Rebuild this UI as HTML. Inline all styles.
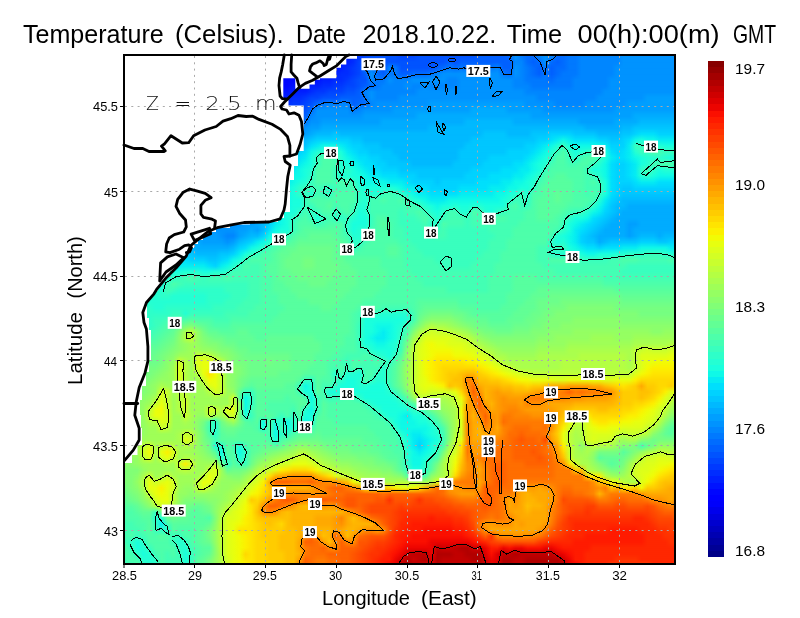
<!DOCTYPE html>
<html><head><meta charset="utf-8"><style>
html,body{margin:0;padding:0;background:#fff;width:800px;height:618px;overflow:hidden}
#fld{position:absolute;left:125px;top:56px;width:549px;height:507px;overflow:hidden}
#fld div{position:absolute;left:0;width:100%}
svg{position:absolute;left:0;top:0}
text{font-family:"Liberation Sans",Arial,sans-serif}
.thin{font-family:"DejaVu Sans",sans-serif;font-weight:200}
</style></head><body>
<div id="fld">
<div style="top:0px;height:7px;background:linear-gradient(90deg,#0006ff 0.5px,#0006ff 132.5px,#0000ff 138.5px,#0000ff 150.5px,#0000fb 156.5px,#0000fb 174.5px,#0000ff 180.5px,#0000ff 192.5px,#0006ff 198.5px,#0006ff 204.5px,#0013ff 210.5px,#0020ff 216.5px,#0020ff 222.5px,#002dff 228.5px,#0039ff 234.5px,#0046ff 240.5px,#0053ff 246.5px,#0053ff 270.5px,#0046ff 276.5px,#0046ff 288.5px,#0053ff 294.5px,#0053ff 348.5px,#0060ff 354.5px,#0060ff 378.5px,#006cff 384.5px,#0093ff 390.5px,#0079ff 396.5px,#006cff 402.5px,#006cff 408.5px,#0086ff 414.5px,#0093ff 420.5px,#0086ff 426.5px,#006cff 432.5px,#006cff 438.5px,#0079ff 444.5px,#0079ff 450.5px,#0086ff 456.5px,#0086ff 492.5px,#0093ff 498.5px,#0093ff 548.5px)"></div>
<div style="top:0px;height:12px;background:linear-gradient(90deg,#0006ff 0.5px,#0006ff 90.5px,#0013ff 96.5px,#0013ff 102.5px,#0006ff 108.5px,#0006ff 132.5px,#0000ff 138.5px,#0000ff 150.5px,#0000fb 156.5px,#0000fb 168.5px,#0000ff 174.5px,#0000ff 192.5px,#0006ff 198.5px,#0006ff 204.5px,#0013ff 210.5px,#0020ff 216.5px,#0020ff 222.5px,#002dff 228.5px,#0046ff 234.5px,#0053ff 240.5px,#0053ff 318.5px,#0060ff 324.5px,#0053ff 330.5px,#0060ff 336.5px,#0060ff 384.5px,#0086ff 390.5px,#0086ff 396.5px,#006cff 402.5px,#0060ff 408.5px,#006cff 414.5px,#0093ff 420.5px,#006cff 426.5px,#0060ff 432.5px,#006cff 438.5px,#0079ff 444.5px,#0079ff 450.5px,#0086ff 456.5px,#0086ff 492.5px,#0093ff 498.5px,#0093ff 548.5px);-webkit-mask-image:linear-gradient(180deg,transparent 0,#000 6px);mask-image:linear-gradient(180deg,transparent 0,#000 6px)"></div>
<div style="top:6px;height:12px;background:linear-gradient(90deg,#0013ff 0.5px,#0013ff 114.5px,#0006ff 120.5px,#0006ff 132.5px,#0000ff 138.5px,#0000ff 186.5px,#0006ff 192.5px,#0006ff 198.5px,#0013ff 204.5px,#0013ff 210.5px,#0020ff 216.5px,#002dff 222.5px,#0039ff 228.5px,#0046ff 234.5px,#0079ff 240.5px,#0079ff 246.5px,#006cff 252.5px,#0053ff 258.5px,#0086ff 264.5px,#0079ff 270.5px,#0053ff 276.5px,#0053ff 306.5px,#0060ff 312.5px,#006cff 318.5px,#0079ff 324.5px,#006cff 330.5px,#0079ff 336.5px,#006cff 342.5px,#006cff 354.5px,#0079ff 360.5px,#0079ff 366.5px,#0086ff 372.5px,#0060ff 378.5px,#0060ff 384.5px,#0093ff 390.5px,#0086ff 396.5px,#0079ff 402.5px,#006cff 408.5px,#0060ff 414.5px,#0079ff 420.5px,#0060ff 426.5px,#006cff 432.5px,#006cff 438.5px,#0079ff 444.5px,#0079ff 450.5px,#0086ff 456.5px,#0086ff 486.5px,#0093ff 492.5px,#0093ff 548.5px);-webkit-mask-image:linear-gradient(180deg,transparent 0,#000 6px);mask-image:linear-gradient(180deg,transparent 0,#000 6px)"></div>
<div style="top:12px;height:12px;background:linear-gradient(90deg,#0013ff 0.5px,#0013ff 120.5px,#0006ff 126.5px,#0006ff 144.5px,#0000ff 150.5px,#0000ff 174.5px,#0006ff 180.5px,#0006ff 192.5px,#0013ff 198.5px,#0013ff 204.5px,#0020ff 210.5px,#002dff 216.5px,#002dff 222.5px,#0039ff 228.5px,#0046ff 234.5px,#0060ff 240.5px,#0093ff 246.5px,#006cff 252.5px,#0060ff 258.5px,#0079ff 264.5px,#0079ff 270.5px,#0060ff 276.5px,#0060ff 282.5px,#006cff 288.5px,#006cff 300.5px,#0079ff 306.5px,#0086ff 312.5px,#0093ff 318.5px,#0093ff 372.5px,#0079ff 378.5px,#006cff 384.5px,#0093ff 390.5px,#0086ff 396.5px,#0079ff 402.5px,#006cff 408.5px,#0060ff 414.5px,#0079ff 420.5px,#0060ff 426.5px,#006cff 432.5px,#0079ff 438.5px,#0079ff 450.5px,#0086ff 456.5px,#0086ff 486.5px,#0093ff 492.5px,#0093ff 548.5px);-webkit-mask-image:linear-gradient(180deg,transparent 0,#000 6px);mask-image:linear-gradient(180deg,transparent 0,#000 6px)"></div>
<div style="top:18px;height:12px;background:linear-gradient(90deg,#0013ff 0.5px,#0013ff 132.5px,#0006ff 138.5px,#0006ff 180.5px,#0013ff 186.5px,#0013ff 192.5px,#0020ff 198.5px,#0020ff 204.5px,#002dff 210.5px,#002dff 216.5px,#0039ff 222.5px,#0046ff 228.5px,#0053ff 234.5px,#0053ff 240.5px,#0086ff 246.5px,#0079ff 252.5px,#0079ff 258.5px,#0093ff 264.5px,#0086ff 270.5px,#0086ff 282.5px,#0093ff 288.5px,#0093ff 318.5px,#0086ff 324.5px,#0086ff 330.5px,#0093ff 336.5px,#0093ff 384.5px,#0086ff 390.5px,#0086ff 396.5px,#0079ff 402.5px,#0079ff 420.5px,#006cff 426.5px,#0079ff 432.5px,#0079ff 444.5px,#0086ff 450.5px,#0086ff 480.5px,#0093ff 486.5px,#0093ff 548.5px);-webkit-mask-image:linear-gradient(180deg,transparent 0,#000 6px);mask-image:linear-gradient(180deg,transparent 0,#000 6px)"></div>
<div style="top:24px;height:12px;background:linear-gradient(90deg,#0020ff 0.5px,#0020ff 120.5px,#0013ff 126.5px,#0013ff 144.5px,#0006ff 150.5px,#0006ff 162.5px,#0013ff 168.5px,#0013ff 180.5px,#0020ff 186.5px,#0020ff 192.5px,#002dff 198.5px,#002dff 204.5px,#0039ff 210.5px,#0039ff 216.5px,#0046ff 222.5px,#0046ff 228.5px,#0053ff 234.5px,#0060ff 240.5px,#006cff 246.5px,#0079ff 252.5px,#0086ff 258.5px,#0086ff 276.5px,#0093ff 282.5px,#0086ff 288.5px,#0086ff 294.5px,#0093ff 300.5px,#0086ff 306.5px,#0086ff 330.5px,#0093ff 336.5px,#0093ff 384.5px,#0086ff 390.5px,#0086ff 402.5px,#0079ff 408.5px,#0079ff 444.5px,#0086ff 450.5px,#0086ff 480.5px,#0093ff 486.5px,#0093ff 548.5px);-webkit-mask-image:linear-gradient(180deg,transparent 0,#000 6px);mask-image:linear-gradient(180deg,transparent 0,#000 6px)"></div>
<div style="top:30px;height:12px;background:linear-gradient(90deg,#0020ff 0.5px,#0020ff 138.5px,#0013ff 144.5px,#0013ff 162.5px,#0020ff 168.5px,#0020ff 180.5px,#002dff 186.5px,#0039ff 192.5px,#0039ff 198.5px,#0046ff 204.5px,#0046ff 216.5px,#0053ff 222.5px,#0053ff 228.5px,#0060ff 234.5px,#0086ff 240.5px,#0093ff 246.5px,#0086ff 252.5px,#0086ff 288.5px,#0093ff 294.5px,#0093ff 396.5px,#0086ff 402.5px,#0086ff 474.5px,#0093ff 480.5px,#0093ff 548.5px);-webkit-mask-image:linear-gradient(180deg,transparent 0,#000 6px);mask-image:linear-gradient(180deg,transparent 0,#000 6px)"></div>
<div style="top:36px;height:12px;background:linear-gradient(90deg,#002dff 0.5px,#002dff 132.5px,#0020ff 138.5px,#0020ff 162.5px,#002dff 168.5px,#002dff 174.5px,#0039ff 180.5px,#0046ff 186.5px,#0046ff 192.5px,#0053ff 198.5px,#0053ff 210.5px,#0060ff 216.5px,#0060ff 234.5px,#0079ff 240.5px,#0093ff 246.5px,#0086ff 252.5px,#0086ff 270.5px,#0093ff 276.5px,#0093ff 408.5px,#0086ff 414.5px,#0086ff 468.5px,#0093ff 474.5px,#0093ff 516.5px,#009fff 522.5px,#009fff 548.5px);-webkit-mask-image:linear-gradient(180deg,transparent 0,#000 6px);mask-image:linear-gradient(180deg,transparent 0,#000 6px)"></div>
<div style="top:42px;height:12px;background:linear-gradient(90deg,#0039ff 0.5px,#0039ff 132.5px,#002dff 138.5px,#002dff 162.5px,#0039ff 168.5px,#0039ff 174.5px,#0046ff 180.5px,#0053ff 186.5px,#006cff 192.5px,#0079ff 198.5px,#0086ff 204.5px,#0079ff 210.5px,#0086ff 216.5px,#0086ff 222.5px,#0060ff 228.5px,#006cff 234.5px,#006cff 240.5px,#0086ff 246.5px,#0093ff 252.5px,#0093ff 300.5px,#009fff 306.5px,#009fff 396.5px,#0093ff 402.5px,#0093ff 426.5px,#0086ff 432.5px,#0086ff 456.5px,#0093ff 462.5px,#0093ff 498.5px,#009fff 504.5px,#009fff 548.5px);-webkit-mask-image:linear-gradient(180deg,transparent 0,#000 6px);mask-image:linear-gradient(180deg,transparent 0,#000 6px)"></div>
<div style="top:48px;height:12px;background:linear-gradient(90deg,#0046ff 0.5px,#0046ff 132.5px,#0039ff 138.5px,#0039ff 156.5px,#0046ff 162.5px,#0046ff 174.5px,#0053ff 180.5px,#006cff 186.5px,#0093ff 192.5px,#0093ff 222.5px,#0079ff 228.5px,#0086ff 234.5px,#0093ff 240.5px,#0093ff 264.5px,#009fff 270.5px,#009fff 342.5px,#00acff 348.5px,#00acff 378.5px,#009fff 384.5px,#009fff 414.5px,#0093ff 420.5px,#0093ff 486.5px,#009fff 492.5px,#009fff 548.5px);-webkit-mask-image:linear-gradient(180deg,transparent 0,#000 6px);mask-image:linear-gradient(180deg,transparent 0,#000 6px)"></div>
<div style="top:54px;height:12px;background:linear-gradient(90deg,#0053ff 0.5px,#0053ff 174.5px,#0060ff 180.5px,#0086ff 186.5px,#0093ff 192.5px,#0093ff 234.5px,#009fff 240.5px,#009fff 288.5px,#00acff 294.5px,#00acff 402.5px,#009fff 408.5px,#009fff 504.5px,#00acff 510.5px,#00acff 548.5px);-webkit-mask-image:linear-gradient(180deg,transparent 0,#000 6px);mask-image:linear-gradient(180deg,transparent 0,#000 6px)"></div>
<div style="top:60px;height:12px;background:linear-gradient(90deg,#0060ff 0.5px,#0060ff 174.5px,#0079ff 180.5px,#0093ff 186.5px,#0093ff 192.5px,#009fff 198.5px,#009fff 252.5px,#00acff 258.5px,#00acff 336.5px,#00b9ff 342.5px,#00b9ff 384.5px,#00acff 390.5px,#00acff 450.5px,#009fff 456.5px,#009fff 486.5px,#00acff 492.5px,#00acff 510.5px,#00b9ff 516.5px,#00b9ff 548.5px);-webkit-mask-image:linear-gradient(180deg,transparent 0,#000 6px);mask-image:linear-gradient(180deg,transparent 0,#000 6px)"></div>
<div style="top:66px;height:12px;background:linear-gradient(90deg,#006cff 0.5px,#006cff 156.5px,#0079ff 162.5px,#0079ff 168.5px,#0086ff 174.5px,#0093ff 180.5px,#009fff 186.5px,#009fff 192.5px,#00acff 198.5px,#00acff 300.5px,#00b9ff 306.5px,#00b9ff 456.5px,#00acff 462.5px,#00acff 492.5px,#00b9ff 498.5px,#00b9ff 504.5px,#00c6ff 510.5px,#00c6ff 548.5px);-webkit-mask-image:linear-gradient(180deg,transparent 0,#000 6px);mask-image:linear-gradient(180deg,transparent 0,#000 6px)"></div>
<div style="top:72px;height:12px;background:linear-gradient(90deg,#0079ff 0.5px,#0079ff 144.5px,#0086ff 150.5px,#0086ff 162.5px,#0093ff 168.5px,#0093ff 174.5px,#009fff 180.5px,#00acff 186.5px,#00b9ff 192.5px,#00b9ff 204.5px,#00c6ff 210.5px,#00b9ff 216.5px,#00b9ff 354.5px,#00c6ff 360.5px,#00c6ff 378.5px,#00b9ff 384.5px,#00b9ff 402.5px,#00c6ff 408.5px,#00c6ff 420.5px,#00d2ff 426.5px,#00d2ff 444.5px,#00c6ff 450.5px,#00c6ff 468.5px,#00b9ff 474.5px,#00b9ff 492.5px,#00c6ff 498.5px,#00c6ff 504.5px,#00d2ff 510.5px,#00dffc 516.5px,#00dffc 528.5px,#00d2ff 534.5px,#00d2ff 548.5px);-webkit-mask-image:linear-gradient(180deg,transparent 0,#000 6px);mask-image:linear-gradient(180deg,transparent 0,#000 6px)"></div>
<div style="top:78px;height:12px;background:linear-gradient(90deg,#0086ff 0.5px,#0086ff 138.5px,#0093ff 144.5px,#0093ff 156.5px,#009fff 162.5px,#009fff 168.5px,#00acff 174.5px,#00b9ff 180.5px,#00c6ff 186.5px,#00d2ff 192.5px,#00d2ff 222.5px,#00c6ff 228.5px,#00c6ff 234.5px,#00b9ff 240.5px,#00b9ff 342.5px,#00c6ff 348.5px,#00c6ff 408.5px,#00d2ff 414.5px,#00d2ff 420.5px,#00dffc 426.5px,#05ecf2 432.5px,#0ff9e7 438.5px,#05ecf2 444.5px,#00dffc 450.5px,#00dffc 468.5px,#00d2ff 474.5px,#00d2ff 480.5px,#00c6ff 486.5px,#00c6ff 492.5px,#00d2ff 498.5px,#00dffc 504.5px,#0ff9e7 510.5px,#1affdd 516.5px,#0ff9e7 522.5px,#0ff9e7 528.5px,#05ecf2 534.5px,#05ecf2 548.5px);-webkit-mask-image:linear-gradient(180deg,transparent 0,#000 6px);mask-image:linear-gradient(180deg,transparent 0,#000 6px)"></div>
<div style="top:84px;height:12px;background:linear-gradient(90deg,#0093ff 0.5px,#0093ff 132.5px,#009fff 138.5px,#009fff 150.5px,#00acff 156.5px,#00acff 162.5px,#00b9ff 168.5px,#00b9ff 174.5px,#00c6ff 180.5px,#00dffc 186.5px,#05ecf2 192.5px,#0ff9e7 198.5px,#0ff9e7 210.5px,#05ecf2 216.5px,#00dffc 222.5px,#00d2ff 228.5px,#00d2ff 234.5px,#00c6ff 240.5px,#00c6ff 252.5px,#00b9ff 258.5px,#00b9ff 336.5px,#00c6ff 342.5px,#00c6ff 396.5px,#00d2ff 402.5px,#00d2ff 408.5px,#00dffc 414.5px,#05ecf2 420.5px,#0ff9e7 426.5px,#24ffd3 432.5px,#39ffbe 438.5px,#1affdd 444.5px,#0ff9e7 450.5px,#0ff9e7 474.5px,#05ecf2 480.5px,#00d2ff 486.5px,#00d2ff 498.5px,#05ecf2 504.5px,#39ffbe 510.5px,#39ffbe 522.5px,#2effc9 528.5px,#24ffd3 534.5px,#1affdd 540.5px,#1affdd 548.5px);-webkit-mask-image:linear-gradient(180deg,transparent 0,#000 6px);mask-image:linear-gradient(180deg,transparent 0,#000 6px)"></div>
<div style="top:90px;height:12px;background:linear-gradient(90deg,#009fff 0.5px,#009fff 132.5px,#00acff 138.5px,#00acff 150.5px,#00b9ff 156.5px,#00b9ff 162.5px,#00c6ff 168.5px,#00d2ff 174.5px,#00dffc 180.5px,#0ff9e7 186.5px,#24ffd3 192.5px,#2effc9 198.5px,#2effc9 210.5px,#1affdd 216.5px,#05ecf2 222.5px,#00dffc 228.5px,#00d2ff 234.5px,#00d2ff 240.5px,#00c6ff 246.5px,#00c6ff 264.5px,#00b9ff 270.5px,#00b9ff 330.5px,#00c6ff 336.5px,#00c6ff 378.5px,#00d2ff 384.5px,#00d2ff 402.5px,#00dffc 408.5px,#05ecf2 414.5px,#0ff9e7 420.5px,#24ffd3 426.5px,#39ffbe 432.5px,#4dffaa 438.5px,#2effc9 444.5px,#1affdd 450.5px,#24ffd3 456.5px,#2effc9 462.5px,#39ffbe 468.5px,#39ffbe 474.5px,#1affdd 480.5px,#00dffc 486.5px,#00d2ff 492.5px,#00dffc 498.5px,#05ecf2 504.5px,#24ffd3 510.5px,#39ffbe 516.5px,#39ffbe 522.5px,#4dffaa 528.5px,#43ffb4 534.5px,#39ffbe 540.5px,#39ffbe 548.5px);-webkit-mask-image:linear-gradient(180deg,transparent 0,#000 6px);mask-image:linear-gradient(180deg,transparent 0,#000 6px)"></div>
<div style="top:96px;height:12px;background:linear-gradient(90deg,#009fff 0.5px,#009fff 114.5px,#00acff 120.5px,#00acff 138.5px,#00b9ff 144.5px,#00b9ff 150.5px,#00c6ff 156.5px,#00c6ff 162.5px,#00d2ff 168.5px,#00dffc 174.5px,#05ecf2 180.5px,#1affdd 186.5px,#39ffbe 192.5px,#4dffaa 198.5px,#4dffaa 204.5px,#43ffb4 210.5px,#24ffd3 216.5px,#0ff9e7 222.5px,#05ecf2 228.5px,#00dffc 234.5px,#00dffc 240.5px,#00d2ff 246.5px,#00d2ff 252.5px,#00c6ff 258.5px,#00c6ff 270.5px,#00b9ff 276.5px,#00b9ff 330.5px,#00c6ff 336.5px,#00c6ff 360.5px,#00d2ff 366.5px,#00d2ff 396.5px,#00dffc 402.5px,#05ecf2 408.5px,#0ff9e7 414.5px,#1affdd 420.5px,#2effc9 426.5px,#4dffaa 432.5px,#4dffaa 438.5px,#39ffbe 444.5px,#24ffd3 450.5px,#43ffb4 456.5px,#4dffaa 462.5px,#4dffaa 468.5px,#39ffbe 474.5px,#1affdd 480.5px,#05ecf2 486.5px,#00dffc 492.5px,#00dffc 498.5px,#05ecf2 504.5px,#0ff9e7 510.5px,#1affdd 516.5px,#24ffd3 522.5px,#24ffd3 528.5px,#2effc9 534.5px,#24ffd3 540.5px,#1affdd 546.5px,#24ffd3 548.5px);-webkit-mask-image:linear-gradient(180deg,transparent 0,#000 6px);mask-image:linear-gradient(180deg,transparent 0,#000 6px)"></div>
<div style="top:102px;height:12px;background:linear-gradient(90deg,#00acff 0.5px,#00acff 126.5px,#00b9ff 132.5px,#00b9ff 144.5px,#00c6ff 150.5px,#00d2ff 156.5px,#00d2ff 162.5px,#00dffc 168.5px,#05ecf2 174.5px,#0ff9e7 180.5px,#1affdd 186.5px,#39ffbe 192.5px,#4dffaa 198.5px,#4dffaa 204.5px,#43ffb4 210.5px,#24ffd3 216.5px,#1affdd 222.5px,#0ff9e7 228.5px,#05ecf2 234.5px,#00dffc 240.5px,#00dffc 246.5px,#00d2ff 252.5px,#00d2ff 258.5px,#00c6ff 264.5px,#00c6ff 282.5px,#00b9ff 288.5px,#00b9ff 324.5px,#00c6ff 330.5px,#00c6ff 354.5px,#00d2ff 360.5px,#00d2ff 384.5px,#00dffc 390.5px,#00dffc 396.5px,#05ecf2 402.5px,#0ff9e7 408.5px,#1affdd 414.5px,#24ffd3 420.5px,#43ffb4 426.5px,#4dffaa 432.5px,#4dffaa 438.5px,#43ffb4 444.5px,#43ffb4 450.5px,#4dffaa 456.5px,#4dffaa 462.5px,#39ffbe 468.5px,#24ffd3 474.5px,#0ff9e7 480.5px,#00dffc 486.5px,#00d2ff 492.5px,#00d2ff 498.5px,#00dffc 504.5px,#05ecf2 510.5px,#1affdd 516.5px,#24ffd3 522.5px,#43ffb4 528.5px,#43ffb4 534.5px,#4dffaa 540.5px,#4dffaa 546.5px,#43ffb4 548.5px);-webkit-mask-image:linear-gradient(180deg,transparent 0,#000 6px);mask-image:linear-gradient(180deg,transparent 0,#000 6px)"></div>
<div style="top:108px;height:12px;background:linear-gradient(90deg,#00acff 0.5px,#00acff 120.5px,#00b9ff 126.5px,#00b9ff 138.5px,#00c6ff 144.5px,#00d2ff 150.5px,#00d2ff 156.5px,#00dffc 162.5px,#05ecf2 168.5px,#0ff9e7 174.5px,#1affdd 180.5px,#24ffd3 186.5px,#4dffaa 192.5px,#4dffaa 204.5px,#39ffbe 210.5px,#24ffd3 216.5px,#2effc9 222.5px,#1affdd 228.5px,#0ff9e7 234.5px,#05ecf2 240.5px,#00dffc 246.5px,#00dffc 252.5px,#00d2ff 258.5px,#00d2ff 270.5px,#00c6ff 276.5px,#00c6ff 342.5px,#00d2ff 348.5px,#00d2ff 372.5px,#00dffc 378.5px,#00dffc 390.5px,#05ecf2 396.5px,#05ecf2 402.5px,#0ff9e7 408.5px,#1affdd 414.5px,#39ffbe 420.5px,#4dffaa 426.5px,#4dffaa 456.5px,#39ffbe 462.5px,#1affdd 468.5px,#1affdd 474.5px,#0ff9e7 480.5px,#00dffc 486.5px,#00d2ff 492.5px,#00d2ff 498.5px,#00dffc 504.5px,#05ecf2 510.5px,#2effc9 516.5px,#43ffb4 522.5px,#2effc9 528.5px,#1affdd 534.5px,#24ffd3 540.5px,#24ffd3 548.5px);-webkit-mask-image:linear-gradient(180deg,transparent 0,#000 6px);mask-image:linear-gradient(180deg,transparent 0,#000 6px)"></div>
<div style="top:114px;height:12px;background:linear-gradient(90deg,#00acff 0.5px,#00acff 120.5px,#00b9ff 126.5px,#00b9ff 132.5px,#00c6ff 138.5px,#00c6ff 144.5px,#00d2ff 150.5px,#00dffc 156.5px,#05ecf2 162.5px,#0ff9e7 168.5px,#0ff9e7 174.5px,#1affdd 180.5px,#2effc9 186.5px,#4dffaa 192.5px,#4dffaa 204.5px,#39ffbe 210.5px,#1affdd 216.5px,#24ffd3 222.5px,#1affdd 228.5px,#1affdd 234.5px,#0ff9e7 240.5px,#05ecf2 246.5px,#05ecf2 252.5px,#00dffc 258.5px,#00dffc 270.5px,#00d2ff 276.5px,#00d2ff 288.5px,#00c6ff 294.5px,#00c6ff 336.5px,#00d2ff 342.5px,#00d2ff 360.5px,#00dffc 366.5px,#00dffc 384.5px,#05ecf2 390.5px,#05ecf2 396.5px,#0ff9e7 402.5px,#1affdd 408.5px,#2effc9 414.5px,#4dffaa 420.5px,#4dffaa 426.5px,#57ff9f 432.5px,#57ff9f 438.5px,#4dffaa 444.5px,#4dffaa 456.5px,#43ffb4 462.5px,#39ffbe 468.5px,#24ffd3 474.5px,#0ff9e7 480.5px,#00dffc 486.5px,#00d2ff 492.5px,#00d2ff 498.5px,#00dffc 504.5px,#05ecf2 510.5px,#24ffd3 516.5px,#2effc9 522.5px,#1affdd 528.5px,#0ff9e7 534.5px,#0ff9e7 548.5px);-webkit-mask-image:linear-gradient(180deg,transparent 0,#000 6px);mask-image:linear-gradient(180deg,transparent 0,#000 6px)"></div>
<div style="top:120px;height:12px;background:linear-gradient(90deg,#00acff 0.5px,#00acff 126.5px,#00b9ff 132.5px,#00c6ff 138.5px,#00c6ff 144.5px,#00d2ff 150.5px,#00dffc 156.5px,#05ecf2 162.5px,#0ff9e7 168.5px,#1affdd 174.5px,#24ffd3 180.5px,#39ffbe 186.5px,#4dffaa 192.5px,#4dffaa 204.5px,#43ffb4 210.5px,#4dffaa 216.5px,#43ffb4 222.5px,#39ffbe 228.5px,#1affdd 234.5px,#0ff9e7 240.5px,#0ff9e7 258.5px,#05ecf2 264.5px,#05ecf2 276.5px,#00dffc 282.5px,#00d2ff 288.5px,#00d2ff 306.5px,#00c6ff 312.5px,#00d2ff 318.5px,#00d2ff 348.5px,#00dffc 354.5px,#00dffc 372.5px,#05ecf2 378.5px,#05ecf2 384.5px,#0ff9e7 390.5px,#0ff9e7 396.5px,#1affdd 402.5px,#24ffd3 408.5px,#43ffb4 414.5px,#4dffaa 420.5px,#57ff9f 426.5px,#57ff9f 444.5px,#4dffaa 450.5px,#4dffaa 456.5px,#43ffb4 462.5px,#4dffaa 468.5px,#39ffbe 474.5px,#1affdd 480.5px,#00dffc 486.5px,#00d2ff 492.5px,#00d2ff 504.5px,#00dffc 510.5px,#05ecf2 516.5px,#05ecf2 528.5px,#00dffc 534.5px,#00dffc 548.5px);-webkit-mask-image:linear-gradient(180deg,transparent 0,#000 6px);mask-image:linear-gradient(180deg,transparent 0,#000 6px)"></div>
<div style="top:126px;height:12px;background:linear-gradient(90deg,#00acff 0.5px,#00acff 126.5px,#00b9ff 132.5px,#00c6ff 138.5px,#00c6ff 144.5px,#00d2ff 150.5px,#05ecf2 156.5px,#0ff9e7 162.5px,#1affdd 168.5px,#2effc9 174.5px,#39ffbe 180.5px,#39ffbe 186.5px,#43ffb4 192.5px,#39ffbe 198.5px,#2effc9 204.5px,#43ffb4 210.5px,#43ffb4 228.5px,#24ffd3 234.5px,#1affdd 240.5px,#1affdd 258.5px,#24ffd3 264.5px,#1affdd 270.5px,#0ff9e7 276.5px,#05ecf2 282.5px,#05ecf2 288.5px,#00dffc 294.5px,#00dffc 300.5px,#00d2ff 306.5px,#00d2ff 330.5px,#00dffc 336.5px,#00dffc 360.5px,#05ecf2 366.5px,#05ecf2 378.5px,#0ff9e7 384.5px,#0ff9e7 390.5px,#1affdd 396.5px,#1affdd 402.5px,#2effc9 408.5px,#4dffaa 414.5px,#57ff9f 420.5px,#57ff9f 444.5px,#4dffaa 450.5px,#4dffaa 456.5px,#43ffb4 462.5px,#43ffb4 474.5px,#1affdd 480.5px,#00dffc 486.5px,#00d2ff 492.5px,#00c6ff 498.5px,#00c6ff 504.5px,#00d2ff 510.5px,#00d2ff 548.5px);-webkit-mask-image:linear-gradient(180deg,transparent 0,#000 6px);mask-image:linear-gradient(180deg,transparent 0,#000 6px)"></div>
<div style="top:132px;height:12px;background:linear-gradient(90deg,#00acff 0.5px,#00acff 90.5px,#009fff 96.5px,#009fff 120.5px,#00acff 126.5px,#00b9ff 132.5px,#00b9ff 138.5px,#00c6ff 144.5px,#00dffc 150.5px,#05ecf2 156.5px,#0ff9e7 162.5px,#1affdd 168.5px,#2effc9 174.5px,#39ffbe 180.5px,#24ffd3 186.5px,#43ffb4 192.5px,#39ffbe 198.5px,#2effc9 204.5px,#4dffaa 210.5px,#4dffaa 228.5px,#2effc9 234.5px,#24ffd3 240.5px,#24ffd3 252.5px,#39ffbe 258.5px,#43ffb4 264.5px,#39ffbe 270.5px,#2effc9 276.5px,#1affdd 282.5px,#0ff9e7 288.5px,#05ecf2 294.5px,#05ecf2 300.5px,#00dffc 306.5px,#00dffc 330.5px,#05ecf2 336.5px,#05ecf2 366.5px,#0ff9e7 372.5px,#0ff9e7 378.5px,#1affdd 384.5px,#24ffd3 390.5px,#39ffbe 396.5px,#24ffd3 402.5px,#4dffaa 408.5px,#4dffaa 414.5px,#57ff9f 420.5px,#57ff9f 426.5px,#62ff95 432.5px,#57ff9f 438.5px,#57ff9f 444.5px,#4dffaa 450.5px,#4dffaa 456.5px,#43ffb4 462.5px,#4dffaa 468.5px,#39ffbe 474.5px,#1affdd 480.5px,#00dffc 486.5px,#00d2ff 492.5px,#00c6ff 498.5px,#00c6ff 548.5px);-webkit-mask-image:linear-gradient(180deg,transparent 0,#000 6px);mask-image:linear-gradient(180deg,transparent 0,#000 6px)"></div>
<div style="top:138px;height:12px;background:linear-gradient(90deg,#00acff 0.5px,#00acff 78.5px,#009fff 84.5px,#009fff 120.5px,#00acff 126.5px,#00acff 132.5px,#00b9ff 138.5px,#00d2ff 144.5px,#00dffc 150.5px,#05ecf2 156.5px,#0ff9e7 162.5px,#1affdd 168.5px,#1affdd 174.5px,#39ffbe 180.5px,#4dffaa 186.5px,#4dffaa 228.5px,#2effc9 234.5px,#24ffd3 240.5px,#43ffb4 246.5px,#43ffb4 252.5px,#4dffaa 258.5px,#43ffb4 264.5px,#43ffb4 270.5px,#4dffaa 276.5px,#39ffbe 282.5px,#24ffd3 288.5px,#1affdd 294.5px,#0ff9e7 300.5px,#05ecf2 306.5px,#05ecf2 318.5px,#0ff9e7 324.5px,#0ff9e7 372.5px,#1affdd 378.5px,#24ffd3 384.5px,#39ffbe 390.5px,#39ffbe 396.5px,#2effc9 402.5px,#4dffaa 408.5px,#57ff9f 414.5px,#57ff9f 426.5px,#62ff95 432.5px,#57ff9f 438.5px,#57ff9f 444.5px,#4dffaa 450.5px,#4dffaa 462.5px,#43ffb4 468.5px,#24ffd3 474.5px,#05ecf2 480.5px,#00d2ff 486.5px,#00c6ff 492.5px,#00b9ff 498.5px,#00b9ff 548.5px);-webkit-mask-image:linear-gradient(180deg,transparent 0,#000 6px);mask-image:linear-gradient(180deg,transparent 0,#000 6px)"></div>
<div style="top:144px;height:12px;background:linear-gradient(90deg,#00acff 0.5px,#00acff 30.5px,#009fff 36.5px,#009fff 54.5px,#00acff 60.5px,#009fff 66.5px,#009fff 96.5px,#0093ff 102.5px,#0093ff 114.5px,#009fff 120.5px,#009fff 126.5px,#00acff 132.5px,#00b9ff 138.5px,#00d2ff 144.5px,#00dffc 150.5px,#05ecf2 156.5px,#0ff9e7 162.5px,#1affdd 168.5px,#1affdd 174.5px,#39ffbe 180.5px,#39ffbe 186.5px,#4dffaa 192.5px,#4dffaa 198.5px,#57ff9f 204.5px,#43ffb4 210.5px,#4dffaa 216.5px,#4dffaa 222.5px,#43ffb4 228.5px,#24ffd3 234.5px,#24ffd3 240.5px,#43ffb4 246.5px,#43ffb4 288.5px,#39ffbe 294.5px,#24ffd3 300.5px,#1affdd 306.5px,#0ff9e7 312.5px,#1affdd 318.5px,#1affdd 324.5px,#24ffd3 330.5px,#1affdd 336.5px,#1affdd 342.5px,#24ffd3 348.5px,#24ffd3 354.5px,#1affdd 360.5px,#1affdd 378.5px,#43ffb4 384.5px,#4dffaa 390.5px,#39ffbe 396.5px,#39ffbe 402.5px,#4dffaa 408.5px,#57ff9f 414.5px,#57ff9f 438.5px,#4dffaa 444.5px,#4dffaa 456.5px,#43ffb4 462.5px,#2effc9 468.5px,#0ff9e7 474.5px,#00dffc 480.5px,#00c6ff 486.5px,#00b9ff 492.5px,#00b9ff 498.5px,#00acff 504.5px,#00acff 548.5px);-webkit-mask-image:linear-gradient(180deg,transparent 0,#000 6px);mask-image:linear-gradient(180deg,transparent 0,#000 6px)"></div>
<div style="top:150px;height:12px;background:linear-gradient(90deg,#00acff 0.5px,#00acff 30.5px,#009fff 36.5px,#009fff 90.5px,#0093ff 96.5px,#0093ff 114.5px,#009fff 120.5px,#009fff 126.5px,#00acff 132.5px,#00b9ff 138.5px,#00d2ff 144.5px,#00dffc 150.5px,#0ff9e7 156.5px,#1affdd 162.5px,#1affdd 168.5px,#2effc9 174.5px,#43ffb4 180.5px,#2effc9 186.5px,#39ffbe 192.5px,#4dffaa 198.5px,#4dffaa 204.5px,#2effc9 210.5px,#43ffb4 216.5px,#4dffaa 222.5px,#39ffbe 228.5px,#1affdd 234.5px,#24ffd3 240.5px,#43ffb4 246.5px,#43ffb4 270.5px,#39ffbe 276.5px,#43ffb4 282.5px,#43ffb4 288.5px,#4dffaa 294.5px,#39ffbe 300.5px,#24ffd3 306.5px,#1affdd 312.5px,#2effc9 318.5px,#43ffb4 324.5px,#43ffb4 330.5px,#24ffd3 336.5px,#24ffd3 342.5px,#4dffaa 348.5px,#43ffb4 354.5px,#24ffd3 360.5px,#1affdd 366.5px,#2effc9 372.5px,#39ffbe 378.5px,#43ffb4 384.5px,#43ffb4 396.5px,#4dffaa 402.5px,#4dffaa 408.5px,#57ff9f 414.5px,#57ff9f 432.5px,#4dffaa 438.5px,#43ffb4 444.5px,#39ffbe 450.5px,#39ffbe 456.5px,#24ffd3 462.5px,#0ff9e7 468.5px,#05ecf2 474.5px,#00d2ff 480.5px,#00c6ff 486.5px,#00b9ff 492.5px,#00acff 498.5px,#00acff 548.5px);-webkit-mask-image:linear-gradient(180deg,transparent 0,#000 6px);mask-image:linear-gradient(180deg,transparent 0,#000 6px)"></div>
<div style="top:156px;height:12px;background:linear-gradient(90deg,#00acff 0.5px,#00acff 42.5px,#009fff 48.5px,#009fff 84.5px,#0093ff 90.5px,#0093ff 114.5px,#009fff 120.5px,#009fff 126.5px,#00acff 132.5px,#00c6ff 138.5px,#00d2ff 144.5px,#05ecf2 150.5px,#0ff9e7 156.5px,#1affdd 162.5px,#2effc9 168.5px,#43ffb4 174.5px,#4dffaa 180.5px,#39ffbe 186.5px,#1affdd 192.5px,#39ffbe 198.5px,#43ffb4 204.5px,#2effc9 210.5px,#2effc9 216.5px,#39ffbe 222.5px,#24ffd3 228.5px,#1affdd 234.5px,#1affdd 240.5px,#39ffbe 246.5px,#4dffaa 252.5px,#4dffaa 258.5px,#43ffb4 264.5px,#43ffb4 270.5px,#39ffbe 276.5px,#39ffbe 288.5px,#43ffb4 294.5px,#4dffaa 300.5px,#39ffbe 306.5px,#24ffd3 312.5px,#39ffbe 318.5px,#43ffb4 324.5px,#43ffb4 336.5px,#39ffbe 342.5px,#43ffb4 348.5px,#43ffb4 360.5px,#39ffbe 366.5px,#4dffaa 372.5px,#4dffaa 378.5px,#43ffb4 384.5px,#43ffb4 396.5px,#4dffaa 402.5px,#4dffaa 408.5px,#57ff9f 414.5px,#57ff9f 426.5px,#4dffaa 432.5px,#43ffb4 438.5px,#2effc9 444.5px,#1affdd 450.5px,#1affdd 456.5px,#0ff9e7 462.5px,#00dffc 468.5px,#00d2ff 474.5px,#00c6ff 480.5px,#00b9ff 486.5px,#00acff 492.5px,#00acff 548.5px);-webkit-mask-image:linear-gradient(180deg,transparent 0,#000 6px);mask-image:linear-gradient(180deg,transparent 0,#000 6px)"></div>
<div style="top:162px;height:12px;background:linear-gradient(90deg,#00acff 0.5px,#00acff 54.5px,#009fff 60.5px,#009fff 84.5px,#0093ff 90.5px,#0093ff 114.5px,#009fff 120.5px,#009fff 126.5px,#00acff 132.5px,#00b9ff 138.5px,#00d2ff 144.5px,#05ecf2 150.5px,#0ff9e7 156.5px,#1affdd 162.5px,#39ffbe 168.5px,#4dffaa 174.5px,#4dffaa 186.5px,#39ffbe 192.5px,#43ffb4 198.5px,#4dffaa 204.5px,#4dffaa 216.5px,#2effc9 222.5px,#1affdd 228.5px,#1affdd 240.5px,#39ffbe 246.5px,#4dffaa 252.5px,#57ff9f 258.5px,#4dffaa 264.5px,#43ffb4 270.5px,#39ffbe 276.5px,#39ffbe 294.5px,#43ffb4 300.5px,#2effc9 306.5px,#2effc9 312.5px,#4dffaa 318.5px,#43ffb4 324.5px,#43ffb4 336.5px,#39ffbe 342.5px,#43ffb4 348.5px,#43ffb4 390.5px,#4dffaa 396.5px,#4dffaa 432.5px,#39ffbe 438.5px,#1affdd 444.5px,#0ff9e7 450.5px,#05ecf2 456.5px,#00dffc 462.5px,#00d2ff 468.5px,#00c6ff 474.5px,#00b9ff 480.5px,#00acff 486.5px,#00acff 498.5px,#009fff 504.5px,#009fff 510.5px,#00acff 516.5px,#00acff 548.5px);-webkit-mask-image:linear-gradient(180deg,transparent 0,#000 6px);mask-image:linear-gradient(180deg,transparent 0,#000 6px)"></div>
<div style="top:168px;height:12px;background:linear-gradient(90deg,#00b9ff 0.5px,#00b9ff 24.5px,#00acff 30.5px,#00acff 60.5px,#009fff 66.5px,#009fff 84.5px,#0093ff 90.5px,#0093ff 108.5px,#009fff 114.5px,#009fff 120.5px,#00acff 126.5px,#009fff 132.5px,#00b9ff 138.5px,#00dffc 144.5px,#0ff9e7 150.5px,#1affdd 156.5px,#1affdd 162.5px,#39ffbe 168.5px,#4dffaa 174.5px,#57ff9f 180.5px,#57ff9f 210.5px,#4dffaa 216.5px,#2effc9 222.5px,#1affdd 228.5px,#24ffd3 234.5px,#24ffd3 240.5px,#43ffb4 246.5px,#4dffaa 252.5px,#4dffaa 264.5px,#43ffb4 270.5px,#43ffb4 276.5px,#39ffbe 282.5px,#39ffbe 294.5px,#43ffb4 300.5px,#2effc9 306.5px,#39ffbe 312.5px,#43ffb4 318.5px,#39ffbe 324.5px,#39ffbe 360.5px,#43ffb4 366.5px,#43ffb4 384.5px,#4dffaa 390.5px,#4dffaa 426.5px,#43ffb4 432.5px,#2effc9 438.5px,#1affdd 444.5px,#05ecf2 450.5px,#00dffc 456.5px,#00d2ff 462.5px,#00c6ff 468.5px,#00b9ff 474.5px,#00acff 480.5px,#00acff 498.5px,#009fff 504.5px,#00acff 510.5px,#00acff 548.5px);-webkit-mask-image:linear-gradient(180deg,transparent 0,#000 6px);mask-image:linear-gradient(180deg,transparent 0,#000 6px)"></div>
<div style="top:174px;height:12px;background:linear-gradient(90deg,#00c6ff 0.5px,#00c6ff 12.5px,#00b9ff 18.5px,#00b9ff 42.5px,#00acff 48.5px,#00acff 66.5px,#009fff 72.5px,#009fff 90.5px,#0093ff 96.5px,#0086ff 102.5px,#0086ff 108.5px,#009fff 114.5px,#00acff 120.5px,#00b9ff 126.5px,#00b9ff 132.5px,#00d2ff 138.5px,#0ff9e7 144.5px,#1affdd 150.5px,#2effc9 156.5px,#39ffbe 162.5px,#4dffaa 168.5px,#57ff9f 174.5px,#57ff9f 180.5px,#62ff95 186.5px,#62ff95 204.5px,#57ff9f 210.5px,#4dffaa 216.5px,#43ffb4 222.5px,#24ffd3 228.5px,#24ffd3 234.5px,#2effc9 240.5px,#4dffaa 246.5px,#4dffaa 264.5px,#43ffb4 270.5px,#43ffb4 276.5px,#39ffbe 282.5px,#39ffbe 306.5px,#43ffb4 312.5px,#43ffb4 318.5px,#39ffbe 324.5px,#39ffbe 366.5px,#43ffb4 372.5px,#43ffb4 384.5px,#4dffaa 390.5px,#4dffaa 420.5px,#43ffb4 426.5px,#24ffd3 432.5px,#1affdd 438.5px,#0ff9e7 444.5px,#05ecf2 450.5px,#00d2ff 456.5px,#00c6ff 462.5px,#00b9ff 468.5px,#00acff 474.5px,#00acff 498.5px,#009fff 504.5px,#00acff 510.5px,#00b9ff 516.5px,#00b9ff 528.5px,#00acff 534.5px,#00b9ff 540.5px,#00b9ff 548.5px);-webkit-mask-image:linear-gradient(180deg,transparent 0,#000 6px);mask-image:linear-gradient(180deg,transparent 0,#000 6px)"></div>
<div style="top:180px;height:12px;background:linear-gradient(90deg,#00c6ff 0.5px,#00c6ff 36.5px,#00b9ff 42.5px,#00b9ff 54.5px,#00acff 60.5px,#00acff 72.5px,#009fff 78.5px,#009fff 96.5px,#0093ff 102.5px,#009fff 108.5px,#00b9ff 114.5px,#00c6ff 120.5px,#00d2ff 126.5px,#05ecf2 132.5px,#0ff9e7 138.5px,#24ffd3 144.5px,#39ffbe 150.5px,#43ffb4 156.5px,#4dffaa 162.5px,#57ff9f 168.5px,#62ff95 174.5px,#62ff95 210.5px,#57ff9f 216.5px,#4dffaa 222.5px,#2effc9 228.5px,#2effc9 234.5px,#43ffb4 240.5px,#4dffaa 246.5px,#4dffaa 270.5px,#43ffb4 276.5px,#43ffb4 282.5px,#39ffbe 288.5px,#39ffbe 360.5px,#43ffb4 366.5px,#43ffb4 378.5px,#4dffaa 384.5px,#4dffaa 420.5px,#2effc9 426.5px,#1affdd 432.5px,#24ffd3 438.5px,#0ff9e7 444.5px,#05ecf2 450.5px,#00d2ff 456.5px,#00c6ff 462.5px,#00c6ff 468.5px,#00acff 474.5px,#00b9ff 480.5px,#00c6ff 486.5px,#00c6ff 510.5px,#00d2ff 516.5px,#00d2ff 528.5px,#00c6ff 534.5px,#00c6ff 540.5px,#00d2ff 546.5px,#00d2ff 548.5px);-webkit-mask-image:linear-gradient(180deg,transparent 0,#000 6px);mask-image:linear-gradient(180deg,transparent 0,#000 6px)"></div>
<div style="top:186px;height:12px;background:linear-gradient(90deg,#00d2ff 0.5px,#00d2ff 30.5px,#00c6ff 36.5px,#00c6ff 54.5px,#00b9ff 60.5px,#00b9ff 66.5px,#00acff 72.5px,#00acff 102.5px,#00b9ff 108.5px,#00d2ff 114.5px,#00dffc 120.5px,#0ff9e7 126.5px,#1affdd 132.5px,#2effc9 138.5px,#43ffb4 144.5px,#4dffaa 150.5px,#57ff9f 156.5px,#62ff95 162.5px,#62ff95 168.5px,#6cff8b 174.5px,#6cff8b 204.5px,#62ff95 210.5px,#57ff9f 216.5px,#39ffbe 222.5px,#2effc9 228.5px,#43ffb4 234.5px,#4dffaa 240.5px,#4dffaa 258.5px,#57ff9f 264.5px,#57ff9f 270.5px,#4dffaa 276.5px,#43ffb4 282.5px,#43ffb4 288.5px,#39ffbe 294.5px,#39ffbe 360.5px,#43ffb4 366.5px,#43ffb4 378.5px,#4dffaa 384.5px,#4dffaa 408.5px,#43ffb4 414.5px,#43ffb4 420.5px,#2effc9 426.5px,#39ffbe 432.5px,#39ffbe 438.5px,#1affdd 444.5px,#0ff9e7 450.5px,#05ecf2 456.5px,#00dffc 462.5px,#00dffc 468.5px,#00d2ff 474.5px,#00dffc 480.5px,#00dffc 492.5px,#05ecf2 498.5px,#05ecf2 510.5px,#0ff9e7 516.5px,#0ff9e7 540.5px,#05ecf2 546.5px,#05ecf2 548.5px);-webkit-mask-image:linear-gradient(180deg,transparent 0,#000 6px);mask-image:linear-gradient(180deg,transparent 0,#000 6px)"></div>
<div style="top:192px;height:12px;background:linear-gradient(90deg,#00dffc 0.5px,#00dffc 24.5px,#00d2ff 30.5px,#00d2ff 48.5px,#00c6ff 54.5px,#00c6ff 66.5px,#00b9ff 72.5px,#00b9ff 90.5px,#00c6ff 96.5px,#00c6ff 102.5px,#00d2ff 108.5px,#05ecf2 114.5px,#1affdd 120.5px,#2effc9 126.5px,#39ffbe 132.5px,#4dffaa 138.5px,#4dffaa 144.5px,#57ff9f 150.5px,#62ff95 156.5px,#62ff95 162.5px,#6cff8b 168.5px,#6cff8b 204.5px,#62ff95 210.5px,#57ff9f 216.5px,#4dffaa 222.5px,#4dffaa 258.5px,#57ff9f 264.5px,#57ff9f 270.5px,#4dffaa 276.5px,#43ffb4 282.5px,#43ffb4 294.5px,#39ffbe 300.5px,#39ffbe 354.5px,#43ffb4 360.5px,#43ffb4 372.5px,#4dffaa 378.5px,#4dffaa 408.5px,#43ffb4 414.5px,#43ffb4 420.5px,#2effc9 426.5px,#24ffd3 432.5px,#24ffd3 450.5px,#1affdd 456.5px,#0ff9e7 462.5px,#0ff9e7 468.5px,#1affdd 474.5px,#1affdd 486.5px,#24ffd3 492.5px,#24ffd3 498.5px,#2effc9 504.5px,#2effc9 516.5px,#39ffbe 522.5px,#39ffbe 534.5px,#2effc9 540.5px,#24ffd3 546.5px,#24ffd3 548.5px);-webkit-mask-image:linear-gradient(180deg,transparent 0,#000 6px);mask-image:linear-gradient(180deg,transparent 0,#000 6px)"></div>
<div style="top:198px;height:12px;background:linear-gradient(90deg,#05ecf2 0.5px,#05ecf2 12.5px,#00dffc 18.5px,#00dffc 60.5px,#00d2ff 66.5px,#00d2ff 78.5px,#00c6ff 84.5px,#00c6ff 90.5px,#00d2ff 96.5px,#00dffc 102.5px,#0ff9e7 108.5px,#1affdd 114.5px,#39ffbe 120.5px,#4dffaa 126.5px,#4dffaa 144.5px,#57ff9f 150.5px,#62ff95 156.5px,#6cff8b 162.5px,#6cff8b 174.5px,#76ff81 180.5px,#76ff81 186.5px,#6cff8b 192.5px,#6cff8b 204.5px,#62ff95 210.5px,#62ff95 216.5px,#57ff9f 222.5px,#57ff9f 252.5px,#4dffaa 258.5px,#4dffaa 276.5px,#43ffb4 282.5px,#43ffb4 306.5px,#39ffbe 312.5px,#39ffbe 348.5px,#43ffb4 354.5px,#43ffb4 372.5px,#4dffaa 378.5px,#4dffaa 408.5px,#43ffb4 414.5px,#43ffb4 420.5px,#4dffaa 426.5px,#4dffaa 444.5px,#43ffb4 450.5px,#39ffbe 456.5px,#39ffbe 480.5px,#43ffb4 486.5px,#43ffb4 492.5px,#4dffaa 498.5px,#4dffaa 510.5px,#43ffb4 516.5px,#43ffb4 540.5px,#4dffaa 546.5px,#43ffb4 548.5px);-webkit-mask-image:linear-gradient(180deg,transparent 0,#000 6px);mask-image:linear-gradient(180deg,transparent 0,#000 6px)"></div>
<div style="top:204px;height:12px;background:linear-gradient(90deg,#05ecf2 0.5px,#05ecf2 78.5px,#00dffc 84.5px,#00d2ff 90.5px,#05ecf2 96.5px,#0ff9e7 102.5px,#24ffd3 108.5px,#39ffbe 114.5px,#4dffaa 120.5px,#43ffb4 126.5px,#43ffb4 132.5px,#4dffaa 138.5px,#57ff9f 144.5px,#57ff9f 150.5px,#62ff95 156.5px,#6cff8b 162.5px,#6cff8b 174.5px,#76ff81 180.5px,#76ff81 186.5px,#6cff8b 192.5px,#6cff8b 210.5px,#62ff95 216.5px,#62ff95 222.5px,#57ff9f 228.5px,#57ff9f 252.5px,#4dffaa 258.5px,#4dffaa 276.5px,#43ffb4 282.5px,#43ffb4 312.5px,#39ffbe 318.5px,#39ffbe 342.5px,#43ffb4 348.5px,#43ffb4 366.5px,#4dffaa 372.5px,#4dffaa 414.5px,#43ffb4 420.5px,#43ffb4 498.5px,#39ffbe 504.5px,#39ffbe 548.5px);-webkit-mask-image:linear-gradient(180deg,transparent 0,#000 6px);mask-image:linear-gradient(180deg,transparent 0,#000 6px)"></div>
<div style="top:210px;height:12px;background:linear-gradient(90deg,#0ff9e7 0.5px,#0ff9e7 42.5px,#1affdd 48.5px,#1affdd 54.5px,#24ffd3 60.5px,#24ffd3 72.5px,#1affdd 78.5px,#1affdd 84.5px,#24ffd3 90.5px,#24ffd3 96.5px,#2effc9 102.5px,#43ffb4 108.5px,#43ffb4 132.5px,#4dffaa 138.5px,#57ff9f 144.5px,#57ff9f 150.5px,#62ff95 156.5px,#62ff95 162.5px,#6cff8b 168.5px,#6cff8b 210.5px,#62ff95 216.5px,#62ff95 228.5px,#57ff9f 234.5px,#57ff9f 258.5px,#4dffaa 264.5px,#4dffaa 282.5px,#43ffb4 288.5px,#43ffb4 366.5px,#4dffaa 372.5px,#4dffaa 426.5px,#43ffb4 432.5px,#43ffb4 492.5px,#39ffbe 498.5px,#39ffbe 548.5px);-webkit-mask-image:linear-gradient(180deg,transparent 0,#000 6px);mask-image:linear-gradient(180deg,transparent 0,#000 6px)"></div>
<div style="top:216px;height:12px;background:linear-gradient(90deg,#1affdd 0.5px,#1affdd 36.5px,#24ffd3 42.5px,#2effc9 48.5px,#39ffbe 54.5px,#43ffb4 60.5px,#4dffaa 66.5px,#43ffb4 72.5px,#39ffbe 78.5px,#43ffb4 84.5px,#43ffb4 96.5px,#4dffaa 102.5px,#43ffb4 108.5px,#43ffb4 132.5px,#4dffaa 138.5px,#4dffaa 144.5px,#57ff9f 150.5px,#62ff95 156.5px,#62ff95 168.5px,#6cff8b 174.5px,#6cff8b 204.5px,#62ff95 210.5px,#62ff95 228.5px,#57ff9f 234.5px,#57ff9f 258.5px,#4dffaa 264.5px,#4dffaa 288.5px,#43ffb4 294.5px,#43ffb4 360.5px,#4dffaa 366.5px,#4dffaa 384.5px,#57ff9f 390.5px,#57ff9f 408.5px,#4dffaa 414.5px,#4dffaa 474.5px,#43ffb4 480.5px,#43ffb4 548.5px);-webkit-mask-image:linear-gradient(180deg,transparent 0,#000 6px);mask-image:linear-gradient(180deg,transparent 0,#000 6px)"></div>
<div style="top:222px;height:12px;background:linear-gradient(90deg,#1affdd 0.5px,#1affdd 36.5px,#39ffbe 42.5px,#4dffaa 48.5px,#43ffb4 54.5px,#39ffbe 60.5px,#39ffbe 120.5px,#43ffb4 126.5px,#43ffb4 132.5px,#4dffaa 138.5px,#4dffaa 144.5px,#57ff9f 150.5px,#57ff9f 156.5px,#62ff95 162.5px,#62ff95 180.5px,#6cff8b 186.5px,#6cff8b 198.5px,#62ff95 204.5px,#62ff95 228.5px,#57ff9f 234.5px,#57ff9f 258.5px,#4dffaa 264.5px,#4dffaa 294.5px,#43ffb4 300.5px,#43ffb4 360.5px,#4dffaa 366.5px,#4dffaa 384.5px,#57ff9f 390.5px,#57ff9f 474.5px,#4dffaa 480.5px,#4dffaa 548.5px);-webkit-mask-image:linear-gradient(180deg,transparent 0,#000 6px);mask-image:linear-gradient(180deg,transparent 0,#000 6px)"></div>
<div style="top:228px;height:12px;background:linear-gradient(90deg,#24ffd3 0.5px,#24ffd3 36.5px,#43ffb4 42.5px,#39ffbe 48.5px,#2effc9 54.5px,#2effc9 96.5px,#39ffbe 102.5px,#39ffbe 120.5px,#43ffb4 126.5px,#43ffb4 132.5px,#4dffaa 138.5px,#4dffaa 144.5px,#57ff9f 150.5px,#57ff9f 162.5px,#62ff95 168.5px,#62ff95 222.5px,#57ff9f 228.5px,#57ff9f 252.5px,#4dffaa 258.5px,#4dffaa 318.5px,#43ffb4 324.5px,#43ffb4 360.5px,#4dffaa 366.5px,#4dffaa 384.5px,#57ff9f 390.5px,#57ff9f 408.5px,#62ff95 414.5px,#62ff95 486.5px,#57ff9f 492.5px,#57ff9f 548.5px);-webkit-mask-image:linear-gradient(180deg,transparent 0,#000 6px);mask-image:linear-gradient(180deg,transparent 0,#000 6px)"></div>
<div style="top:234px;height:12px;background:linear-gradient(90deg,#24ffd3 0.5px,#24ffd3 30.5px,#2effc9 36.5px,#2effc9 42.5px,#24ffd3 48.5px,#24ffd3 78.5px,#2effc9 84.5px,#2effc9 102.5px,#39ffbe 108.5px,#39ffbe 120.5px,#43ffb4 126.5px,#43ffb4 132.5px,#4dffaa 138.5px,#4dffaa 150.5px,#57ff9f 156.5px,#57ff9f 168.5px,#62ff95 174.5px,#62ff95 216.5px,#57ff9f 222.5px,#57ff9f 246.5px,#4dffaa 252.5px,#4dffaa 378.5px,#57ff9f 384.5px,#57ff9f 402.5px,#62ff95 408.5px,#62ff95 420.5px,#6cff8b 426.5px,#6cff8b 492.5px,#62ff95 498.5px,#62ff95 548.5px);-webkit-mask-image:linear-gradient(180deg,transparent 0,#000 6px);mask-image:linear-gradient(180deg,transparent 0,#000 6px)"></div>
<div style="top:240px;height:12px;background:linear-gradient(90deg,#24ffd3 0.5px,#24ffd3 78.5px,#2effc9 84.5px,#2effc9 96.5px,#39ffbe 102.5px,#39ffbe 114.5px,#43ffb4 120.5px,#43ffb4 132.5px,#4dffaa 138.5px,#4dffaa 150.5px,#57ff9f 156.5px,#57ff9f 180.5px,#62ff95 186.5px,#62ff95 210.5px,#57ff9f 216.5px,#57ff9f 234.5px,#4dffaa 240.5px,#4dffaa 288.5px,#57ff9f 294.5px,#57ff9f 330.5px,#4dffaa 336.5px,#4dffaa 378.5px,#57ff9f 384.5px,#57ff9f 396.5px,#62ff95 402.5px,#62ff95 408.5px,#6cff8b 414.5px,#6cff8b 432.5px,#76ff81 438.5px,#76ff81 492.5px,#6cff8b 498.5px,#6cff8b 548.5px);-webkit-mask-image:linear-gradient(180deg,transparent 0,#000 6px);mask-image:linear-gradient(180deg,transparent 0,#000 6px)"></div>
<div style="top:246px;height:12px;background:linear-gradient(90deg,#2effc9 0.5px,#2effc9 24.5px,#24ffd3 30.5px,#24ffd3 36.5px,#2effc9 42.5px,#2effc9 84.5px,#39ffbe 90.5px,#39ffbe 108.5px,#43ffb4 114.5px,#43ffb4 126.5px,#4dffaa 132.5px,#4dffaa 156.5px,#57ff9f 162.5px,#57ff9f 192.5px,#62ff95 198.5px,#62ff95 204.5px,#57ff9f 210.5px,#57ff9f 228.5px,#4dffaa 234.5px,#4dffaa 252.5px,#43ffb4 258.5px,#43ffb4 282.5px,#4dffaa 288.5px,#57ff9f 294.5px,#62ff95 300.5px,#62ff95 330.5px,#57ff9f 336.5px,#57ff9f 348.5px,#4dffaa 354.5px,#4dffaa 372.5px,#57ff9f 378.5px,#57ff9f 390.5px,#62ff95 396.5px,#62ff95 408.5px,#6cff8b 414.5px,#6cff8b 420.5px,#76ff81 426.5px,#76ff81 438.5px,#81ff76 444.5px,#81ff76 486.5px,#76ff81 492.5px,#76ff81 548.5px);-webkit-mask-image:linear-gradient(180deg,transparent 0,#000 6px);mask-image:linear-gradient(180deg,transparent 0,#000 6px)"></div>
<div style="top:252px;height:12px;background:linear-gradient(90deg,#2effc9 0.5px,#2effc9 42.5px,#39ffbe 48.5px,#39ffbe 54.5px,#24ffd3 60.5px,#39ffbe 66.5px,#39ffbe 96.5px,#43ffb4 102.5px,#43ffb4 120.5px,#4dffaa 126.5px,#4dffaa 150.5px,#57ff9f 156.5px,#57ff9f 222.5px,#4dffaa 228.5px,#43ffb4 234.5px,#2effc9 240.5px,#2effc9 252.5px,#24ffd3 258.5px,#24ffd3 282.5px,#43ffb4 288.5px,#62ff95 294.5px,#6cff8b 300.5px,#76ff81 306.5px,#76ff81 324.5px,#6cff8b 330.5px,#6cff8b 336.5px,#62ff95 342.5px,#57ff9f 348.5px,#57ff9f 384.5px,#62ff95 390.5px,#62ff95 402.5px,#6cff8b 408.5px,#6cff8b 414.5px,#76ff81 420.5px,#76ff81 426.5px,#81ff76 432.5px,#81ff76 510.5px,#76ff81 516.5px,#76ff81 548.5px);-webkit-mask-image:linear-gradient(180deg,transparent 0,#000 6px);mask-image:linear-gradient(180deg,transparent 0,#000 6px)"></div>
<div style="top:258px;height:12px;background:linear-gradient(90deg,#39ffbe 0.5px,#39ffbe 12.5px,#2effc9 18.5px,#2effc9 24.5px,#39ffbe 30.5px,#39ffbe 36.5px,#43ffb4 42.5px,#43ffb4 48.5px,#4dffaa 54.5px,#4dffaa 60.5px,#57ff9f 66.5px,#4dffaa 72.5px,#4dffaa 84.5px,#43ffb4 90.5px,#43ffb4 102.5px,#4dffaa 108.5px,#4dffaa 144.5px,#57ff9f 150.5px,#57ff9f 222.5px,#4dffaa 228.5px,#43ffb4 234.5px,#1affdd 240.5px,#1affdd 276.5px,#24ffd3 282.5px,#43ffb4 288.5px,#6cff8b 294.5px,#81ff76 300.5px,#8bff6c 306.5px,#8bff6c 324.5px,#81ff76 330.5px,#76ff81 336.5px,#6cff8b 342.5px,#6cff8b 348.5px,#62ff95 354.5px,#62ff95 360.5px,#57ff9f 366.5px,#57ff9f 378.5px,#62ff95 384.5px,#62ff95 396.5px,#6cff8b 402.5px,#6cff8b 408.5px,#76ff81 414.5px,#76ff81 420.5px,#81ff76 426.5px,#81ff76 444.5px,#8bff6c 450.5px,#8bff6c 492.5px,#81ff76 498.5px,#81ff76 548.5px);-webkit-mask-image:linear-gradient(180deg,transparent 0,#000 6px);mask-image:linear-gradient(180deg,transparent 0,#000 6px)"></div>
<div style="top:264px;height:12px;background:linear-gradient(90deg,#39ffbe 0.5px,#39ffbe 18.5px,#2effc9 24.5px,#39ffbe 30.5px,#43ffb4 36.5px,#4dffaa 42.5px,#57ff9f 48.5px,#62ff95 54.5px,#76ff81 60.5px,#81ff76 66.5px,#6cff8b 72.5px,#62ff95 78.5px,#57ff9f 84.5px,#4dffaa 90.5px,#4dffaa 102.5px,#57ff9f 108.5px,#57ff9f 222.5px,#4dffaa 228.5px,#39ffbe 234.5px,#1affdd 240.5px,#1affdd 246.5px,#0ff9e7 252.5px,#0ff9e7 264.5px,#1affdd 270.5px,#24ffd3 276.5px,#43ffb4 282.5px,#62ff95 288.5px,#81ff76 294.5px,#9fff57 300.5px,#b4ff43 306.5px,#aaff4d 312.5px,#aaff4d 318.5px,#9fff57 324.5px,#95ff62 330.5px,#8bff6c 336.5px,#81ff76 342.5px,#76ff81 348.5px,#6cff8b 354.5px,#6cff8b 360.5px,#62ff95 366.5px,#62ff95 384.5px,#6cff8b 390.5px,#6cff8b 402.5px,#76ff81 408.5px,#76ff81 414.5px,#81ff76 420.5px,#81ff76 432.5px,#8bff6c 438.5px,#8bff6c 548.5px);-webkit-mask-image:linear-gradient(180deg,transparent 0,#000 6px);mask-image:linear-gradient(180deg,transparent 0,#000 6px)"></div>
<div style="top:270px;height:12px;background:linear-gradient(90deg,#43ffb4 0.5px,#43ffb4 6.5px,#39ffbe 12.5px,#39ffbe 24.5px,#43ffb4 30.5px,#4dffaa 36.5px,#57ff9f 42.5px,#62ff95 48.5px,#81ff76 54.5px,#aaff4d 60.5px,#beff39 66.5px,#95ff62 72.5px,#76ff81 78.5px,#62ff95 84.5px,#62ff95 90.5px,#57ff9f 96.5px,#57ff9f 108.5px,#62ff95 114.5px,#62ff95 120.5px,#57ff9f 126.5px,#57ff9f 222.5px,#4dffaa 228.5px,#39ffbe 234.5px,#1affdd 240.5px,#1affdd 246.5px,#0ff9e7 252.5px,#05ecf2 258.5px,#0ff9e7 264.5px,#1affdd 270.5px,#2effc9 276.5px,#4dffaa 282.5px,#81ff76 288.5px,#aaff4d 294.5px,#beff39 300.5px,#d3ff24 306.5px,#c9ff2e 312.5px,#c9ff2e 318.5px,#beff39 324.5px,#b4ff43 330.5px,#aaff4d 336.5px,#9fff57 342.5px,#8bff6c 348.5px,#81ff76 354.5px,#76ff81 360.5px,#76ff81 366.5px,#6cff8b 372.5px,#6cff8b 384.5px,#76ff81 390.5px,#76ff81 402.5px,#81ff76 408.5px,#81ff76 420.5px,#8bff6c 426.5px,#8bff6c 444.5px,#95ff62 450.5px,#95ff62 522.5px,#8bff6c 528.5px,#8bff6c 534.5px,#95ff62 540.5px,#95ff62 548.5px);-webkit-mask-image:linear-gradient(180deg,transparent 0,#000 6px);mask-image:linear-gradient(180deg,transparent 0,#000 6px)"></div>
<div style="top:276px;height:12px;background:linear-gradient(90deg,#43ffb4 0.5px,#43ffb4 24.5px,#4dffaa 30.5px,#57ff9f 36.5px,#62ff95 42.5px,#6cff8b 48.5px,#8bff6c 54.5px,#b4ff43 60.5px,#c9ff2e 66.5px,#95ff62 72.5px,#81ff76 78.5px,#76ff81 84.5px,#6cff8b 90.5px,#6cff8b 96.5px,#62ff95 102.5px,#62ff95 126.5px,#57ff9f 132.5px,#57ff9f 138.5px,#62ff95 144.5px,#62ff95 186.5px,#57ff9f 192.5px,#57ff9f 216.5px,#4dffaa 222.5px,#4dffaa 228.5px,#39ffbe 234.5px,#1affdd 240.5px,#0ff9e7 246.5px,#05ecf2 252.5px,#05ecf2 258.5px,#0ff9e7 264.5px,#1affdd 270.5px,#39ffbe 276.5px,#62ff95 282.5px,#9fff57 288.5px,#beff39 294.5px,#ddff1a 300.5px,#ddff1a 324.5px,#d3ff24 330.5px,#c9ff2e 336.5px,#beff39 342.5px,#aaff4d 348.5px,#95ff62 354.5px,#8bff6c 360.5px,#81ff76 366.5px,#81ff76 408.5px,#8bff6c 414.5px,#8bff6c 426.5px,#95ff62 432.5px,#95ff62 462.5px,#9fff57 468.5px,#9fff57 486.5px,#95ff62 492.5px,#95ff62 504.5px,#9fff57 510.5px,#9fff57 548.5px);-webkit-mask-image:linear-gradient(180deg,transparent 0,#000 6px);mask-image:linear-gradient(180deg,transparent 0,#000 6px)"></div>
<div style="top:282px;height:12px;background:linear-gradient(90deg,#4dffaa 0.5px,#4dffaa 18.5px,#57ff9f 24.5px,#57ff9f 30.5px,#62ff95 36.5px,#6cff8b 42.5px,#76ff81 48.5px,#8bff6c 54.5px,#95ff62 60.5px,#9fff57 66.5px,#95ff62 72.5px,#8bff6c 78.5px,#81ff76 84.5px,#81ff76 90.5px,#76ff81 96.5px,#6cff8b 102.5px,#6cff8b 108.5px,#62ff95 114.5px,#62ff95 192.5px,#57ff9f 198.5px,#57ff9f 216.5px,#4dffaa 222.5px,#4dffaa 228.5px,#39ffbe 234.5px,#1affdd 240.5px,#1affdd 246.5px,#0ff9e7 252.5px,#0ff9e7 258.5px,#1affdd 264.5px,#24ffd3 270.5px,#43ffb4 276.5px,#76ff81 282.5px,#b4ff43 288.5px,#d3ff24 294.5px,#e7ff0f 300.5px,#f2fb05 306.5px,#e7ff0f 312.5px,#e7ff0f 318.5px,#ddff1a 324.5px,#ddff1a 336.5px,#d3ff24 342.5px,#beff39 348.5px,#aaff4d 354.5px,#9fff57 360.5px,#95ff62 366.5px,#8bff6c 372.5px,#8bff6c 408.5px,#95ff62 414.5px,#95ff62 438.5px,#9fff57 444.5px,#9fff57 504.5px,#aaff4d 510.5px,#aaff4d 540.5px,#b4ff43 546.5px,#b4ff43 548.5px);-webkit-mask-image:linear-gradient(180deg,transparent 0,#000 6px);mask-image:linear-gradient(180deg,transparent 0,#000 6px)"></div>
<div style="top:288px;height:12px;background:linear-gradient(90deg,#4dffaa 0.5px,#57ff9f 6.5px,#57ff9f 18.5px,#62ff95 24.5px,#62ff95 30.5px,#6cff8b 36.5px,#76ff81 42.5px,#81ff76 48.5px,#8bff6c 54.5px,#95ff62 60.5px,#9fff57 66.5px,#9fff57 72.5px,#95ff62 78.5px,#95ff62 84.5px,#8bff6c 90.5px,#81ff76 96.5px,#81ff76 102.5px,#76ff81 108.5px,#6cff8b 114.5px,#6cff8b 120.5px,#62ff95 126.5px,#62ff95 192.5px,#57ff9f 198.5px,#57ff9f 210.5px,#4dffaa 216.5px,#4dffaa 228.5px,#43ffb4 234.5px,#39ffbe 240.5px,#24ffd3 246.5px,#1affdd 252.5px,#1affdd 264.5px,#24ffd3 270.5px,#43ffb4 276.5px,#8bff6c 282.5px,#beff39 288.5px,#ddff1a 294.5px,#e7ff0f 300.5px,#f2fb05 306.5px,#f2fb05 324.5px,#e7ff0f 330.5px,#e7ff0f 336.5px,#ddff1a 342.5px,#ddff1a 348.5px,#c9ff2e 354.5px,#b4ff43 360.5px,#aaff4d 366.5px,#9fff57 372.5px,#95ff62 378.5px,#95ff62 408.5px,#9fff57 414.5px,#9fff57 438.5px,#aaff4d 444.5px,#aaff4d 504.5px,#beff39 510.5px,#c9ff2e 516.5px,#d3ff24 522.5px,#c9ff2e 528.5px,#c9ff2e 540.5px,#d3ff24 546.5px,#d3ff24 548.5px);-webkit-mask-image:linear-gradient(180deg,transparent 0,#000 6px);mask-image:linear-gradient(180deg,transparent 0,#000 6px)"></div>
<div style="top:294px;height:12px;background:linear-gradient(90deg,#57ff9f 0.5px,#57ff9f 12.5px,#62ff95 18.5px,#62ff95 24.5px,#6cff8b 30.5px,#76ff81 36.5px,#81ff76 42.5px,#8bff6c 48.5px,#9fff57 54.5px,#9fff57 66.5px,#c9ff2e 72.5px,#c9ff2e 78.5px,#beff39 84.5px,#aaff4d 90.5px,#95ff62 96.5px,#8bff6c 102.5px,#81ff76 108.5px,#76ff81 114.5px,#6cff8b 120.5px,#6cff8b 162.5px,#62ff95 168.5px,#62ff95 186.5px,#57ff9f 192.5px,#57ff9f 204.5px,#4dffaa 210.5px,#4dffaa 216.5px,#43ffb4 222.5px,#43ffb4 234.5px,#4dffaa 240.5px,#43ffb4 246.5px,#2effc9 252.5px,#24ffd3 258.5px,#1affdd 264.5px,#39ffbe 270.5px,#57ff9f 276.5px,#95ff62 282.5px,#beff39 288.5px,#ddff1a 294.5px,#e7ff0f 300.5px,#f2fb05 306.5px,#fcf000 312.5px,#fcf000 324.5px,#f2fb05 330.5px,#f2fb05 342.5px,#e7ff0f 348.5px,#ddff1a 354.5px,#d3ff24 360.5px,#beff39 366.5px,#aaff4d 372.5px,#aaff4d 378.5px,#9fff57 384.5px,#9fff57 408.5px,#aaff4d 414.5px,#aaff4d 450.5px,#b4ff43 456.5px,#b4ff43 498.5px,#aaff4d 504.5px,#beff39 510.5px,#ddff1a 516.5px,#ddff1a 540.5px,#e7ff0f 546.5px,#e7ff0f 548.5px);-webkit-mask-image:linear-gradient(180deg,transparent 0,#000 6px);mask-image:linear-gradient(180deg,transparent 0,#000 6px)"></div>
<div style="top:300px;height:12px;background:linear-gradient(90deg,#62ff95 0.5px,#62ff95 18.5px,#6cff8b 24.5px,#6cff8b 30.5px,#76ff81 36.5px,#8bff6c 42.5px,#95ff62 48.5px,#d3ff24 54.5px,#b4ff43 60.5px,#9fff57 66.5px,#ddff1a 72.5px,#e7ff0f 78.5px,#e7ff0f 84.5px,#ddff1a 90.5px,#beff39 96.5px,#95ff62 102.5px,#81ff76 108.5px,#76ff81 114.5px,#76ff81 120.5px,#6cff8b 126.5px,#6cff8b 138.5px,#76ff81 144.5px,#6cff8b 150.5px,#6cff8b 162.5px,#62ff95 168.5px,#62ff95 186.5px,#57ff9f 192.5px,#57ff9f 198.5px,#4dffaa 204.5px,#4dffaa 210.5px,#43ffb4 216.5px,#39ffbe 222.5px,#4dffaa 228.5px,#4dffaa 234.5px,#43ffb4 240.5px,#43ffb4 246.5px,#4dffaa 252.5px,#43ffb4 258.5px,#2effc9 264.5px,#4dffaa 270.5px,#6cff8b 276.5px,#95ff62 282.5px,#beff39 288.5px,#ddff1a 294.5px,#f2fb05 300.5px,#fcf000 306.5px,#ffe400 312.5px,#ffe400 336.5px,#fcf000 342.5px,#fcf000 348.5px,#f2fb05 354.5px,#e7ff0f 360.5px,#ddff1a 366.5px,#c9ff2e 372.5px,#b4ff43 378.5px,#aaff4d 384.5px,#aaff4d 432.5px,#b4ff43 438.5px,#b4ff43 498.5px,#aaff4d 504.5px,#beff39 510.5px,#ddff1a 516.5px,#e7ff0f 522.5px,#e7ff0f 528.5px,#f2fb05 534.5px,#f2fb05 548.5px);-webkit-mask-image:linear-gradient(180deg,transparent 0,#000 6px);mask-image:linear-gradient(180deg,transparent 0,#000 6px)"></div>
<div style="top:306px;height:12px;background:linear-gradient(90deg,#62ff95 0.5px,#6cff8b 6.5px,#6cff8b 18.5px,#76ff81 24.5px,#76ff81 30.5px,#81ff76 36.5px,#8bff6c 42.5px,#9fff57 48.5px,#ddff1a 54.5px,#b4ff43 60.5px,#9fff57 66.5px,#d3ff24 72.5px,#e7ff0f 78.5px,#e7ff0f 90.5px,#c9ff2e 96.5px,#95ff62 102.5px,#8bff6c 108.5px,#81ff76 114.5px,#76ff81 120.5px,#6cff8b 126.5px,#6cff8b 162.5px,#62ff95 168.5px,#62ff95 180.5px,#57ff9f 186.5px,#57ff9f 198.5px,#4dffaa 204.5px,#43ffb4 210.5px,#4dffaa 216.5px,#39ffbe 222.5px,#4dffaa 228.5px,#39ffbe 234.5px,#43ffb4 240.5px,#43ffb4 252.5px,#24ffd3 258.5px,#43ffb4 264.5px,#57ff9f 270.5px,#76ff81 276.5px,#9fff57 282.5px,#beff39 288.5px,#ddff1a 294.5px,#f2fb05 300.5px,#fcf000 306.5px,#ffe400 312.5px,#ffd800 318.5px,#ffd800 348.5px,#ffe400 354.5px,#fcf000 360.5px,#f2fb05 366.5px,#e7ff0f 372.5px,#d3ff24 378.5px,#c9ff2e 384.5px,#b4ff43 390.5px,#aaff4d 396.5px,#aaff4d 432.5px,#b4ff43 438.5px,#b4ff43 498.5px,#aaff4d 504.5px,#beff39 510.5px,#ddff1a 516.5px,#f2fb05 522.5px,#fcf000 528.5px,#fcf000 548.5px);-webkit-mask-image:linear-gradient(180deg,transparent 0,#000 6px);mask-image:linear-gradient(180deg,transparent 0,#000 6px)"></div>
<div style="top:312px;height:12px;background:linear-gradient(90deg,#6cff8b 0.5px,#6cff8b 12.5px,#76ff81 18.5px,#76ff81 24.5px,#81ff76 30.5px,#8bff6c 36.5px,#95ff62 42.5px,#9fff57 48.5px,#ddff1a 54.5px,#b4ff43 60.5px,#9fff57 66.5px,#b4ff43 72.5px,#e7ff0f 78.5px,#ffe400 84.5px,#f2fb05 90.5px,#c9ff2e 96.5px,#95ff62 102.5px,#8bff6c 108.5px,#81ff76 114.5px,#76ff81 120.5px,#6cff8b 126.5px,#6cff8b 150.5px,#62ff95 156.5px,#62ff95 174.5px,#57ff9f 180.5px,#57ff9f 198.5px,#4dffaa 204.5px,#24ffd3 210.5px,#43ffb4 216.5px,#24ffd3 222.5px,#24ffd3 228.5px,#1affdd 234.5px,#43ffb4 240.5px,#4dffaa 246.5px,#2effc9 252.5px,#24ffd3 258.5px,#43ffb4 264.5px,#57ff9f 270.5px,#76ff81 276.5px,#9fff57 282.5px,#beff39 288.5px,#ddff1a 294.5px,#f2fb05 300.5px,#fcf000 306.5px,#ffe400 312.5px,#ffd800 318.5px,#ffcc00 324.5px,#ffcc00 330.5px,#ffc000 336.5px,#ffb500 342.5px,#ffb500 348.5px,#ffcc00 354.5px,#ffd800 360.5px,#ffe400 366.5px,#fcf000 372.5px,#f2fb05 378.5px,#e7ff0f 384.5px,#ddff1a 390.5px,#d3ff24 396.5px,#c9ff2e 402.5px,#beff39 408.5px,#beff39 504.5px,#ddff1a 510.5px,#f2fb05 516.5px,#fcf000 522.5px,#ffe400 528.5px,#ffe400 548.5px);-webkit-mask-image:linear-gradient(180deg,transparent 0,#000 6px);mask-image:linear-gradient(180deg,transparent 0,#000 6px)"></div>
<div style="top:318px;height:12px;background:linear-gradient(90deg,#76ff81 0.5px,#76ff81 18.5px,#81ff76 24.5px,#8bff6c 30.5px,#95ff62 36.5px,#95ff62 42.5px,#9fff57 48.5px,#ddff1a 54.5px,#b4ff43 60.5px,#9fff57 66.5px,#9fff57 72.5px,#c9ff2e 78.5px,#f2fb05 84.5px,#e7ff0f 90.5px,#c9ff2e 96.5px,#95ff62 102.5px,#8bff6c 108.5px,#76ff81 114.5px,#6cff8b 120.5px,#62ff95 126.5px,#62ff95 168.5px,#57ff9f 174.5px,#39ffbe 180.5px,#2effc9 186.5px,#57ff9f 192.5px,#4dffaa 198.5px,#4dffaa 204.5px,#39ffbe 210.5px,#2effc9 216.5px,#1affdd 222.5px,#1affdd 228.5px,#24ffd3 234.5px,#4dffaa 240.5px,#39ffbe 246.5px,#24ffd3 252.5px,#24ffd3 258.5px,#43ffb4 264.5px,#57ff9f 270.5px,#76ff81 276.5px,#95ff62 282.5px,#beff39 288.5px,#ddff1a 294.5px,#e7ff0f 300.5px,#fcf000 306.5px,#ffe400 312.5px,#ffd800 318.5px,#ffcc00 324.5px,#ffc000 330.5px,#ffc000 336.5px,#ff7a00 342.5px,#ff9100 348.5px,#ffc000 354.5px,#ffc000 360.5px,#ffcc00 366.5px,#ffcc00 372.5px,#ffd800 378.5px,#ffe400 384.5px,#fcf000 390.5px,#f2fb05 396.5px,#f2fb05 402.5px,#e7ff0f 408.5px,#e7ff0f 426.5px,#ddff1a 432.5px,#ddff1a 438.5px,#e7ff0f 444.5px,#e7ff0f 474.5px,#ddff1a 480.5px,#ddff1a 486.5px,#e7ff0f 492.5px,#e7ff0f 504.5px,#fcf000 510.5px,#ffd800 516.5px,#ffd800 548.5px);-webkit-mask-image:linear-gradient(180deg,transparent 0,#000 6px);mask-image:linear-gradient(180deg,transparent 0,#000 6px)"></div>
<div style="top:324px;height:12px;background:linear-gradient(90deg,#76ff81 0.5px,#76ff81 12.5px,#81ff76 18.5px,#8bff6c 24.5px,#95ff62 30.5px,#aaff4d 36.5px,#9fff57 42.5px,#9fff57 48.5px,#c9ff2e 54.5px,#b4ff43 60.5px,#9fff57 66.5px,#9fff57 72.5px,#aaff4d 78.5px,#ddff1a 84.5px,#e7ff0f 90.5px,#c9ff2e 96.5px,#95ff62 102.5px,#8bff6c 108.5px,#76ff81 114.5px,#62ff95 120.5px,#57ff9f 126.5px,#62ff95 132.5px,#62ff95 156.5px,#57ff9f 162.5px,#57ff9f 168.5px,#39ffbe 174.5px,#0ff9e7 180.5px,#24ffd3 186.5px,#57ff9f 192.5px,#43ffb4 198.5px,#43ffb4 204.5px,#2effc9 210.5px,#1affdd 216.5px,#1affdd 228.5px,#24ffd3 234.5px,#24ffd3 240.5px,#1affdd 246.5px,#1affdd 258.5px,#39ffbe 264.5px,#57ff9f 270.5px,#6cff8b 276.5px,#95ff62 282.5px,#beff39 288.5px,#ddff1a 294.5px,#e7ff0f 300.5px,#e7ff0f 306.5px,#f2fb05 312.5px,#fcf000 318.5px,#ffc000 324.5px,#ffcc00 330.5px,#ffc000 336.5px,#ff9100 342.5px,#ff6e00 348.5px,#ffa900 354.5px,#ffb500 360.5px,#ffb500 372.5px,#ffc000 378.5px,#ffc000 384.5px,#ffcc00 390.5px,#ffcc00 396.5px,#ffd800 402.5px,#ffcc00 408.5px,#ffcc00 414.5px,#ffc000 420.5px,#ffa900 426.5px,#ffa900 438.5px,#ff9d00 444.5px,#ff9d00 462.5px,#ffa900 468.5px,#ffa900 474.5px,#ffc000 480.5px,#ffcc00 486.5px,#ffd800 492.5px,#ffe400 498.5px,#ffd800 504.5px,#ffcc00 510.5px,#ffa900 516.5px,#ffcc00 522.5px,#ffcc00 528.5px,#ffd800 534.5px,#ffd800 540.5px,#ffcc00 546.5px,#ffd800 548.5px);-webkit-mask-image:linear-gradient(180deg,transparent 0,#000 6px);mask-image:linear-gradient(180deg,transparent 0,#000 6px)"></div>
<div style="top:330px;height:12px;background:linear-gradient(90deg,#76ff81 0.5px,#81ff76 6.5px,#81ff76 18.5px,#8bff6c 24.5px,#95ff62 30.5px,#d3ff24 36.5px,#c9ff2e 42.5px,#9fff57 48.5px,#beff39 54.5px,#beff39 60.5px,#9fff57 66.5px,#9fff57 78.5px,#b4ff43 84.5px,#d3ff24 90.5px,#c9ff2e 96.5px,#9fff57 102.5px,#95ff62 108.5px,#62ff95 114.5px,#39ffbe 120.5px,#39ffbe 126.5px,#57ff9f 132.5px,#57ff9f 168.5px,#43ffb4 174.5px,#1affdd 180.5px,#1affdd 186.5px,#57ff9f 192.5px,#43ffb4 198.5px,#1affdd 204.5px,#1affdd 210.5px,#24ffd3 216.5px,#24ffd3 222.5px,#1affdd 228.5px,#1affdd 258.5px,#24ffd3 264.5px,#39ffbe 270.5px,#57ff9f 276.5px,#81ff76 282.5px,#b4ff43 288.5px,#d3ff24 294.5px,#ddff1a 300.5px,#d3ff24 306.5px,#d3ff24 324.5px,#e7ff0f 330.5px,#ffd800 336.5px,#ff9d00 342.5px,#ff6200 348.5px,#ff9100 354.5px,#ffb500 360.5px,#ffa900 366.5px,#ff9d00 372.5px,#ffa900 378.5px,#ffa900 384.5px,#ffb500 390.5px,#ffb500 402.5px,#ffa900 408.5px,#ff9d00 414.5px,#ff9100 420.5px,#ff8500 426.5px,#ff8500 432.5px,#ff7a00 438.5px,#ff6200 444.5px,#ff7a00 450.5px,#ff6e00 456.5px,#ff7a00 462.5px,#ff7a00 474.5px,#ff8500 480.5px,#ff9100 486.5px,#ffb500 492.5px,#ffcc00 498.5px,#ffcc00 510.5px,#ffc000 516.5px,#ffc000 522.5px,#ffcc00 528.5px,#ffd800 534.5px,#fcf000 540.5px,#ddff1a 546.5px,#e7ff0f 548.5px);-webkit-mask-image:linear-gradient(180deg,transparent 0,#000 6px);mask-image:linear-gradient(180deg,transparent 0,#000 6px)"></div>
<div style="top:336px;height:12px;background:linear-gradient(90deg,#81ff76 0.5px,#81ff76 12.5px,#8bff6c 18.5px,#95ff62 24.5px,#aaff4d 30.5px,#ddff1a 36.5px,#beff39 42.5px,#9fff57 48.5px,#b4ff43 54.5px,#c9ff2e 60.5px,#9fff57 66.5px,#9fff57 84.5px,#aaff4d 90.5px,#9fff57 96.5px,#9fff57 102.5px,#d3ff24 108.5px,#57ff9f 114.5px,#0ff9e7 120.5px,#2effc9 126.5px,#57ff9f 132.5px,#57ff9f 156.5px,#4dffaa 162.5px,#57ff9f 168.5px,#57ff9f 174.5px,#4dffaa 180.5px,#0ff9e7 186.5px,#39ffbe 192.5px,#4dffaa 198.5px,#39ffbe 204.5px,#39ffbe 210.5px,#43ffb4 216.5px,#4dffaa 222.5px,#43ffb4 228.5px,#2effc9 234.5px,#1affdd 240.5px,#1affdd 264.5px,#24ffd3 270.5px,#39ffbe 276.5px,#57ff9f 282.5px,#95ff62 288.5px,#beff39 294.5px,#beff39 300.5px,#b4ff43 306.5px,#b4ff43 312.5px,#aaff4d 318.5px,#b4ff43 324.5px,#c9ff2e 330.5px,#f2fb05 336.5px,#ffb500 342.5px,#ff7a00 348.5px,#ff6e00 354.5px,#ffb500 360.5px,#ffa900 366.5px,#ff9d00 372.5px,#ff9100 378.5px,#ff9d00 384.5px,#ff9d00 396.5px,#ff8500 402.5px,#ff7a00 408.5px,#ff7a00 420.5px,#ff8500 426.5px,#ff8500 438.5px,#ff9100 444.5px,#ff9100 456.5px,#ff9d00 462.5px,#ff9d00 480.5px,#ffa900 486.5px,#ffb500 492.5px,#ffcc00 498.5px,#ffcc00 510.5px,#ffc000 516.5px,#ffcc00 522.5px,#ffd800 528.5px,#fcf000 534.5px,#ddff1a 540.5px,#c9ff2e 546.5px,#beff39 548.5px);-webkit-mask-image:linear-gradient(180deg,transparent 0,#000 6px);mask-image:linear-gradient(180deg,transparent 0,#000 6px)"></div>
<div style="top:342px;height:12px;background:linear-gradient(90deg,#81ff76 0.5px,#81ff76 6.5px,#8bff6c 12.5px,#95ff62 18.5px,#9fff57 24.5px,#c9ff2e 30.5px,#e7ff0f 36.5px,#c9ff2e 42.5px,#9fff57 48.5px,#b4ff43 54.5px,#d3ff24 60.5px,#9fff57 66.5px,#9fff57 102.5px,#c9ff2e 108.5px,#95ff62 114.5px,#0ff9e7 120.5px,#2effc9 126.5px,#57ff9f 132.5px,#57ff9f 138.5px,#4dffaa 144.5px,#4dffaa 168.5px,#57ff9f 174.5px,#57ff9f 180.5px,#1affdd 186.5px,#39ffbe 192.5px,#57ff9f 198.5px,#4dffaa 204.5px,#4dffaa 234.5px,#39ffbe 240.5px,#24ffd3 246.5px,#1affdd 252.5px,#1affdd 270.5px,#24ffd3 276.5px,#39ffbe 282.5px,#4dffaa 288.5px,#76ff81 294.5px,#8bff6c 300.5px,#95ff62 306.5px,#9fff57 312.5px,#9fff57 318.5px,#aaff4d 324.5px,#beff39 330.5px,#ddff1a 336.5px,#ffa900 342.5px,#ff9100 348.5px,#ff6200 354.5px,#ff9d00 360.5px,#ffb500 366.5px,#ff9d00 372.5px,#ff9100 378.5px,#ff9100 390.5px,#ff9d00 396.5px,#ff8500 402.5px,#ff9100 408.5px,#ff9100 414.5px,#ff9d00 420.5px,#ffa900 426.5px,#ffa900 444.5px,#ffb500 450.5px,#ffb500 486.5px,#ffc000 492.5px,#ffcc00 498.5px,#ffcc00 504.5px,#ffd800 510.5px,#ffd800 516.5px,#ffe400 522.5px,#fcf000 528.5px,#e7ff0f 534.5px,#d3ff24 540.5px,#b4ff43 546.5px,#aaff4d 548.5px);-webkit-mask-image:linear-gradient(180deg,transparent 0,#000 6px);mask-image:linear-gradient(180deg,transparent 0,#000 6px)"></div>
<div style="top:348px;height:12px;background:linear-gradient(90deg,#81ff76 0.5px,#8bff6c 6.5px,#8bff6c 12.5px,#95ff62 18.5px,#beff39 24.5px,#e7ff0f 30.5px,#f2fb05 36.5px,#c9ff2e 42.5px,#9fff57 48.5px,#b4ff43 54.5px,#c9ff2e 60.5px,#9fff57 66.5px,#9fff57 78.5px,#d3ff24 84.5px,#c9ff2e 90.5px,#aaff4d 96.5px,#ddff1a 102.5px,#e7ff0f 108.5px,#81ff76 114.5px,#0ff9e7 120.5px,#43ffb4 126.5px,#57ff9f 132.5px,#57ff9f 138.5px,#4dffaa 144.5px,#4dffaa 162.5px,#43ffb4 168.5px,#57ff9f 174.5px,#24ffd3 180.5px,#0ff9e7 186.5px,#39ffbe 192.5px,#57ff9f 198.5px,#4dffaa 204.5px,#4dffaa 240.5px,#43ffb4 246.5px,#2effc9 252.5px,#1affdd 258.5px,#1affdd 282.5px,#2effc9 288.5px,#39ffbe 294.5px,#4dffaa 300.5px,#6cff8b 306.5px,#81ff76 312.5px,#95ff62 318.5px,#9fff57 324.5px,#aaff4d 330.5px,#f2fb05 336.5px,#ff9100 342.5px,#ffa900 348.5px,#ff6e00 354.5px,#ff7a00 360.5px,#ffa900 366.5px,#ff9d00 372.5px,#ff9100 378.5px,#ff8500 384.5px,#ff8500 390.5px,#ff9100 396.5px,#ff9d00 402.5px,#ff9d00 426.5px,#ffa900 432.5px,#ffb500 438.5px,#ffc000 444.5px,#ffcc00 450.5px,#ffcc00 468.5px,#ffc000 474.5px,#ffc000 480.5px,#ffcc00 486.5px,#ffcc00 492.5px,#ffd800 498.5px,#ffd800 504.5px,#ffe400 510.5px,#fcf000 516.5px,#f2fb05 522.5px,#e7ff0f 528.5px,#d3ff24 534.5px,#beff39 540.5px,#9fff57 546.5px,#9fff57 548.5px);-webkit-mask-image:linear-gradient(180deg,transparent 0,#000 6px);mask-image:linear-gradient(180deg,transparent 0,#000 6px)"></div>
<div style="top:354px;height:12px;background:linear-gradient(90deg,#8bff6c 0.5px,#8bff6c 12.5px,#95ff62 18.5px,#c9ff2e 24.5px,#e7ff0f 30.5px,#e7ff0f 36.5px,#d3ff24 42.5px,#9fff57 48.5px,#9fff57 54.5px,#c9ff2e 60.5px,#aaff4d 66.5px,#95ff62 72.5px,#95ff62 78.5px,#beff39 84.5px,#9fff57 90.5px,#9fff57 96.5px,#beff39 102.5px,#d3ff24 108.5px,#76ff81 114.5px,#24ffd3 120.5px,#39ffbe 126.5px,#57ff9f 132.5px,#57ff9f 144.5px,#4dffaa 150.5px,#39ffbe 156.5px,#4dffaa 162.5px,#2effc9 168.5px,#4dffaa 174.5px,#1affdd 180.5px,#1affdd 186.5px,#4dffaa 192.5px,#57ff9f 198.5px,#4dffaa 204.5px,#4dffaa 246.5px,#43ffb4 252.5px,#2effc9 258.5px,#1affdd 264.5px,#1affdd 270.5px,#0ff9e7 276.5px,#05ecf2 282.5px,#1affdd 288.5px,#1affdd 294.5px,#2effc9 300.5px,#43ffb4 306.5px,#62ff95 312.5px,#81ff76 318.5px,#95ff62 324.5px,#aaff4d 330.5px,#e7ff0f 336.5px,#ff9100 342.5px,#ffb500 348.5px,#ff9100 354.5px,#ff6200 360.5px,#ff9100 366.5px,#ff9d00 372.5px,#ff7a00 378.5px,#ff7a00 384.5px,#ff8500 390.5px,#ff8500 402.5px,#ff9100 408.5px,#ff9100 414.5px,#ff8500 420.5px,#ff9100 426.5px,#ffa900 432.5px,#ffc000 438.5px,#ffe400 444.5px,#fcf000 450.5px,#f2fb05 456.5px,#fcf000 462.5px,#ffd800 468.5px,#ffd800 492.5px,#ffe400 498.5px,#fcf000 504.5px,#fcf000 510.5px,#f2fb05 516.5px,#e7ff0f 522.5px,#ddff1a 528.5px,#c9ff2e 534.5px,#aaff4d 540.5px,#8bff6c 546.5px,#8bff6c 548.5px);-webkit-mask-image:linear-gradient(180deg,transparent 0,#000 6px);mask-image:linear-gradient(180deg,transparent 0,#000 6px)"></div>
<div style="top:360px;height:12px;background:linear-gradient(90deg,#8bff6c 0.5px,#8bff6c 12.5px,#95ff62 18.5px,#aaff4d 24.5px,#b4ff43 30.5px,#ddff1a 36.5px,#d3ff24 42.5px,#9fff57 48.5px,#9fff57 54.5px,#aaff4d 60.5px,#9fff57 66.5px,#8bff6c 72.5px,#76ff81 78.5px,#4dffaa 84.5px,#24ffd3 90.5px,#6cff8b 96.5px,#8bff6c 102.5px,#9fff57 108.5px,#76ff81 114.5px,#57ff9f 120.5px,#4dffaa 126.5px,#57ff9f 132.5px,#0ff9e7 138.5px,#4dffaa 144.5px,#1affdd 150.5px,#2effc9 156.5px,#0ff9e7 162.5px,#2effc9 168.5px,#43ffb4 174.5px,#0ff9e7 180.5px,#1affdd 186.5px,#57ff9f 192.5px,#57ff9f 204.5px,#4dffaa 210.5px,#4dffaa 258.5px,#39ffbe 264.5px,#1affdd 270.5px,#0ff9e7 276.5px,#0ff9e7 288.5px,#1affdd 294.5px,#1affdd 300.5px,#2effc9 306.5px,#43ffb4 312.5px,#6cff8b 318.5px,#8bff6c 324.5px,#aaff4d 330.5px,#ddff1a 336.5px,#ff8500 342.5px,#ffa900 348.5px,#ffa900 354.5px,#ff6e00 360.5px,#ff9100 366.5px,#ff9d00 372.5px,#ff6e00 378.5px,#ff7a00 384.5px,#ff7a00 420.5px,#ff9100 426.5px,#ffb500 432.5px,#ffd800 438.5px,#e7ff0f 444.5px,#c9ff2e 450.5px,#beff39 456.5px,#ddff1a 462.5px,#fcf000 468.5px,#ffe400 474.5px,#ffe400 480.5px,#fcf000 486.5px,#fcf000 492.5px,#f2fb05 498.5px,#f2fb05 504.5px,#e7ff0f 510.5px,#e7ff0f 516.5px,#ddff1a 522.5px,#d3ff24 528.5px,#b4ff43 534.5px,#8bff6c 540.5px,#6cff8b 546.5px,#6cff8b 548.5px);-webkit-mask-image:linear-gradient(180deg,transparent 0,#000 6px);mask-image:linear-gradient(180deg,transparent 0,#000 6px)"></div>
<div style="top:366px;height:12px;background:linear-gradient(90deg,#8bff6c 0.5px,#8bff6c 6.5px,#95ff62 12.5px,#95ff62 18.5px,#9fff57 24.5px,#9fff57 30.5px,#c9ff2e 36.5px,#beff39 42.5px,#9fff57 48.5px,#9fff57 66.5px,#8bff6c 72.5px,#6cff8b 78.5px,#43ffb4 84.5px,#24ffd3 90.5px,#62ff95 96.5px,#6cff8b 102.5px,#6cff8b 108.5px,#62ff95 114.5px,#57ff9f 120.5px,#57ff9f 126.5px,#4dffaa 132.5px,#1affdd 138.5px,#57ff9f 144.5px,#0ff9e7 150.5px,#43ffb4 156.5px,#1affdd 162.5px,#24ffd3 168.5px,#39ffbe 174.5px,#4dffaa 180.5px,#43ffb4 186.5px,#57ff9f 192.5px,#57ff9f 240.5px,#4dffaa 246.5px,#4dffaa 264.5px,#2effc9 270.5px,#0ff9e7 276.5px,#0ff9e7 300.5px,#1affdd 306.5px,#2effc9 312.5px,#4dffaa 318.5px,#81ff76 324.5px,#aaff4d 330.5px,#ddff1a 336.5px,#ff8500 342.5px,#ffa900 348.5px,#ffb500 354.5px,#ff8500 360.5px,#ff9100 366.5px,#ffa900 372.5px,#ff8500 378.5px,#ff7a00 384.5px,#ff6e00 390.5px,#ff6e00 402.5px,#ff7a00 408.5px,#ff7a00 414.5px,#ff6e00 420.5px,#ff9100 426.5px,#ffc000 432.5px,#fcf000 438.5px,#d3ff24 444.5px,#b4ff43 450.5px,#b4ff43 456.5px,#ddff1a 462.5px,#e7ff0f 468.5px,#f2fb05 474.5px,#f2fb05 480.5px,#e7ff0f 486.5px,#e7ff0f 492.5px,#ddff1a 498.5px,#ddff1a 516.5px,#c9ff2e 522.5px,#b4ff43 528.5px,#95ff62 534.5px,#6cff8b 540.5px,#57ff9f 546.5px,#57ff9f 548.5px);-webkit-mask-image:linear-gradient(180deg,transparent 0,#000 6px);mask-image:linear-gradient(180deg,transparent 0,#000 6px)"></div>
<div style="top:372px;height:12px;background:linear-gradient(90deg,#8bff6c 0.5px,#8bff6c 6.5px,#95ff62 12.5px,#95ff62 18.5px,#9fff57 24.5px,#9fff57 48.5px,#aaff4d 54.5px,#c9ff2e 60.5px,#beff39 66.5px,#95ff62 72.5px,#76ff81 78.5px,#4dffaa 84.5px,#2effc9 90.5px,#57ff9f 96.5px,#62ff95 102.5px,#62ff95 108.5px,#57ff9f 114.5px,#57ff9f 138.5px,#43ffb4 144.5px,#0ff9e7 150.5px,#2effc9 156.5px,#2effc9 162.5px,#4dffaa 168.5px,#57ff9f 174.5px,#57ff9f 186.5px,#62ff95 192.5px,#57ff9f 198.5px,#57ff9f 246.5px,#4dffaa 252.5px,#4dffaa 264.5px,#43ffb4 270.5px,#24ffd3 276.5px,#0ff9e7 282.5px,#05ecf2 288.5px,#05ecf2 294.5px,#0ff9e7 300.5px,#1affdd 306.5px,#24ffd3 312.5px,#43ffb4 318.5px,#81ff76 324.5px,#b4ff43 330.5px,#d3ff24 336.5px,#ff8500 342.5px,#ffa900 348.5px,#ffb500 354.5px,#ffa900 360.5px,#ff9d00 366.5px,#ff9d00 372.5px,#ff8500 378.5px,#ff6e00 384.5px,#ff6e00 390.5px,#ff6200 396.5px,#ff6e00 402.5px,#ff6e00 414.5px,#ff7a00 420.5px,#ffa900 426.5px,#ffcc00 432.5px,#e7ff0f 438.5px,#beff39 444.5px,#aaff4d 450.5px,#b4ff43 456.5px,#d3ff24 462.5px,#ddff1a 468.5px,#ddff1a 486.5px,#c9ff2e 492.5px,#beff39 498.5px,#c9ff2e 504.5px,#c9ff2e 510.5px,#beff39 516.5px,#b4ff43 522.5px,#8bff6c 528.5px,#76ff81 534.5px,#62ff95 540.5px,#57ff9f 546.5px,#62ff95 548.5px);-webkit-mask-image:linear-gradient(180deg,transparent 0,#000 6px);mask-image:linear-gradient(180deg,transparent 0,#000 6px)"></div>
<div style="top:378px;height:12px;background:linear-gradient(90deg,#8bff6c 0.5px,#95ff62 6.5px,#95ff62 12.5px,#9fff57 18.5px,#9fff57 48.5px,#aaff4d 54.5px,#ddff1a 60.5px,#d3ff24 66.5px,#95ff62 72.5px,#76ff81 78.5px,#62ff95 84.5px,#43ffb4 90.5px,#57ff9f 96.5px,#57ff9f 138.5px,#4dffaa 144.5px,#1affdd 150.5px,#4dffaa 156.5px,#57ff9f 162.5px,#62ff95 168.5px,#6cff8b 174.5px,#6cff8b 192.5px,#62ff95 198.5px,#62ff95 234.5px,#57ff9f 240.5px,#57ff9f 252.5px,#4dffaa 258.5px,#4dffaa 270.5px,#39ffbe 276.5px,#1affdd 282.5px,#05ecf2 288.5px,#00dffc 294.5px,#05ecf2 300.5px,#0ff9e7 306.5px,#1affdd 312.5px,#43ffb4 318.5px,#81ff76 324.5px,#beff39 330.5px,#e7ff0f 336.5px,#ff8500 342.5px,#ffa900 348.5px,#ffa900 354.5px,#ff9d00 360.5px,#ff9100 366.5px,#ff8500 372.5px,#ff7a00 378.5px,#ff6e00 384.5px,#ff6200 390.5px,#ff5600 396.5px,#ff6200 402.5px,#ff6200 408.5px,#ff6e00 414.5px,#ff4a00 420.5px,#ff9d00 426.5px,#ffc000 432.5px,#e7ff0f 438.5px,#beff39 444.5px,#aaff4d 450.5px,#aaff4d 456.5px,#d3ff24 462.5px,#ddff1a 468.5px,#d3ff24 474.5px,#d3ff24 480.5px,#c9ff2e 486.5px,#aaff4d 492.5px,#9fff57 498.5px,#aaff4d 504.5px,#aaff4d 510.5px,#8bff6c 516.5px,#81ff76 522.5px,#6cff8b 528.5px,#76ff81 534.5px,#76ff81 548.5px);-webkit-mask-image:linear-gradient(180deg,transparent 0,#000 6px);mask-image:linear-gradient(180deg,transparent 0,#000 6px)"></div>
<div style="top:384px;height:12px;background:linear-gradient(90deg,#95ff62 0.5px,#95ff62 6.5px,#9fff57 12.5px,#beff39 18.5px,#d3ff24 24.5px,#aaff4d 30.5px,#beff39 36.5px,#c9ff2e 42.5px,#b4ff43 48.5px,#9fff57 54.5px,#b4ff43 60.5px,#aaff4d 66.5px,#95ff62 72.5px,#81ff76 78.5px,#6cff8b 84.5px,#1affdd 90.5px,#24ffd3 96.5px,#57ff9f 102.5px,#43ffb4 108.5px,#1affdd 114.5px,#43ffb4 120.5px,#57ff9f 126.5px,#57ff9f 132.5px,#62ff95 138.5px,#62ff95 144.5px,#57ff9f 150.5px,#62ff95 156.5px,#76ff81 162.5px,#81ff76 168.5px,#8bff6c 174.5px,#8bff6c 180.5px,#81ff76 186.5px,#81ff76 192.5px,#76ff81 198.5px,#6cff8b 204.5px,#6cff8b 222.5px,#62ff95 228.5px,#62ff95 246.5px,#57ff9f 252.5px,#57ff9f 258.5px,#4dffaa 264.5px,#4dffaa 270.5px,#43ffb4 276.5px,#1affdd 282.5px,#05ecf2 288.5px,#00d2ff 294.5px,#05ecf2 300.5px,#1affdd 306.5px,#2effc9 312.5px,#4dffaa 318.5px,#9fff57 324.5px,#c9ff2e 330.5px,#ffe400 336.5px,#ff7a00 342.5px,#ff9d00 348.5px,#ff9d00 354.5px,#ff9100 360.5px,#ff8500 366.5px,#ff7a00 372.5px,#ff6e00 378.5px,#ff6e00 384.5px,#ff6200 390.5px,#ff6200 414.5px,#ff6e00 420.5px,#ff8500 426.5px,#ffa900 432.5px,#fcf000 438.5px,#c9ff2e 444.5px,#aaff4d 450.5px,#8bff6c 456.5px,#aaff4d 462.5px,#beff39 468.5px,#b4ff43 474.5px,#b4ff43 480.5px,#aaff4d 486.5px,#95ff62 492.5px,#81ff76 498.5px,#81ff76 504.5px,#76ff81 510.5px,#43ffb4 516.5px,#62ff95 522.5px,#76ff81 528.5px,#95ff62 534.5px,#95ff62 548.5px);-webkit-mask-image:linear-gradient(180deg,transparent 0,#000 6px);mask-image:linear-gradient(180deg,transparent 0,#000 6px)"></div>
<div style="top:390px;height:12px;background:linear-gradient(90deg,#95ff62 0.5px,#95ff62 6.5px,#9fff57 12.5px,#d3ff24 18.5px,#f2fb05 24.5px,#aaff4d 30.5px,#e7ff0f 36.5px,#fcf000 42.5px,#ddff1a 48.5px,#aaff4d 54.5px,#9fff57 60.5px,#9fff57 66.5px,#95ff62 72.5px,#8bff6c 78.5px,#76ff81 84.5px,#57ff9f 90.5px,#0ff9e7 96.5px,#57ff9f 102.5px,#4dffaa 108.5px,#0ff9e7 114.5px,#2effc9 120.5px,#57ff9f 126.5px,#62ff95 132.5px,#6cff8b 138.5px,#76ff81 144.5px,#81ff76 150.5px,#8bff6c 156.5px,#95ff62 162.5px,#9fff57 168.5px,#b4ff43 174.5px,#b4ff43 180.5px,#9fff57 186.5px,#95ff62 192.5px,#8bff6c 198.5px,#81ff76 204.5px,#76ff81 210.5px,#76ff81 222.5px,#6cff8b 228.5px,#6cff8b 240.5px,#62ff95 246.5px,#62ff95 252.5px,#57ff9f 258.5px,#57ff9f 264.5px,#4dffaa 270.5px,#4dffaa 276.5px,#24ffd3 282.5px,#0ff9e7 288.5px,#05ecf2 294.5px,#0ff9e7 300.5px,#1affdd 306.5px,#39ffbe 312.5px,#76ff81 318.5px,#b4ff43 324.5px,#d3ff24 330.5px,#ffd800 336.5px,#ff7a00 342.5px,#ff9d00 348.5px,#ff9d00 354.5px,#ff8500 360.5px,#ff7a00 366.5px,#ff6e00 372.5px,#ff6e00 384.5px,#ff6200 390.5px,#ff6200 402.5px,#ff5600 408.5px,#ff6200 414.5px,#ff6e00 420.5px,#ff7a00 426.5px,#ff9d00 432.5px,#ffd800 438.5px,#c9ff2e 444.5px,#aaff4d 450.5px,#9fff57 456.5px,#aaff4d 462.5px,#95ff62 468.5px,#76ff81 474.5px,#76ff81 492.5px,#57ff9f 498.5px,#6cff8b 504.5px,#81ff76 510.5px,#95ff62 516.5px,#aaff4d 522.5px,#b4ff43 528.5px,#beff39 534.5px,#beff39 540.5px,#b4ff43 546.5px,#b4ff43 548.5px);-webkit-mask-image:linear-gradient(180deg,transparent 0,#000 6px);mask-image:linear-gradient(180deg,transparent 0,#000 6px)"></div>
<div style="top:396px;height:12px;background:linear-gradient(90deg,#8bff6c 0.5px,#95ff62 6.5px,#95ff62 12.5px,#beff39 18.5px,#ddff1a 24.5px,#9fff57 30.5px,#d3ff24 36.5px,#e7ff0f 42.5px,#c9ff2e 48.5px,#9fff57 54.5px,#b4ff43 60.5px,#aaff4d 66.5px,#9fff57 72.5px,#95ff62 78.5px,#8bff6c 84.5px,#76ff81 90.5px,#24ffd3 96.5px,#43ffb4 102.5px,#57ff9f 108.5px,#1affdd 114.5px,#39ffbe 120.5px,#62ff95 126.5px,#76ff81 132.5px,#81ff76 138.5px,#95ff62 144.5px,#9fff57 150.5px,#aaff4d 156.5px,#b4ff43 162.5px,#beff39 168.5px,#d3ff24 174.5px,#d3ff24 180.5px,#beff39 186.5px,#aaff4d 192.5px,#9fff57 198.5px,#95ff62 204.5px,#8bff6c 210.5px,#81ff76 216.5px,#81ff76 228.5px,#76ff81 234.5px,#76ff81 246.5px,#6cff8b 252.5px,#62ff95 258.5px,#57ff9f 264.5px,#57ff9f 270.5px,#4dffaa 276.5px,#24ffd3 282.5px,#0ff9e7 288.5px,#0ff9e7 294.5px,#1affdd 300.5px,#39ffbe 306.5px,#4dffaa 312.5px,#95ff62 318.5px,#c9ff2e 324.5px,#e7ff0f 330.5px,#ffcc00 336.5px,#ff8500 342.5px,#ff9100 348.5px,#ff8500 354.5px,#ff6e00 360.5px,#ff6e00 384.5px,#ff6200 390.5px,#ff6200 408.5px,#ff5600 414.5px,#ff6200 420.5px,#ff6e00 426.5px,#ff9100 432.5px,#ffc000 438.5px,#d3ff24 444.5px,#aaff4d 450.5px,#aaff4d 456.5px,#9fff57 462.5px,#8bff6c 468.5px,#57ff9f 474.5px,#62ff95 480.5px,#62ff95 492.5px,#6cff8b 498.5px,#81ff76 504.5px,#9fff57 510.5px,#beff39 516.5px,#d3ff24 522.5px,#d3ff24 528.5px,#ddff1a 534.5px,#ddff1a 540.5px,#d3ff24 546.5px,#d3ff24 548.5px);-webkit-mask-image:linear-gradient(180deg,transparent 0,#000 6px);mask-image:linear-gradient(180deg,transparent 0,#000 6px)"></div>
<div style="top:402px;height:12px;background:linear-gradient(90deg,#8bff6c 0.5px,#8bff6c 6.5px,#95ff62 12.5px,#9fff57 18.5px,#9fff57 36.5px,#aaff4d 42.5px,#9fff57 48.5px,#d3ff24 54.5px,#fcf000 60.5px,#d3ff24 66.5px,#9fff57 72.5px,#9fff57 84.5px,#beff39 90.5px,#6cff8b 96.5px,#2effc9 102.5px,#57ff9f 108.5px,#43ffb4 114.5px,#39ffbe 120.5px,#6cff8b 126.5px,#8bff6c 132.5px,#9fff57 138.5px,#aaff4d 144.5px,#beff39 150.5px,#c9ff2e 156.5px,#d3ff24 162.5px,#e7ff0f 168.5px,#e7ff0f 180.5px,#ddff1a 186.5px,#c9ff2e 192.5px,#b4ff43 198.5px,#aaff4d 204.5px,#9fff57 210.5px,#95ff62 216.5px,#95ff62 222.5px,#8bff6c 228.5px,#8bff6c 234.5px,#81ff76 240.5px,#81ff76 246.5px,#76ff81 252.5px,#76ff81 258.5px,#6cff8b 264.5px,#62ff95 270.5px,#4dffaa 276.5px,#2effc9 282.5px,#0ff9e7 288.5px,#0ff9e7 294.5px,#2effc9 300.5px,#4dffaa 306.5px,#76ff81 312.5px,#aaff4d 318.5px,#c9ff2e 324.5px,#f2fb05 330.5px,#ffc000 336.5px,#ff9100 342.5px,#ff8500 348.5px,#ff9d00 354.5px,#ff7a00 360.5px,#ff6e00 366.5px,#ff6200 372.5px,#ff6200 378.5px,#ff6e00 384.5px,#ff6e00 396.5px,#ff6200 402.5px,#ff6200 420.5px,#ff6e00 426.5px,#ff7a00 432.5px,#ff9100 438.5px,#ffe400 444.5px,#d3ff24 450.5px,#aaff4d 456.5px,#aaff4d 462.5px,#95ff62 468.5px,#81ff76 474.5px,#6cff8b 480.5px,#57ff9f 486.5px,#62ff95 492.5px,#76ff81 498.5px,#9fff57 504.5px,#beff39 510.5px,#d3ff24 516.5px,#ddff1a 522.5px,#ddff1a 528.5px,#e7ff0f 534.5px,#e7ff0f 540.5px,#f2fb05 546.5px,#f2fb05 548.5px);-webkit-mask-image:linear-gradient(180deg,transparent 0,#000 6px);mask-image:linear-gradient(180deg,transparent 0,#000 6px)"></div>
<div style="top:408px;height:12px;background:linear-gradient(90deg,#81ff76 0.5px,#81ff76 12.5px,#95ff62 18.5px,#9fff57 24.5px,#9fff57 48.5px,#b4ff43 54.5px,#beff39 60.5px,#b4ff43 66.5px,#9fff57 72.5px,#9fff57 78.5px,#c9ff2e 84.5px,#ddff1a 90.5px,#9fff57 96.5px,#62ff95 102.5px,#6cff8b 108.5px,#6cff8b 114.5px,#76ff81 120.5px,#8bff6c 126.5px,#aaff4d 132.5px,#beff39 138.5px,#c9ff2e 144.5px,#ddff1a 150.5px,#fcf000 156.5px,#ffe400 162.5px,#ffd800 168.5px,#ffd800 180.5px,#ffe400 186.5px,#f2fb05 192.5px,#d3ff24 198.5px,#c9ff2e 204.5px,#beff39 210.5px,#aaff4d 216.5px,#aaff4d 222.5px,#9fff57 228.5px,#95ff62 234.5px,#95ff62 240.5px,#8bff6c 246.5px,#8bff6c 252.5px,#81ff76 258.5px,#81ff76 264.5px,#6cff8b 270.5px,#57ff9f 276.5px,#39ffbe 282.5px,#1affdd 288.5px,#1affdd 294.5px,#2effc9 300.5px,#57ff9f 306.5px,#8bff6c 312.5px,#aaff4d 318.5px,#c9ff2e 324.5px,#fcf000 330.5px,#ffb500 336.5px,#ff9100 342.5px,#ff8500 348.5px,#ffa900 354.5px,#ff8500 360.5px,#ff6e00 366.5px,#ff5600 372.5px,#ff6200 378.5px,#ff6e00 384.5px,#ff6e00 426.5px,#ff7a00 432.5px,#ff7a00 444.5px,#ffcc00 450.5px,#ffc000 456.5px,#b4ff43 462.5px,#aaff4d 468.5px,#95ff62 474.5px,#8bff6c 480.5px,#76ff81 486.5px,#76ff81 492.5px,#8bff6c 498.5px,#aaff4d 504.5px,#d3ff24 510.5px,#ddff1a 516.5px,#ddff1a 522.5px,#e7ff0f 528.5px,#f2fb05 534.5px,#fcf000 540.5px,#ffe400 546.5px,#ffe400 548.5px);-webkit-mask-image:linear-gradient(180deg,transparent 0,#000 6px);mask-image:linear-gradient(180deg,transparent 0,#000 6px)"></div>
<div style="top:414px;height:12px;background:linear-gradient(90deg,#81ff76 0.5px,#81ff76 6.5px,#8bff6c 12.5px,#aaff4d 18.5px,#c9ff2e 24.5px,#9fff57 30.5px,#aaff4d 36.5px,#c9ff2e 42.5px,#aaff4d 48.5px,#9fff57 54.5px,#9fff57 72.5px,#beff39 78.5px,#e7ff0f 84.5px,#d3ff24 90.5px,#9fff57 96.5px,#8bff6c 102.5px,#81ff76 108.5px,#81ff76 114.5px,#95ff62 120.5px,#aaff4d 126.5px,#c9ff2e 132.5px,#d3ff24 138.5px,#ffe400 144.5px,#ffb500 150.5px,#ffa900 156.5px,#ff9d00 162.5px,#ff9100 168.5px,#ff9100 186.5px,#ffb500 192.5px,#ffcc00 198.5px,#ffe400 204.5px,#ddff1a 210.5px,#c9ff2e 216.5px,#beff39 222.5px,#b4ff43 228.5px,#aaff4d 234.5px,#9fff57 240.5px,#9fff57 252.5px,#95ff62 258.5px,#95ff62 264.5px,#8bff6c 270.5px,#81ff76 276.5px,#57ff9f 282.5px,#39ffbe 288.5px,#39ffbe 294.5px,#4dffaa 300.5px,#8bff6c 306.5px,#9fff57 312.5px,#aaff4d 318.5px,#c9ff2e 324.5px,#ffd800 330.5px,#ff9d00 336.5px,#ff8500 342.5px,#ff7a00 348.5px,#ff9d00 354.5px,#ff8500 360.5px,#ff6e00 366.5px,#ff6200 372.5px,#ff6200 378.5px,#ff6e00 384.5px,#ff6e00 426.5px,#ff7a00 432.5px,#ff7a00 456.5px,#ffd800 462.5px,#fcf000 468.5px,#fcf000 474.5px,#b4ff43 480.5px,#9fff57 486.5px,#95ff62 492.5px,#9fff57 498.5px,#b4ff43 504.5px,#d3ff24 510.5px,#ddff1a 516.5px,#e7ff0f 522.5px,#f2fb05 528.5px,#ffe400 534.5px,#ffd800 540.5px,#ffcc00 546.5px,#ffcc00 548.5px);-webkit-mask-image:linear-gradient(180deg,transparent 0,#000 6px);mask-image:linear-gradient(180deg,transparent 0,#000 6px)"></div>
<div style="top:420px;height:12px;background:linear-gradient(90deg,#81ff76 0.5px,#81ff76 6.5px,#95ff62 12.5px,#b4ff43 18.5px,#e7ff0f 24.5px,#c9ff2e 30.5px,#ddff1a 36.5px,#e7ff0f 42.5px,#d3ff24 48.5px,#9fff57 54.5px,#9fff57 66.5px,#beff39 72.5px,#e7ff0f 78.5px,#e7ff0f 84.5px,#b4ff43 90.5px,#95ff62 96.5px,#95ff62 114.5px,#aaff4d 120.5px,#c9ff2e 126.5px,#ddff1a 132.5px,#fcf000 138.5px,#ffa900 144.5px,#ff6200 150.5px,#ff6200 162.5px,#ff6e00 168.5px,#ff6e00 180.5px,#ff6200 186.5px,#ff7a00 192.5px,#ff8500 198.5px,#ff9100 204.5px,#ff9100 210.5px,#ffa900 216.5px,#ffc000 222.5px,#f2fb05 228.5px,#d3ff24 234.5px,#b4ff43 240.5px,#b4ff43 252.5px,#aaff4d 258.5px,#aaff4d 270.5px,#b4ff43 276.5px,#b4ff43 282.5px,#aaff4d 288.5px,#aaff4d 294.5px,#9fff57 300.5px,#aaff4d 306.5px,#ddff1a 312.5px,#ffe400 318.5px,#ffb500 324.5px,#ff7a00 330.5px,#ff7a00 348.5px,#ffa900 354.5px,#ff8500 360.5px,#ff6e00 366.5px,#ff5600 372.5px,#ff6200 378.5px,#ff6e00 384.5px,#ff6e00 390.5px,#ff7a00 396.5px,#ff7a00 462.5px,#ff9100 468.5px,#ffc000 474.5px,#ffcc00 480.5px,#e7ff0f 486.5px,#ddff1a 492.5px,#beff39 498.5px,#aaff4d 504.5px,#aaff4d 510.5px,#ddff1a 516.5px,#f2fb05 522.5px,#ffe400 528.5px,#ffcc00 534.5px,#ffc000 540.5px,#ffc000 548.5px);-webkit-mask-image:linear-gradient(180deg,transparent 0,#000 6px);mask-image:linear-gradient(180deg,transparent 0,#000 6px)"></div>
<div style="top:426px;height:12px;background:linear-gradient(90deg,#76ff81 0.5px,#81ff76 6.5px,#8bff6c 12.5px,#aaff4d 18.5px,#e7ff0f 24.5px,#e7ff0f 30.5px,#fcf000 36.5px,#e7ff0f 42.5px,#d3ff24 48.5px,#9fff57 54.5px,#95ff62 60.5px,#95ff62 66.5px,#beff39 72.5px,#ddff1a 78.5px,#b4ff43 84.5px,#9fff57 90.5px,#95ff62 96.5px,#95ff62 102.5px,#9fff57 108.5px,#aaff4d 114.5px,#beff39 120.5px,#ddff1a 126.5px,#f2fb05 132.5px,#ffe400 138.5px,#ffc000 144.5px,#ffa900 150.5px,#ffb500 156.5px,#ffb500 180.5px,#ffa900 186.5px,#ff8500 192.5px,#ff8500 198.5px,#ff6e00 204.5px,#ff6200 210.5px,#ff6200 216.5px,#ff7a00 222.5px,#ff8500 228.5px,#ff9d00 234.5px,#ffe400 240.5px,#f2fb05 246.5px,#fcf000 252.5px,#ffcc00 258.5px,#ffd800 264.5px,#fcf000 270.5px,#e7ff0f 276.5px,#e7ff0f 282.5px,#f2fb05 288.5px,#ffe400 294.5px,#ffb500 300.5px,#ff9100 306.5px,#ff6e00 312.5px,#ff6e00 318.5px,#ff9d00 324.5px,#ff9d00 330.5px,#ff9100 336.5px,#ff8500 342.5px,#ff8500 348.5px,#ff9d00 354.5px,#ff5600 360.5px,#ff6200 366.5px,#ff6200 372.5px,#ff6e00 378.5px,#ff6e00 384.5px,#ff8500 390.5px,#ff9d00 396.5px,#ff9d00 408.5px,#ffa900 414.5px,#ff9d00 420.5px,#ff9100 426.5px,#ff7a00 432.5px,#ff6e00 438.5px,#ff6e00 444.5px,#ff7a00 450.5px,#ff7a00 462.5px,#ff8500 468.5px,#ff9100 474.5px,#ff7a00 480.5px,#ffc000 486.5px,#ffa900 492.5px,#ffe400 498.5px,#ffe400 504.5px,#ffcc00 510.5px,#f2fb05 516.5px,#ffcc00 522.5px,#ffcc00 528.5px,#ffc000 534.5px,#ffb500 540.5px,#ffa900 546.5px,#ffa900 548.5px);-webkit-mask-image:linear-gradient(180deg,transparent 0,#000 6px);mask-image:linear-gradient(180deg,transparent 0,#000 6px)"></div>
<div style="top:432px;height:12px;background:linear-gradient(90deg,#6cff8b 0.5px,#76ff81 6.5px,#81ff76 12.5px,#95ff62 18.5px,#c9ff2e 24.5px,#e7ff0f 30.5px,#f2fb05 36.5px,#e7ff0f 42.5px,#beff39 48.5px,#95ff62 54.5px,#95ff62 60.5px,#8bff6c 66.5px,#95ff62 72.5px,#95ff62 96.5px,#9fff57 102.5px,#aaff4d 108.5px,#beff39 114.5px,#d3ff24 120.5px,#f2fb05 126.5px,#fcf000 132.5px,#ffd800 138.5px,#ffc000 144.5px,#ffa900 150.5px,#ff8500 156.5px,#ff9100 162.5px,#ff8500 168.5px,#ff8500 180.5px,#ff9100 186.5px,#ff9100 198.5px,#ff7a00 204.5px,#ff6e00 210.5px,#ff6e00 216.5px,#ff6200 222.5px,#ff6200 252.5px,#ff6e00 258.5px,#ff6200 264.5px,#ff6200 312.5px,#ff6e00 318.5px,#ff8500 324.5px,#ff9100 330.5px,#ff9d00 336.5px,#ff9d00 348.5px,#ff7a00 354.5px,#ff6200 360.5px,#ff6200 366.5px,#ff6e00 372.5px,#ff7a00 378.5px,#ff7a00 384.5px,#ff9100 390.5px,#ffa900 396.5px,#ffb500 402.5px,#ffa900 408.5px,#ffa900 420.5px,#ff9d00 426.5px,#ff7a00 432.5px,#ff6200 438.5px,#ff6200 444.5px,#ff6e00 450.5px,#ff6e00 456.5px,#ff7a00 462.5px,#ff8500 468.5px,#ffb500 474.5px,#ff9100 480.5px,#ff7a00 486.5px,#ff7a00 504.5px,#ff8500 510.5px,#ff9100 516.5px,#ffa900 522.5px,#ffa900 548.5px);-webkit-mask-image:linear-gradient(180deg,transparent 0,#000 6px);mask-image:linear-gradient(180deg,transparent 0,#000 6px)"></div>
<div style="top:438px;height:12px;background:linear-gradient(90deg,#62ff95 0.5px,#6cff8b 6.5px,#76ff81 12.5px,#8bff6c 18.5px,#9fff57 24.5px,#d3ff24 30.5px,#e7ff0f 36.5px,#e7ff0f 42.5px,#beff39 48.5px,#95ff62 54.5px,#81ff76 60.5px,#81ff76 78.5px,#8bff6c 84.5px,#8bff6c 90.5px,#95ff62 96.5px,#9fff57 102.5px,#b4ff43 108.5px,#d3ff24 114.5px,#e7ff0f 120.5px,#ffcc00 126.5px,#ffd800 132.5px,#ffc000 138.5px,#ff9d00 144.5px,#ff7a00 150.5px,#ff6200 156.5px,#ff5600 162.5px,#ff6200 168.5px,#ff7a00 174.5px,#ff8500 180.5px,#ff7a00 186.5px,#ff6200 192.5px,#ff5600 198.5px,#ff6200 204.5px,#ff6200 216.5px,#ff5600 222.5px,#ff5600 228.5px,#ff6200 234.5px,#ff6200 246.5px,#ff5600 252.5px,#ff5600 258.5px,#ff3300 264.5px,#ff5600 270.5px,#ff5600 282.5px,#ff4a00 288.5px,#ff3300 294.5px,#ff4a00 300.5px,#ff4a00 306.5px,#ff5600 312.5px,#ff5600 318.5px,#ff6200 324.5px,#ff6e00 330.5px,#ff7a00 336.5px,#ff7a00 348.5px,#ff6e00 354.5px,#ff6200 360.5px,#ff6200 366.5px,#ff6e00 372.5px,#ff8500 378.5px,#ffa900 384.5px,#ff9100 390.5px,#ffa900 396.5px,#ffb500 402.5px,#ffb500 408.5px,#ffa900 414.5px,#ffa900 420.5px,#ff9d00 426.5px,#ff7a00 432.5px,#ff4a00 438.5px,#ff5600 444.5px,#ff5600 462.5px,#ff6200 468.5px,#ff7a00 474.5px,#ff7a00 480.5px,#ff6e00 486.5px,#ff6200 492.5px,#ff6200 498.5px,#ff6e00 504.5px,#ff6e00 516.5px,#ff7a00 522.5px,#ff9100 528.5px,#ff9100 534.5px,#ff9d00 540.5px,#ffa900 546.5px,#ff9d00 548.5px);-webkit-mask-image:linear-gradient(180deg,transparent 0,#000 6px);mask-image:linear-gradient(180deg,transparent 0,#000 6px)"></div>
<div style="top:444px;height:12px;background:linear-gradient(90deg,#57ff9f 0.5px,#57ff9f 6.5px,#62ff95 12.5px,#76ff81 18.5px,#8bff6c 24.5px,#b4ff43 30.5px,#d3ff24 36.5px,#d3ff24 42.5px,#aaff4d 48.5px,#8bff6c 54.5px,#76ff81 60.5px,#6cff8b 66.5px,#62ff95 72.5px,#6cff8b 78.5px,#76ff81 84.5px,#8bff6c 90.5px,#9fff57 96.5px,#b4ff43 102.5px,#c9ff2e 108.5px,#ddff1a 114.5px,#f2fb05 120.5px,#ffe400 126.5px,#ffcc00 132.5px,#ff9100 138.5px,#ff6200 144.5px,#ff6200 150.5px,#ff6e00 156.5px,#ff8500 162.5px,#ff9d00 168.5px,#ffb500 174.5px,#ffc000 180.5px,#ffb500 186.5px,#ffa900 192.5px,#ff9100 198.5px,#ff9d00 204.5px,#ff9100 210.5px,#ff6e00 216.5px,#ff5600 222.5px,#ff5600 228.5px,#ff6200 234.5px,#ff5600 240.5px,#ff4a00 246.5px,#ff4a00 270.5px,#ff3f00 276.5px,#ff4a00 282.5px,#ff3f00 288.5px,#ff3f00 312.5px,#ff4a00 318.5px,#ff4a00 324.5px,#ff5600 330.5px,#ff5600 336.5px,#ff6200 342.5px,#ff6200 354.5px,#ff5600 360.5px,#ff6200 366.5px,#ff6e00 372.5px,#ff7a00 378.5px,#ffa900 384.5px,#ff9d00 390.5px,#ffa900 396.5px,#ffc000 402.5px,#ffb500 408.5px,#ffb500 414.5px,#ffa900 420.5px,#ff9100 426.5px,#ff6e00 432.5px,#ff5600 438.5px,#ff4a00 444.5px,#ff4a00 456.5px,#ff3f00 462.5px,#ff3f00 468.5px,#ff5600 474.5px,#ff5600 486.5px,#ff4a00 492.5px,#ff4a00 498.5px,#ff5600 504.5px,#ff5600 516.5px,#ff4a00 522.5px,#ff5600 528.5px,#ff6e00 534.5px,#ff7a00 540.5px,#ff8500 546.5px,#ff8500 548.5px);-webkit-mask-image:linear-gradient(180deg,transparent 0,#000 6px);mask-image:linear-gradient(180deg,transparent 0,#000 6px)"></div>
<div style="top:450px;height:12px;background:linear-gradient(90deg,#4dffaa 0.5px,#4dffaa 6.5px,#57ff9f 12.5px,#62ff95 18.5px,#62ff95 24.5px,#39ffbe 30.5px,#6cff8b 36.5px,#95ff62 42.5px,#8bff6c 48.5px,#76ff81 54.5px,#6cff8b 60.5px,#57ff9f 66.5px,#57ff9f 72.5px,#62ff95 78.5px,#6cff8b 84.5px,#8bff6c 90.5px,#aaff4d 96.5px,#c9ff2e 102.5px,#ddff1a 108.5px,#e7ff0f 114.5px,#f2fb05 120.5px,#ffe400 126.5px,#ffc000 132.5px,#ff9100 138.5px,#ff8500 144.5px,#ff9100 150.5px,#ffb500 156.5px,#ffc000 162.5px,#ffb500 168.5px,#ffb500 216.5px,#ff9d00 222.5px,#ff8500 228.5px,#ff6e00 234.5px,#ff5600 240.5px,#ff4a00 246.5px,#ff4a00 264.5px,#ff3f00 270.5px,#ff3300 276.5px,#ff3300 318.5px,#ff3f00 324.5px,#ff3f00 330.5px,#ff4a00 336.5px,#ff4a00 342.5px,#ff5600 348.5px,#ff6200 354.5px,#ff6200 360.5px,#ff6e00 366.5px,#ff6e00 372.5px,#ff7a00 378.5px,#ff9d00 384.5px,#ffa900 390.5px,#ffa900 396.5px,#ffb500 402.5px,#ffa900 408.5px,#ffa900 420.5px,#ff8500 426.5px,#ff6e00 432.5px,#ff5600 438.5px,#ff4a00 444.5px,#ff3f00 450.5px,#ff3f00 456.5px,#ff3300 462.5px,#ff3f00 468.5px,#ff3f00 522.5px,#ff4a00 528.5px,#ff5600 534.5px,#ff6200 540.5px,#ff6200 548.5px);-webkit-mask-image:linear-gradient(180deg,transparent 0,#000 6px);mask-image:linear-gradient(180deg,transparent 0,#000 6px)"></div>
<div style="top:456px;height:12px;background:linear-gradient(90deg,#4dffaa 0.5px,#4dffaa 12.5px,#57ff9f 18.5px,#57ff9f 24.5px,#24ffd3 30.5px,#24ffd3 36.5px,#62ff95 42.5px,#6cff8b 48.5px,#62ff95 54.5px,#62ff95 60.5px,#57ff9f 66.5px,#57ff9f 78.5px,#4dffaa 84.5px,#81ff76 90.5px,#b4ff43 96.5px,#ddff1a 102.5px,#ddff1a 108.5px,#e7ff0f 114.5px,#fcf000 120.5px,#ffe400 126.5px,#ffcc00 132.5px,#ffc000 138.5px,#ffc000 162.5px,#ffb500 168.5px,#ffb500 186.5px,#ffa900 192.5px,#ffa900 204.5px,#ff9d00 210.5px,#ff8500 216.5px,#ffa900 222.5px,#ffc000 228.5px,#ffa900 234.5px,#ff9100 240.5px,#ff6e00 246.5px,#ff6200 252.5px,#ff5600 258.5px,#ff4a00 264.5px,#ff3f00 270.5px,#ff3300 276.5px,#ff2700 282.5px,#ff2700 300.5px,#ff1b00 306.5px,#ff2700 312.5px,#ff2700 324.5px,#ff3300 330.5px,#ff3300 336.5px,#ff3f00 342.5px,#ff5600 348.5px,#ff6200 354.5px,#ff6e00 360.5px,#ff7a00 366.5px,#ff6e00 372.5px,#ff7a00 378.5px,#ff8500 384.5px,#ff9d00 390.5px,#ffa900 396.5px,#ffa900 420.5px,#ff8500 426.5px,#ff6200 432.5px,#ff4a00 438.5px,#ff3300 444.5px,#ff3300 504.5px,#ff2700 510.5px,#ff2700 516.5px,#ff3300 522.5px,#ff3f00 528.5px,#ff4a00 534.5px,#ff4a00 546.5px,#ff5600 548.5px);-webkit-mask-image:linear-gradient(180deg,transparent 0,#000 6px);mask-image:linear-gradient(180deg,transparent 0,#000 6px)"></div>
<div style="top:462px;height:12px;background:linear-gradient(90deg,#43ffb4 0.5px,#43ffb4 6.5px,#4dffaa 12.5px,#4dffaa 18.5px,#57ff9f 24.5px,#39ffbe 30.5px,#05ecf2 36.5px,#43ffb4 42.5px,#57ff9f 48.5px,#57ff9f 78.5px,#62ff95 84.5px,#8bff6c 90.5px,#beff39 96.5px,#ddff1a 102.5px,#e7ff0f 108.5px,#f2fb05 114.5px,#fcf000 120.5px,#ffe400 126.5px,#ffd800 132.5px,#ffcc00 138.5px,#ffc000 144.5px,#ffcc00 150.5px,#ffd800 156.5px,#ffc000 162.5px,#ffb500 168.5px,#ffb500 186.5px,#ffa900 192.5px,#ffa900 204.5px,#ff9d00 210.5px,#ff9100 216.5px,#ffa900 222.5px,#ffb500 228.5px,#ffb500 246.5px,#ff8500 252.5px,#ff6200 258.5px,#ff4a00 264.5px,#ff3f00 270.5px,#ff2700 276.5px,#ff2700 282.5px,#ff1b00 288.5px,#ff1b00 324.5px,#ff2700 330.5px,#ff2700 336.5px,#ff3300 342.5px,#ff4a00 348.5px,#ff7a00 354.5px,#ff9d00 360.5px,#ff9d00 366.5px,#ff9100 372.5px,#ff9100 384.5px,#ffa900 390.5px,#ff9d00 396.5px,#ffa900 402.5px,#ffa900 414.5px,#ff9d00 420.5px,#ff7a00 426.5px,#ff5600 432.5px,#ff3f00 438.5px,#ff3300 444.5px,#ff2700 450.5px,#ff2700 522.5px,#ff3300 528.5px,#ff3f00 534.5px,#ff3f00 548.5px);-webkit-mask-image:linear-gradient(180deg,transparent 0,#000 6px);mask-image:linear-gradient(180deg,transparent 0,#000 6px)"></div>
<div style="top:468px;height:12px;background:linear-gradient(90deg,#43ffb4 0.5px,#43ffb4 12.5px,#4dffaa 18.5px,#57ff9f 24.5px,#39ffbe 30.5px,#2effc9 36.5px,#24ffd3 42.5px,#57ff9f 48.5px,#4dffaa 54.5px,#4dffaa 66.5px,#57ff9f 72.5px,#62ff95 78.5px,#76ff81 84.5px,#95ff62 90.5px,#beff39 96.5px,#ddff1a 102.5px,#e7ff0f 108.5px,#ffe400 114.5px,#ffe400 126.5px,#ffd800 132.5px,#ffcc00 138.5px,#ffcc00 156.5px,#ffc000 162.5px,#ffc000 168.5px,#ffb500 174.5px,#ffc000 180.5px,#ffa900 186.5px,#ffb500 192.5px,#ffb500 204.5px,#ff9d00 210.5px,#ffa900 216.5px,#ffb500 222.5px,#ffb500 228.5px,#ffa900 234.5px,#ff9100 240.5px,#ff9100 246.5px,#ffa900 252.5px,#ff9100 258.5px,#ff5600 264.5px,#ff3300 270.5px,#ff2700 276.5px,#ff1b00 282.5px,#ff1b00 294.5px,#fb0f00 300.5px,#fb0f00 324.5px,#ff1b00 330.5px,#ff1b00 336.5px,#ff2700 342.5px,#ff3f00 348.5px,#ff6e00 354.5px,#ff9100 360.5px,#ffa900 366.5px,#ffa900 408.5px,#ff9d00 414.5px,#ff8500 420.5px,#ff6200 426.5px,#ff4a00 432.5px,#ff3f00 438.5px,#ff3300 444.5px,#ff2700 450.5px,#ff2700 480.5px,#ff1b00 486.5px,#ff1b00 510.5px,#ff2700 516.5px,#ff2700 528.5px,#ff3300 534.5px,#ff3300 540.5px,#ff3f00 546.5px,#ff3f00 548.5px);-webkit-mask-image:linear-gradient(180deg,transparent 0,#000 6px);mask-image:linear-gradient(180deg,transparent 0,#000 6px)"></div>
<div style="top:474px;height:12px;background:linear-gradient(90deg,#43ffb4 0.5px,#4dffaa 6.5px,#39ffbe 12.5px,#43ffb4 18.5px,#4dffaa 24.5px,#4dffaa 30.5px,#57ff9f 36.5px,#4dffaa 42.5px,#39ffbe 48.5px,#39ffbe 54.5px,#4dffaa 60.5px,#4dffaa 66.5px,#57ff9f 72.5px,#62ff95 78.5px,#76ff81 84.5px,#95ff62 90.5px,#beff39 96.5px,#ddff1a 102.5px,#e7ff0f 108.5px,#f2fb05 114.5px,#fcf000 120.5px,#ffe400 126.5px,#ffd800 132.5px,#ffcc00 138.5px,#ffcc00 150.5px,#ffc000 156.5px,#ffc000 168.5px,#ffb500 174.5px,#ff9100 180.5px,#ff6200 186.5px,#ff9d00 192.5px,#ffc000 198.5px,#ffb500 204.5px,#ff6200 210.5px,#ff9100 216.5px,#ffc000 222.5px,#ff9d00 228.5px,#ff6e00 234.5px,#ff6200 240.5px,#ff5600 246.5px,#ff5600 258.5px,#ff3f00 264.5px,#ff2700 270.5px,#ff1b00 276.5px,#ff1b00 282.5px,#fb0f00 288.5px,#fb0f00 336.5px,#ff1b00 342.5px,#ff2700 348.5px,#ff3f00 354.5px,#ff6200 360.5px,#ff3300 366.5px,#ff8500 372.5px,#ff9100 378.5px,#ff9100 402.5px,#ff8500 408.5px,#ff7a00 414.5px,#ff6200 420.5px,#ff4a00 426.5px,#ff3f00 432.5px,#ff3300 438.5px,#ff2700 444.5px,#ff2700 456.5px,#ff1b00 462.5px,#ff1b00 516.5px,#ff2700 522.5px,#ff2700 534.5px,#ff3300 540.5px,#ff3300 548.5px);-webkit-mask-image:linear-gradient(180deg,transparent 0,#000 6px);mask-image:linear-gradient(180deg,transparent 0,#000 6px)"></div>
<div style="top:480px;height:12px;background:linear-gradient(90deg,#43ffb4 0.5px,#2effc9 6.5px,#1affdd 12.5px,#2effc9 18.5px,#4dffaa 24.5px,#4dffaa 42.5px,#39ffbe 48.5px,#24ffd3 54.5px,#2effc9 60.5px,#4dffaa 66.5px,#57ff9f 72.5px,#62ff95 78.5px,#6cff8b 84.5px,#95ff62 90.5px,#beff39 96.5px,#ddff1a 102.5px,#e7ff0f 108.5px,#f2fb05 114.5px,#fcf000 120.5px,#ffe400 126.5px,#ffd800 132.5px,#ffd800 138.5px,#ffcc00 144.5px,#ffcc00 150.5px,#ffc000 156.5px,#ffc000 168.5px,#ffa900 174.5px,#ff6200 180.5px,#ff6200 186.5px,#ff6e00 192.5px,#ff9d00 198.5px,#ffc000 204.5px,#ff9100 210.5px,#ff6200 216.5px,#ff8500 222.5px,#ff9100 228.5px,#ff5600 234.5px,#ff5600 240.5px,#ff4a00 246.5px,#ff3f00 252.5px,#ff3f00 258.5px,#ff3300 264.5px,#ff2700 270.5px,#ff1b00 276.5px,#fb0f00 282.5px,#fb0f00 300.5px,#ec0400 306.5px,#ec0400 342.5px,#fb0f00 348.5px,#ff1b00 354.5px,#ff2700 360.5px,#ff3f00 366.5px,#ff4a00 372.5px,#ff5600 378.5px,#ff5600 408.5px,#ff3f00 414.5px,#ff3300 420.5px,#ff2700 426.5px,#ff2700 444.5px,#ff1b00 450.5px,#ff1b00 516.5px,#ff2700 522.5px,#ff2700 540.5px,#ff3300 546.5px,#ff3300 548.5px);-webkit-mask-image:linear-gradient(180deg,transparent 0,#000 6px);mask-image:linear-gradient(180deg,transparent 0,#000 6px)"></div>
<div style="top:486px;height:12px;background:linear-gradient(90deg,#4dffaa 0.5px,#39ffbe 6.5px,#1affdd 12.5px,#24ffd3 18.5px,#39ffbe 24.5px,#4dffaa 30.5px,#4dffaa 48.5px,#2effc9 54.5px,#24ffd3 60.5px,#43ffb4 66.5px,#4dffaa 72.5px,#57ff9f 78.5px,#57ff9f 84.5px,#8bff6c 90.5px,#beff39 96.5px,#ddff1a 102.5px,#e7ff0f 108.5px,#f2fb05 114.5px,#fcf000 120.5px,#ffe400 126.5px,#ffd800 132.5px,#ffd800 138.5px,#ffcc00 144.5px,#ffcc00 150.5px,#ffc000 156.5px,#ffc000 168.5px,#ffa900 174.5px,#ff7a00 180.5px,#ff6e00 186.5px,#ff6e00 192.5px,#ff6200 198.5px,#ff8500 204.5px,#ff9100 210.5px,#ff6200 216.5px,#ff6200 228.5px,#ff5600 234.5px,#ff4a00 240.5px,#ff3f00 246.5px,#ff3300 252.5px,#ff3300 258.5px,#ff2700 264.5px,#ff1b00 270.5px,#fb0f00 276.5px,#ec0400 282.5px,#ec0400 306.5px,#c10000 312.5px,#cf0000 318.5px,#cf0000 324.5px,#c10000 330.5px,#b20000 336.5px,#b20000 342.5px,#cf0000 348.5px,#cf0000 354.5px,#ec0400 360.5px,#ff1b00 366.5px,#ff1b00 372.5px,#ec0400 378.5px,#fb0f00 384.5px,#ec0400 390.5px,#ec0400 396.5px,#fb0f00 402.5px,#fb0f00 414.5px,#ec0400 420.5px,#ec0400 426.5px,#fb0f00 432.5px,#ff1b00 438.5px,#ff1b00 462.5px,#ff2700 468.5px,#ff2700 548.5px);-webkit-mask-image:linear-gradient(180deg,transparent 0,#000 6px);mask-image:linear-gradient(180deg,transparent 0,#000 6px)"></div>
<div style="top:492px;height:12px;background:linear-gradient(90deg,#4dffaa 0.5px,#43ffb4 6.5px,#2effc9 12.5px,#1affdd 18.5px,#24ffd3 24.5px,#43ffb4 30.5px,#4dffaa 36.5px,#43ffb4 42.5px,#4dffaa 48.5px,#39ffbe 54.5px,#1affdd 60.5px,#39ffbe 66.5px,#4dffaa 72.5px,#57ff9f 78.5px,#62ff95 84.5px,#8bff6c 90.5px,#b4ff43 96.5px,#ddff1a 102.5px,#e7ff0f 108.5px,#f2fb05 114.5px,#ffd800 120.5px,#ffe400 126.5px,#ffd800 132.5px,#ffd800 138.5px,#ffcc00 144.5px,#ffcc00 156.5px,#ffc000 162.5px,#ffc000 168.5px,#ffb500 174.5px,#ff7a00 180.5px,#ff6e00 186.5px,#ff6e00 198.5px,#ff6200 204.5px,#ff6200 222.5px,#ff5600 228.5px,#ff4a00 234.5px,#ff3f00 240.5px,#ff3300 246.5px,#ff3300 252.5px,#ff2700 258.5px,#ff1b00 264.5px,#fb0f00 270.5px,#ec0400 276.5px,#cf0000 282.5px,#c10000 288.5px,#c10000 300.5px,#ec0400 306.5px,#b20000 312.5px,#b20000 324.5px,#c10000 330.5px,#c10000 336.5px,#b20000 342.5px,#b20000 354.5px,#de0000 360.5px,#fb0f00 366.5px,#de0000 372.5px,#c10000 378.5px,#c10000 384.5px,#b20000 390.5px,#c10000 396.5px,#c10000 426.5px,#de0000 432.5px,#ec0400 438.5px,#fb0f00 444.5px,#ff1b00 450.5px,#ff1b00 456.5px,#ff2700 462.5px,#ff2700 548.5px);-webkit-mask-image:linear-gradient(180deg,transparent 0,#000 6px);mask-image:linear-gradient(180deg,transparent 0,#000 6px)"></div>
<div style="top:498px;height:8px;background:linear-gradient(90deg,#43ffb4 0.5px,#4dffaa 6.5px,#43ffb4 12.5px,#24ffd3 18.5px,#24ffd3 24.5px,#2effc9 30.5px,#4dffaa 36.5px,#43ffb4 42.5px,#43ffb4 54.5px,#1affdd 60.5px,#39ffbe 66.5px,#57ff9f 72.5px,#62ff95 78.5px,#76ff81 84.5px,#95ff62 90.5px,#b4ff43 96.5px,#d3ff24 102.5px,#e7ff0f 108.5px,#f2fb05 114.5px,#ffe400 120.5px,#ffe400 126.5px,#ffd800 132.5px,#ffd800 138.5px,#ffcc00 144.5px,#ffcc00 156.5px,#ffc000 162.5px,#ffc000 168.5px,#ff9d00 174.5px,#ff6200 180.5px,#ff6e00 186.5px,#ff7a00 192.5px,#ff7a00 198.5px,#ff6e00 204.5px,#ff6e00 210.5px,#ff6200 216.5px,#ff6200 222.5px,#ff5600 228.5px,#ff4a00 234.5px,#ff3f00 240.5px,#ff3300 246.5px,#ff2700 252.5px,#ff1b00 258.5px,#ff1b00 264.5px,#ec0400 270.5px,#cf0000 276.5px,#b20000 282.5px,#cf0000 288.5px,#c10000 294.5px,#b20000 300.5px,#de0000 306.5px,#b20000 312.5px,#c10000 318.5px,#c10000 342.5px,#b20000 348.5px,#b20000 354.5px,#cf0000 360.5px,#ec0400 366.5px,#de0000 372.5px,#b20000 378.5px,#b20000 384.5px,#c10000 390.5px,#c10000 396.5px,#b20000 402.5px,#b20000 432.5px,#cf0000 438.5px,#ec0400 444.5px,#ff1b00 450.5px,#ff1b00 456.5px,#ff2700 462.5px,#ff2700 486.5px,#ff3300 492.5px,#ff3300 510.5px,#ff2700 516.5px,#ff2700 548.5px);-webkit-mask-image:linear-gradient(180deg,transparent 0,#000 6px);mask-image:linear-gradient(180deg,transparent 0,#000 6px)"></div>
<div style="top:504px;height:3px;background:linear-gradient(90deg,#43ffb4 0.5px,#43ffb4 6.5px,#4dffaa 12.5px,#2effc9 18.5px,#24ffd3 24.5px,#2effc9 30.5px,#4dffaa 36.5px,#43ffb4 42.5px,#43ffb4 54.5px,#24ffd3 60.5px,#39ffbe 66.5px,#57ff9f 72.5px,#62ff95 78.5px,#76ff81 84.5px,#95ff62 90.5px,#b4ff43 96.5px,#d3ff24 102.5px,#e7ff0f 108.5px,#f2fb05 114.5px,#fcf000 120.5px,#ffe400 126.5px,#ffd800 132.5px,#ffd800 144.5px,#ffcc00 150.5px,#ffcc00 156.5px,#ffc000 162.5px,#ffc000 168.5px,#ff9100 174.5px,#ff6200 180.5px,#ff6e00 186.5px,#ff7a00 192.5px,#ff7a00 198.5px,#ff6e00 204.5px,#ff6e00 210.5px,#ff6200 216.5px,#ff6200 222.5px,#ff5600 228.5px,#ff4a00 234.5px,#ff3f00 240.5px,#ff3300 246.5px,#ff2700 252.5px,#ff1b00 258.5px,#fb0f00 264.5px,#ec0400 270.5px,#cf0000 276.5px,#b20000 282.5px,#c10000 288.5px,#c10000 300.5px,#de0000 306.5px,#b20000 312.5px,#c10000 318.5px,#c10000 348.5px,#b20000 354.5px,#cf0000 360.5px,#ec0400 366.5px,#de0000 372.5px,#b20000 378.5px,#b20000 384.5px,#c10000 390.5px,#c10000 396.5px,#b20000 402.5px,#b20000 432.5px,#c10000 438.5px,#ec0400 444.5px,#fb0f00 450.5px,#ff1b00 456.5px,#ff2700 462.5px,#ff2700 480.5px,#ff3300 486.5px,#ff3300 522.5px,#ff2700 528.5px,#ff2700 548.5px);-webkit-mask-image:linear-gradient(180deg,transparent 0,#000 2px);mask-image:linear-gradient(180deg,transparent 0,#000 2px)"></div>
</div>
<svg width="800" height="618" viewBox="0 0 800 618">
<polygon points="125.0,56.0 357.0,56.0 357.0,58.7 346.3,58.7 346.3,64.5 341.0,64.5 341.0,67.7 336.3,67.7 336.3,78.2 320.0,78.2 320.0,79.7 314.8,79.7 314.8,84.5 309.5,84.5 309.5,88.7 299.0,88.7 295.3,88.7 295.3,78.2 283.3,78.2 283.3,98.0 288.5,98.0 288.5,105.5 303.7,105.5 303.7,151.0 298.0,151.0 298.0,166.0 294.0,166.0 294.0,180.0 290.0,180.0 290.0,212.0 284.0,212.0 284.0,218.0 278.0,218.0 278.0,222.0 250.0,222.0 250.0,224.5 230.0,224.5 230.0,228.0 216.0,228.0 216.0,232.0 208.0,232.0 208.0,236.0 203.0,236.0 203.0,240.0 198.0,240.0 198.0,244.0 194.0,244.0 194.0,248.0 190.0,248.0 190.0,252.0 186.0,252.0 186.0,256.0 182.0,256.0 182.0,261.0 178.0,261.0 178.0,266.0 174.0,266.0 174.0,271.0 170.0,271.0 170.0,276.0 166.0,276.0 166.0,281.0 162.0,281.0 162.0,286.0 158.0,286.0 158.0,291.0 154.0,291.0 154.0,296.0 150.0,296.0 150.0,301.0 147.0,301.0 147.0,318.0 149.0,318.0 149.0,330.0 151.0,330.0 151.0,360.0 149.0,360.0 149.0,372.0 146.0,372.0 146.0,386.0 142.0,386.0 142.0,400.0 140.0,400.0 140.0,415.0 141.0,415.0 141.0,428.0 142.0,428.0 142.0,445.0 137.5,445.0 137.5,455.0 132.0,455.0 132.0,463.0 125.0,463.0" fill="#fff"/>
<line x1="194.5" y1="56" x2="194.5" y2="563" stroke="#aaa" stroke-width="1" stroke-dasharray="2 4.3"/>
<line x1="265.5" y1="56" x2="265.5" y2="563" stroke="#aaa" stroke-width="1" stroke-dasharray="2 4.3"/>
<line x1="336.5" y1="56" x2="336.5" y2="563" stroke="#aaa" stroke-width="1" stroke-dasharray="2 4.3"/>
<line x1="407.5" y1="56" x2="407.5" y2="563" stroke="#aaa" stroke-width="1" stroke-dasharray="2 4.3"/>
<line x1="477.5" y1="56" x2="477.5" y2="563" stroke="#aaa" stroke-width="1" stroke-dasharray="2 4.3"/>
<line x1="548.5" y1="56" x2="548.5" y2="563" stroke="#aaa" stroke-width="1" stroke-dasharray="2 4.3"/>
<line x1="619.5" y1="56" x2="619.5" y2="563" stroke="#aaa" stroke-width="1" stroke-dasharray="2 4.3"/>
<line x1="125" y1="106.5" x2="674" y2="106.5" stroke="#aaa" stroke-width="1" stroke-dasharray="2 4.3"/>
<line x1="125" y1="191.5" x2="674" y2="191.5" stroke="#aaa" stroke-width="1" stroke-dasharray="2 4.3"/>
<line x1="125" y1="276.5" x2="674" y2="276.5" stroke="#aaa" stroke-width="1" stroke-dasharray="2 4.3"/>
<line x1="125" y1="360.5" x2="674" y2="360.5" stroke="#aaa" stroke-width="1" stroke-dasharray="2 4.3"/>
<line x1="125" y1="445.5" x2="674" y2="445.5" stroke="#aaa" stroke-width="1" stroke-dasharray="2 4.3"/>
<line x1="125" y1="530.5" x2="674" y2="530.5" stroke="#aaa" stroke-width="1" stroke-dasharray="2 4.3"/>
<polyline points="304.3,124.1 308.4,117.3 312.5,109.0 318.0,104.9 326.3,102.1 337.3,103.5 344.1,101.3 349.6,103.0 352.4,111.8 355.1,109.0 360.6,104.9 368.9,103.5 364.8,98.0 362.0,92.5 368.9,87.0 375.8,85.6 370.3,80.1 367.5,71.9 364.8,69.1 368.0,66.0 377.1,70.5 374.4,76.0 375.8,80.1 384.0,78.8 390.9,70.5 392.3,66.4 395.0,74.6 397.8,78.8 406.0,77.4 417.0,74.6 428.0,74.6 433.5,73.3 441.8,70.5 450.0,67.8 458.3,69.1 463.8,67.8 472.0,70.5 490.6,67.1 500.0,67.1 503.7,74.6 511.2,74.6 513.0,61.5 509.4,59.6 511.2,56.0" fill="none" stroke="#000" stroke-width="1" shape-rendering="crispEdges"/>
<polyline points="534.0,56.0 540.0,62.0 545.0,74.6 546.9,61.5 552.5,59.6 556.0,56.0" fill="none" stroke="#000" stroke-width="1" shape-rendering="crispEdges"/>
<polyline points="163.4,291.5 165.5,283.0 176.1,276.6 191.0,274.5 203.7,276.6 225.0,274.5 237.7,266.0 248.4,257.5 263.2,249.0 279.4,239.2 290.0,233.3 292.9,231.4 292.0,219.7 297.8,215.8 304.6,206.1 304.6,198.3 301.7,192.5 306.5,186.6 311.4,178.9 313.3,169.2 317.2,163.3 316.2,157.5 321.0,153.6 331.8,152.6 336.6,153.6 337.6,159.4 336.6,169.2 336.6,177.9 338.6,180.8 341.5,177.9 344.4,179.8 346.4,185.7 350.3,178.9 353.2,181.8 354.1,186.6 358.0,192.5 357.0,203.2 354.1,211.9 348.3,217.7 345.4,225.5 347.3,233.3 351.2,237.2 352.2,241.1 347.3,249.8 356.0,247.0 362.0,242.0 367.7,235.2 368.7,229.4 369.7,221.6 369.7,214.8 366.8,210.0 368.7,204.1 369.7,196.4 375.5,198.3 379.4,194.4 385.2,192.5 391.0,191.5 400.0,194.4 412.0,202.2 420.5,206.5 433.2,219.2 431.5,232.0 446.0,210.7 454.5,208.6 460.0,214.1 466.5,217.4 468.1,214.1 472.9,207.7 477.8,207.7 488.5,218.0 495.6,214.1 508.5,209.3 507.0,204.4 515.0,198.0 521.5,193.1 524.7,206.0 528.0,194.7 534.4,186.6 537.7,180.2 545.8,167.2 553.9,154.3 562.0,145.5 566.8,149.4 572.6,162.4 578.1,155.9 586.2,152.7 598.5,151.0 602.4,155.9 595.9,162.4 587.8,168.8 587.8,173.7 597.5,176.9 600.8,185.0 600.8,191.5 595.9,201.2 589.4,207.7 579.7,212.5 570.0,214.8 565.2,219.0 563.6,227.1 555.5,233.6 550.6,241.7 552.2,247.2 561.9,246.5 563.6,249.7 553.9,249.7 548.0,252.3 557.1,254.6 572.6,256.9 583.0,260.4 605.6,258.8 628.3,255.6 654.2,253.0 667.1,254.6 675.2,257.8" fill="none" stroke="#000" stroke-width="1" shape-rendering="crispEdges"/>
<polyline points="636.0,143.5 645.0,146.0 651.0,146.2 657.4,149.4 675.0,151.0" fill="none" stroke="#000" stroke-width="1" shape-rendering="crispEdges"/>
<polyline points="675.0,160.7 660.6,162.4 657.4,159.1 641.2,173.7 646.0,175.3 657.4,165.6 675.0,168.0" fill="none" stroke="#000" stroke-width="1" shape-rendering="crispEdges"/>
<polyline points="368.1,312.1 375.9,313.8 381.0,312.1 386.1,308.7 391.2,312.1 398.0,310.4 406.5,309.7 411.0,315.5 410.0,320.6 403.1,327.4 399.7,341.0 396.3,354.6 389.5,363.1 386.1,371.6 386.1,381.8 391.2,392.0 408.2,405.6 421.8,412.4 432.0,421.0 438.8,429.5 441.6,439.7 435.4,453.3 426.9,461.8 425.2,473.7 415.7,475.4 408.9,473.7 405.5,463.5 404.1,449.9 399.7,436.3 389.9,422.7 380.3,414.7 369.6,405.8 355.4,396.9 346.5,394.3 339.4,396.6 326.9,397.3 324.3,391.6 325.2,388.0 332.3,387.2 335.8,381.0 336.2,371.1 337.6,369.4 338.5,377.4 341.2,379.1 344.7,373.8 346.5,363.1 348.3,371.1 351.9,372.0 357.2,368.5 361.6,368.5 363.4,375.6 361.6,382.7 366.1,383.6 373.2,379.1 380.3,368.5 385.7,361.4 376.8,356.9 369.6,353.3 367.0,348.9 360.7,347.1 359.9,340.0 360.6,327.4 360.6,317.2 364.0,313.1 368.1,312.1" fill="none" stroke="#000" stroke-width="1" shape-rendering="crispEdges"/>
<polyline points="303.8,380.0 311.8,379.5 312.7,389.8 316.3,398.7 317.2,407.6 313.6,416.5 312.7,423.6 309.0,428.0 301.1,421.9 302.9,411.2 305.6,406.7 309.1,402.3 307.4,397.0 302.0,393.4 297.6,388.9 303.8,380.0" fill="none" stroke="#000" stroke-width="1" shape-rendering="crispEdges"/>
<polyline points="449.0,475.4 447.3,466.9 449.0,456.7 455.9,443.0 459.3,426.0 458.6,409.0 454.1,397.1 445.6,393.7 430.3,396.0 420.1,398.8 415.0,392.0 413.3,378.4 413.3,358.0 415.0,344.4 421.8,334.2 430.3,329.1 442.2,330.8 452.0,333.5 467.0,339.5 479.0,348.5 491.0,356.0 503.0,365.0 518.0,371.0 536.0,374.6 560.0,375.5 593.0,374.6 608.0,375.5 629.0,374.0 636.5,368.0 635.0,356.0 636.5,350.0 644.0,347.0 656.0,350.0 665.0,348.5 675.0,345.5" fill="none" stroke="#000" stroke-width="1" shape-rendering="crispEdges"/>
<polyline points="582.9,421.3 582.9,430.0 585.5,444.0 589.0,446.1 597.8,444.0 611.8,441.4 615.3,436.1 622.3,433.9 632.8,436.1 643.3,432.6 653.8,424.8 660.8,416.0 662.5,410.8 667.8,403.8 675.0,393.0" fill="none" stroke="#000" stroke-width="1" shape-rendering="crispEdges"/>
<polyline points="575.0,422.1 568.9,431.8 568.0,438.8 570.6,449.3 570.6,459.8 576.8,465.0 587.3,472.0 597.8,477.3 613.5,482.5 634.5,486.0 639.8,483.4 631.0,473.8 635.4,464.1 645.0,456.3 660.8,451.9 667.8,454.5 675.0,454.5" fill="none" stroke="#000" stroke-width="1" shape-rendering="crispEdges"/>
<polyline points="224.4,563.0 222.4,552.4 222.0,536.4 222.4,518.3 225.4,512.3 232.4,504.3 240.5,494.2 248.5,484.2 256.5,476.1 264.6,470.1 272.6,466.1 280.0,463.0 287.6,460.0 295.0,457.0 303.5,454.0 309.0,456.8 320.4,465.2 336.1,471.8 349.2,477.1 362.4,482.3 372.9,484.1 386.0,485.7 407.0,484.1 428.0,483.1 440.0,481.5 449.0,475.4" fill="none" stroke="#000" stroke-width="1" shape-rendering="crispEdges"/>
<polyline points="551.4,417.8 549.6,430.0 546.1,437.0 552.3,444.0 555.8,452.8 557.5,461.5 566.3,466.8 583.8,475.5 601.3,482.5 618.8,487.8 632.8,492.1 645.0,496.5 653.8,500.0 675.0,505.0" fill="none" stroke="#000" stroke-width="1" shape-rendering="crispEdges"/>
<polyline points="446.0,484.0 433.2,487.6 407.0,490.2 380.7,491.5 359.7,488.9 345.0,485.1 333.7,482.2 322.5,481.1 315.7,479.4 311.2,476.6 300.0,476.1 288.7,476.6 277.5,478.9 271.9,481.7 270.2,483.4 273.0,485.6 286.5,485.1 300.0,485.1 309.0,485.1 314.6,487.3 322.5,491.2 327.0,493.3 322.5,493.5 313.5,494.1 300.0,493.5 293.2,492.9 286.5,494.0 279.0,493.5 271.9,499.7 266.2,503.6 262.9,507.0 261.7,510.4 264.0,512.1 271.9,512.6 283.1,508.1 294.4,503.6 307.9,499.7 314.6,503.6 322.5,505.3 333.7,505.3 341.6,509.2 351.9,512.5 365.0,517.7 375.5,523.0 383.4,530.3 372.9,530.9 362.4,529.6 354.5,536.1 351.9,544.0 344.0,540.0 338.7,532.2 333.5,530.9 332.2,536.1 336.1,544.0 336.1,549.2 328.2,546.6 320.4,541.4 315.1,534.8 309.9,532.2 302.0,538.7 300.7,546.6 304.6,550.6 299.4,561.0 299.0,563.0" fill="none" stroke="#000" stroke-width="1" shape-rendering="crispEdges"/>
<polyline points="446.0,484.0 455.0,486.0 466.0,489.0 476.2,488.0 476.2,475.1 473.6,459.5 469.7,444.0 468.4,428.4 467.1,411.6 466.0,404.0" fill="none" stroke="#000" stroke-width="1" shape-rendering="crispEdges"/>
<polyline points="465.8,377.9 472.3,377.9 477.5,389.6 483.9,405.1 490.4,412.9 491.7,425.9 489.1,433.6 485.2,431.0 481.3,420.7 474.9,407.7 469.7,394.8 465.8,381.8 465.8,377.9" fill="none" stroke="#000" stroke-width="1" shape-rendering="crispEdges"/>
<polyline points="398.9,563.0 404.0,556.0 409.4,552.8 418.6,551.5 426.4,552.8 428.0,558.0 428.0,563.0" fill="none" stroke="#000" stroke-width="1" shape-rendering="crispEdges"/>
<polyline points="431.7,563.0 434.3,546.2 440.9,548.9 448.7,547.6 456.6,544.9 467.1,544.9 475.0,548.9 480.2,546.2 482.9,554.1 485.5,562.0 486.0,563.0" fill="none" stroke="#000" stroke-width="1" shape-rendering="crispEdges"/>
<polyline points="498.6,563.0 501.2,550.2 506.5,554.1 514.4,550.2 522.2,552.8 538.0,552.8 551.1,551.5 564.2,560.7 564.5,563.0" fill="none" stroke="#000" stroke-width="1" shape-rendering="crispEdges"/>
<polyline points="131.0,540.4 136.0,537.4 142.1,539.4 146.1,546.4 152.1,554.5 157.1,560.5 157.0,563.0" fill="none" stroke="#000" stroke-width="1" shape-rendering="crispEdges"/>
<polyline points="130.0,544.4 134.0,552.4 140.0,558.5 142.0,563.0" fill="none" stroke="#000" stroke-width="1" shape-rendering="crispEdges"/>
<polyline points="172.2,536.4 178.2,535.4 184.2,540.4 188.3,546.4 190.3,552.4 189.3,563.0" fill="none" stroke="#000" stroke-width="1" shape-rendering="crispEdges"/>
<polyline points="172.2,540.4 176.2,544.4 180.2,554.5 182.2,563.0" fill="none" stroke="#000" stroke-width="1" shape-rendering="crispEdges"/>
<polyline points="157.1,511.3 159.1,518.3 164.2,524.3 167.2,526.3 169.2,534.4 165.2,532.4 161.1,528.4 156.1,530.4 155.1,524.3 156.0,516.0 157.1,511.3" fill="none" stroke="#000" stroke-width="1" shape-rendering="crispEdges"/>
<polyline points="216.4,442.0 222.4,446.0 224.4,454.0 227.4,464.1 222.4,466.1 220.4,458.1 218.4,448.0 216.4,442.0" fill="none" stroke="#000" stroke-width="1" shape-rendering="crispEdges"/>
<polyline points="235.4,444.0 242.5,445.0 246.5,452.0 244.5,460.1 241.5,465.1 237.5,460.1 235.4,452.0 235.4,444.0" fill="none" stroke="#000" stroke-width="1" shape-rendering="crispEdges"/>
<polyline points="145.1,478.2 149.1,475.1 154.1,481.2 160.1,479.2 167.2,475.1 173.2,479.2 176.2,486.2 173.2,493.2 172.2,500.2 171.2,506.3 164.2,508.3 157.1,506.3 154.1,501.2 150.1,496.2 146.1,490.2 144.1,484.2 145.1,478.2" fill="none" stroke="#000" stroke-width="1" shape-rendering="crispEdges"/>
<polyline points="216.4,460.1 217.4,475.1 212.4,484.2 204.3,489.2 198.3,489.2 196.3,483.2 204.3,475.1 210.3,468.1 216.4,460.1" fill="none" stroke="#000" stroke-width="1" shape-rendering="crispEdges"/>
<polyline points="194.8,356.1 205.1,354.8 212.0,357.0 220.7,362.0 222.0,375.5 222.0,393.6 215.5,394.9 207.7,388.4 201.2,379.4 196.1,370.3 194.8,362.5 194.8,356.1" fill="none" stroke="#000" stroke-width="1" shape-rendering="crispEdges"/>
<polyline points="177.9,360.0 183.1,362.5 183.0,372.0 184.0,385.0 185.7,406.6 184.4,418.2 180.5,406.6 179.0,390.0 177.0,372.0 177.9,360.0" fill="none" stroke="#000" stroke-width="1" shape-rendering="crispEdges"/>
<polyline points="163.7,388.4 166.3,398.8 168.9,414.4 167.6,427.3 161.1,429.9 157.2,420.8 149.4,419.5 148.1,411.8 155.9,401.4 163.7,388.4" fill="none" stroke="#000" stroke-width="1" shape-rendering="crispEdges"/>
<polyline points="187.0,432.0 192.0,435.0 192.0,442.0 187.0,445.0 182.0,442.0 182.0,435.0 187.0,432.0" fill="none" stroke="#000" stroke-width="1" shape-rendering="crispEdges"/>
<polyline points="520.2,485.0 527.4,486.6 534.7,486.1 539.6,484.5 546.0,485.3 550.9,488.5 554.1,495.0 553.3,501.5 550.9,508.0 549.3,516.0 547.7,524.1 542.8,530.6 531.5,535.5 518.5,536.3 502.4,535.5 491.0,533.9 486.2,530.6 481.3,527.4 483.0,523.3 491.0,522.2 502.4,524.1 508.8,523.3 513.7,520.1 508.8,517.7 506.4,512.8 505.6,506.3 504.0,501.5 504.8,497.4 508.8,496.6 512.9,498.3 514.5,501.5 515.3,495.0 517.0,488.5 520.2,485.0" fill="none" stroke="#000" stroke-width="1" shape-rendering="crispEdges"/>
<polyline points="540.0,394.0 550.5,390.0 561.0,389.5 582.0,388.3 596.0,390.0 611.8,394.0 596.0,395.8 575.0,397.5 557.5,399.3 547.0,401.0 540.0,404.5 531.0,404.0 524.0,400.0 530.0,396.0 540.0,394.0" fill="none" stroke="#000" stroke-width="1" shape-rendering="crispEdges"/>
<polyline points="223.3,411.8 226.0,407.0 230.0,410.0 233.0,405.0 234.0,398.0 237.0,397.5 238.0,409.0 235.0,418.2 228.4,417.0 223.3,411.8" fill="none" stroke="#000" stroke-width="1" shape-rendering="crispEdges"/>
<polyline points="178.0,462.0 183.0,459.0 190.0,460.0 193.0,464.0 190.0,469.0 183.0,470.0 178.0,467.0 178.0,462.0" fill="none" stroke="#000" stroke-width="1" shape-rendering="crispEdges"/>
<polyline points="142.0,447.0 147.0,444.0 153.0,446.0 154.0,452.0 151.0,459.0 145.0,460.0 142.0,455.0 142.0,447.0" fill="none" stroke="#000" stroke-width="1" shape-rendering="crispEdges"/>
<polyline points="158.0,448.0 165.0,445.0 172.0,447.0 176.0,452.0 173.0,459.0 165.0,462.0 158.0,457.0 158.0,448.0" fill="none" stroke="#000" stroke-width="1" shape-rendering="crispEdges"/>
<polyline points="208.0,408.0 212.0,406.0 215.5,409.0 215.0,415.0 211.0,417.0 208.0,414.0 208.0,408.0" fill="none" stroke="#000" stroke-width="1" shape-rendering="crispEdges"/>
<polyline points="186.0,333.0 191.0,332.5 193.5,336.0 190.0,339.0 186.0,338.0 186.0,333.0" fill="none" stroke="#000" stroke-width="1" shape-rendering="crispEdges"/>
<polyline points="243.0,393.0 250.0,392.0 252.0,400.0 250.0,410.0 247.0,419.0 243.0,415.0 241.0,405.0 243.0,393.0" fill="none" stroke="#000" stroke-width="1" shape-rendering="crispEdges"/>
<polyline points="261.0,420.0 266.0,419.5 267.0,425.0 264.0,430.0 260.0,428.0 261.0,420.0" fill="none" stroke="#000" stroke-width="1" shape-rendering="crispEdges"/>
<polyline points="211.0,420.0 215.0,421.0 215.5,428.0 213.0,435.0 210.0,430.0 211.0,420.0" fill="none" stroke="#000" stroke-width="1" shape-rendering="crispEdges"/>
<polyline points="271.0,420.0 275.0,419.0 278.0,430.0 279.0,441.0 273.0,442.0 270.0,435.0 271.0,420.0" fill="none" stroke="#000" stroke-width="1" shape-rendering="crispEdges"/>
<polyline points="284.0,418.0 286.0,425.0 286.0,436.0 283.5,432.0 284.0,418.0" fill="none" stroke="#000" stroke-width="1" shape-rendering="crispEdges"/>
<polyline points="294.0,412.0 297.0,418.0 297.6,430.0 294.0,432.0 293.0,422.0 294.0,412.0" fill="none" stroke="#000" stroke-width="1" shape-rendering="crispEdges"/>
<polyline points="302.0,192.0 307.0,188.0 312.0,186.0 316.0,190.0 313.0,196.0 306.0,198.0 302.0,192.0" fill="none" stroke="#000" stroke-width="1" shape-rendering="crispEdges"/>
<polyline points="307.0,207.0 326.0,219.0 315.0,223.6 307.0,207.0" fill="none" stroke="#000" stroke-width="1" shape-rendering="crispEdges"/>
<polyline points="336.0,209.0 340.5,214.0 337.0,220.7 332.0,215.0 336.0,209.0" fill="none" stroke="#000" stroke-width="1" shape-rendering="crispEdges"/>
<polyline points="325.0,186.0 331.8,190.0 329.0,196.4 323.0,193.0 325.0,186.0" fill="none" stroke="#000" stroke-width="1" shape-rendering="crispEdges"/>
<polyline points="437.5,65.0 436.6,66.3 434.4,67.1 431.6,67.1 429.4,66.3 428.5,65.0 429.4,63.7 431.6,62.9 434.4,62.9 436.6,63.7 437.5,65.0" fill="none" stroke="#000" stroke-width="1" shape-rendering="crispEdges"/>
<polyline points="455.5,60.0 454.8,61.2 453.1,61.9 450.9,61.9 449.2,61.2 448.5,60.0 449.2,58.8 450.9,58.1 453.1,58.1 454.8,58.8 455.5,60.0" fill="none" stroke="#000" stroke-width="1" shape-rendering="crispEdges"/>
<polyline points="420.0,83.0 429.0,82.0 425.0,88.0 420.0,83.0" fill="none" stroke="#000" stroke-width="1" shape-rendering="crispEdges"/>
<polyline points="436.0,76.0 440.0,82.0 436.0,89.5 432.5,82.0 436.0,76.0" fill="none" stroke="#000" stroke-width="1" shape-rendering="crispEdges"/>
<polyline points="446.0,84.0 447.5,90.0 446.5,95.0 445.5,89.0 446.0,84.0" fill="none" stroke="#000" stroke-width="1" shape-rendering="crispEdges"/>
<polyline points="456.0,86.0 457.0,91.0 455.5,95.0 455.0,90.0 456.0,86.0" fill="none" stroke="#000" stroke-width="1" shape-rendering="crispEdges"/>
<polyline points="490.0,78.0 492.5,83.0 490.5,88.0 489.0,83.0 490.0,78.0" fill="none" stroke="#000" stroke-width="1" shape-rendering="crispEdges"/>
<polyline points="492.5,96.0 496.0,92.0 502.0,91.5 499.0,95.0 492.5,97.0" fill="none" stroke="#000" stroke-width="1" shape-rendering="crispEdges"/>
<polyline points="430.8,109.0 430.5,110.6 429.8,111.7 428.8,111.7 428.1,110.6 427.8,109.0 428.1,107.4 428.8,106.3 429.8,106.3 430.5,107.4 430.8,109.0" fill="none" stroke="#000" stroke-width="1" shape-rendering="crispEdges"/>
<polyline points="436.0,121.5 441.0,130.0 444.0,134.6 438.0,132.0 436.0,121.5" fill="none" stroke="#000" stroke-width="1" shape-rendering="crispEdges"/>
<polyline points="443.0,123.0 445.6,127.0 444.0,131.0 442.5,127.0 443.0,123.0" fill="none" stroke="#000" stroke-width="1" shape-rendering="crispEdges"/>
<polyline points="338.0,160.0 343.0,161.0 344.4,168.0 342.0,176.0 338.5,170.0 338.0,160.0" fill="none" stroke="#000" stroke-width="1" shape-rendering="crispEdges"/>
<polyline points="354.0,163.5 353.6,165.0 352.6,165.9 351.4,165.9 350.4,165.0 350.0,163.5 350.4,162.0 351.4,161.1 352.6,161.1 353.6,162.0 354.0,163.5" fill="none" stroke="#000" stroke-width="1" shape-rendering="crispEdges"/>
<polyline points="360.0,176.0 364.0,179.0 365.0,184.0 362.0,186.0 360.0,181.0 360.0,176.0" fill="none" stroke="#000" stroke-width="1" shape-rendering="crispEdges"/>
<polyline points="369.0,192.5 368.7,194.3 368.0,195.4 367.0,195.4 366.3,194.3 366.0,192.5 366.3,190.7 367.0,189.6 368.0,189.6 368.7,190.7 369.0,192.5" fill="none" stroke="#000" stroke-width="1" shape-rendering="crispEdges"/>
<polyline points="373.0,165.0 374.5,170.0 374.0,175.0 373.0,165.0" fill="none" stroke="#000" stroke-width="1" shape-rendering="crispEdges"/>
<polyline points="372.5,177.0 378.0,180.0 380.0,186.0 375.0,183.0 372.5,177.0" fill="none" stroke="#000" stroke-width="1" shape-rendering="crispEdges"/>
<polyline points="390.0,185.5 389.8,186.4 389.1,186.9 388.3,186.9 387.6,186.4 387.4,185.5 387.6,184.6 388.3,184.1 389.1,184.1 389.8,184.6 390.0,185.5" fill="none" stroke="#000" stroke-width="1" shape-rendering="crispEdges"/>
<polyline points="415.0,188.0 419.0,185.0 422.5,189.0 419.0,192.5 415.0,188.0" fill="none" stroke="#000" stroke-width="1" shape-rendering="crispEdges"/>
<polyline points="405.0,199.0 409.0,201.0 410.0,206.0 406.0,205.0 405.0,199.0" fill="none" stroke="#000" stroke-width="1" shape-rendering="crispEdges"/>
<polyline points="444.0,189.0 447.5,192.0 446.0,196.0 444.0,193.0 444.0,189.0" fill="none" stroke="#000" stroke-width="1" shape-rendering="crispEdges"/>
<polyline points="440.0,262.0 446.0,256.0 451.0,258.0 452.0,266.0 446.0,271.0 440.0,262.0" fill="none" stroke="#000" stroke-width="1" shape-rendering="crispEdges"/>
<polyline points="388.0,217.0 390.0,226.0 389.0,236.0 387.5,226.0 388.0,217.0" fill="none" stroke="#000" stroke-width="1" shape-rendering="crispEdges"/>
<polyline points="570.0,146.0 575.0,144.0 580.0,147.0 575.0,150.0 570.0,146.0" fill="none" stroke="#000" stroke-width="1" shape-rendering="crispEdges"/>
<polyline points="470.0,450.0 471.6,455.0 473.0,465.0 474.0,479.0 476.0,489.0 480.0,497.0 484.0,503.0 490.0,506.0 492.0,501.0 491.0,496.6 487.8,493.4 485.4,477.2 486.2,456.2" fill="none" stroke="#000" stroke-width="1" shape-rendering="crispEdges"/>
<polyline points="494.3,456.0 496.0,472.0 499.0,480.0 500.0,493.4 501.6,493.4 501.6,456.0 502.4,440.0" fill="none" stroke="#000" stroke-width="1" shape-rendering="crispEdges"/>
<polyline points="349.0,55.0 346.3,56.1 336.8,65.6 328.4,70.8 320.0,76.0 312.7,80.3 305.3,83.4 299.0,87.6 296.9,89.7 292.7,93.9 288.5,98.1 284.3,102.3 280.6,106.5 282.0,109.0 286.5,110.0 289.0,114.0 294.0,112.8 299.0,115.2 301.5,121.5 302.8,134.0 300.2,144.0 296.5,154.0 290.0,156.0 284.0,156.5 285.2,161.5 290.2,165.2 287.8,176.5 286.5,189.0 285.2,204.0 284.0,210.0 280.2,218.8 269.0,222.0 244.0,222.5 230.0,225.2 217.2,227.7 208.6,231.2 196.6,240.6 190.6,245.7 186.3,256.0 176.0,268.0 165.7,278.3 157.2,288.6 154.0,293.8 146.5,302.5 142.8,312.5 144.0,322.5 146.4,329.0 147.9,346.6 147.9,361.2 145.0,372.9 139.2,387.5 136.2,402.0 134.8,415.2 139.2,428.3 139.2,440.0 133.3,450.1 124.6,460.3" fill="none" stroke="#000" stroke-width="2.8" stroke-linejoin="round" stroke-linecap="round"/>
<polyline points="284.3,55.0 282.7,64.5 281.2,71.9 279.6,78.2 279.0,85.5 280.1,96.0 282.2,98.6 287.5,99.2" fill="none" stroke="#000" stroke-width="2.8" stroke-linejoin="round" stroke-linecap="round"/>
<polyline points="291.7,55.0 291.1,64.5 291.1,71.9 293.8,75.0 296.9,78.2 298.0,82.4 299.0,85.5 300.0,87.6" fill="none" stroke="#000" stroke-width="2.8" stroke-linejoin="round" stroke-linecap="round"/>
<polyline points="316.9,76.6 312.7,73.4 309.5,70.8 310.6,66.6 312.7,64.0 315.8,62.9 320.0,60.8 323.2,63.5 324.2,65.6 326.3,64.5 327.4,60.3 328.4,57.2 329.5,59.3 330.5,56.0" fill="none" stroke="#000" stroke-width="2.8" stroke-linejoin="round" stroke-linecap="round"/>
<polyline points="124.0,145.0 134.0,148.5 142.8,148.5 149.0,151.5 164.0,151.5 165.3,150.8 161.5,146.2 164.5,143.8 171.0,135.7 182.3,143.0 188.7,142.7 193.6,135.7 204.9,130.0 216.2,126.5 223.0,121.2 230.8,118.7 238.0,115.5 246.2,116.5 252.7,116.2 259.0,119.4 272.0,124.3 280.2,129.1 287.4,136.4 289.9,145.3 289.9,154.2 290.0,156.0" fill="none" stroke="#000" stroke-width="2.8" stroke-linejoin="round" stroke-linecap="round"/>
<polyline points="189.7,189.1 196.6,190.9 205.2,193.4 211.2,197.7 205.2,200.3 200.9,205.4 200.9,214.0 203.5,217.4 212.0,219.2 215.5,220.9 214.6,227.7" fill="none" stroke="#000" stroke-width="2.8" stroke-linejoin="round" stroke-linecap="round"/>
<polyline points="189.7,189.1 182.9,192.6 177.7,199.4 176.0,206.3 179.5,213.2 185.5,220.0 186.3,226.9 183.7,232.0 174.3,234.6 169.2,238.0 166.6,244.0 165.7,251.8 170.0,252.6 179.5,249.2 184.6,245.7 188.9,244.9 191.5,247.5 189.7,251.8 186.3,252.6" fill="none" stroke="#000" stroke-width="2.8" stroke-linejoin="round" stroke-linecap="round"/>
<polyline points="191.1,234.1 209.5,228.3 210.7,233.7 194.5,240.6 191.1,234.1" fill="none" stroke="#000" stroke-width="2.8" stroke-linejoin="round" stroke-linecap="round"/>
<polyline points="183.7,257.8 176.0,265.0 166.0,272.0 159.7,280.9 160.6,262.9 167.4,256.9 176.0,254.0 183.7,257.8" fill="none" stroke="#000" stroke-width="2.8" stroke-linejoin="round" stroke-linecap="round"/>
<polyline points="124.0,403.5 137.7,403.5" fill="none" stroke="#000" stroke-width="2.8" stroke-linejoin="round" stroke-linecap="round"/>
<rect x="361.4" y="58.2" width="24.0" height="12" fill="#fff"/>
<text x="373.4" y="68.2" font-size="11" font-weight="bold" text-anchor="middle" textLength="21.0" lengthAdjust="spacingAndGlyphs">17.5</text>
<rect x="466.3" y="64.9" width="24.0" height="12" fill="#fff"/>
<text x="478.3" y="74.9" font-size="11" font-weight="bold" text-anchor="middle" textLength="21.0" lengthAdjust="spacingAndGlyphs">17.5</text>
<rect x="324.0" y="146.8" width="14.0" height="12" fill="#fff"/>
<text x="331.0" y="156.8" font-size="11" font-weight="bold" text-anchor="middle" textLength="11.0" lengthAdjust="spacingAndGlyphs">18</text>
<rect x="272.0" y="233.4" width="14.0" height="12" fill="#fff"/>
<text x="279.0" y="243.4" font-size="11" font-weight="bold" text-anchor="middle" textLength="11.0" lengthAdjust="spacingAndGlyphs">18</text>
<rect x="340.0" y="243.4" width="14.0" height="12" fill="#fff"/>
<text x="347.0" y="253.4" font-size="11" font-weight="bold" text-anchor="middle" textLength="11.0" lengthAdjust="spacingAndGlyphs">18</text>
<rect x="361.2" y="228.8" width="14.0" height="12" fill="#fff"/>
<text x="368.2" y="238.8" font-size="11" font-weight="bold" text-anchor="middle" textLength="11.0" lengthAdjust="spacingAndGlyphs">18</text>
<rect x="424.0" y="226.6" width="14.0" height="12" fill="#fff"/>
<text x="431.0" y="236.6" font-size="11" font-weight="bold" text-anchor="middle" textLength="11.0" lengthAdjust="spacingAndGlyphs">18</text>
<rect x="481.8" y="212.7" width="14.0" height="12" fill="#fff"/>
<text x="488.8" y="222.7" font-size="11" font-weight="bold" text-anchor="middle" textLength="11.0" lengthAdjust="spacingAndGlyphs">18</text>
<rect x="591.5" y="145.0" width="14.0" height="12" fill="#fff"/>
<text x="598.5" y="155.0" font-size="11" font-weight="bold" text-anchor="middle" textLength="11.0" lengthAdjust="spacingAndGlyphs">18</text>
<rect x="644.0" y="140.6" width="14.0" height="12" fill="#fff"/>
<text x="651.0" y="150.6" font-size="11" font-weight="bold" text-anchor="middle" textLength="11.0" lengthAdjust="spacingAndGlyphs">18</text>
<rect x="565.5" y="251.0" width="14.0" height="12" fill="#fff"/>
<text x="572.5" y="261.0" font-size="11" font-weight="bold" text-anchor="middle" textLength="11.0" lengthAdjust="spacingAndGlyphs">18</text>
<rect x="167.7" y="316.8" width="14.0" height="12" fill="#fff"/>
<text x="174.7" y="326.8" font-size="11" font-weight="bold" text-anchor="middle" textLength="11.0" lengthAdjust="spacingAndGlyphs">18</text>
<rect x="360.8" y="305.8" width="14.0" height="12" fill="#fff"/>
<text x="367.8" y="315.8" font-size="11" font-weight="bold" text-anchor="middle" textLength="11.0" lengthAdjust="spacingAndGlyphs">18</text>
<rect x="340.0" y="388.0" width="14.0" height="12" fill="#fff"/>
<text x="347.0" y="398.0" font-size="11" font-weight="bold" text-anchor="middle" textLength="11.0" lengthAdjust="spacingAndGlyphs">18</text>
<rect x="298.0" y="421.2" width="14.0" height="12" fill="#fff"/>
<text x="305.0" y="431.2" font-size="11" font-weight="bold" text-anchor="middle" textLength="11.0" lengthAdjust="spacingAndGlyphs">18</text>
<rect x="408.3" y="469.4" width="14.0" height="12" fill="#fff"/>
<text x="415.3" y="479.4" font-size="11" font-weight="bold" text-anchor="middle" textLength="11.0" lengthAdjust="spacingAndGlyphs">18</text>
<rect x="416.5" y="398.0" width="24.0" height="12" fill="#fff"/>
<text x="428.5" y="408.0" font-size="11" font-weight="bold" text-anchor="middle" textLength="21.0" lengthAdjust="spacingAndGlyphs">18.5</text>
<rect x="581.0" y="368.0" width="24.0" height="12" fill="#fff"/>
<text x="593.0" y="378.0" font-size="11" font-weight="bold" text-anchor="middle" textLength="21.0" lengthAdjust="spacingAndGlyphs">18.5</text>
<rect x="564.7" y="410.4" width="24.0" height="12" fill="#fff"/>
<text x="576.7" y="420.4" font-size="11" font-weight="bold" text-anchor="middle" textLength="21.0" lengthAdjust="spacingAndGlyphs">18.5</text>
<rect x="360.8" y="477.9" width="24.0" height="12" fill="#fff"/>
<text x="372.8" y="487.9" font-size="11" font-weight="bold" text-anchor="middle" textLength="21.0" lengthAdjust="spacingAndGlyphs">18.5</text>
<rect x="209.3" y="361.2" width="24.0" height="12" fill="#fff"/>
<text x="221.3" y="371.2" font-size="11" font-weight="bold" text-anchor="middle" textLength="21.0" lengthAdjust="spacingAndGlyphs">18.5</text>
<rect x="172.3" y="380.8" width="24.0" height="12" fill="#fff"/>
<text x="184.3" y="390.8" font-size="11" font-weight="bold" text-anchor="middle" textLength="21.0" lengthAdjust="spacingAndGlyphs">18.5</text>
<rect x="161.7" y="504.6" width="24.0" height="12" fill="#fff"/>
<text x="173.7" y="514.6" font-size="11" font-weight="bold" text-anchor="middle" textLength="21.0" lengthAdjust="spacingAndGlyphs">18.5</text>
<rect x="544.0" y="386.4" width="14.0" height="12" fill="#fff"/>
<text x="551.0" y="396.4" font-size="11" font-weight="bold" text-anchor="middle" textLength="11.0" lengthAdjust="spacingAndGlyphs">19</text>
<rect x="544.0" y="412.0" width="14.0" height="12" fill="#fff"/>
<text x="551.0" y="422.0" font-size="11" font-weight="bold" text-anchor="middle" textLength="11.0" lengthAdjust="spacingAndGlyphs">19</text>
<rect x="439.3" y="477.9" width="14.0" height="12" fill="#fff"/>
<text x="446.3" y="487.9" font-size="11" font-weight="bold" text-anchor="middle" textLength="11.0" lengthAdjust="spacingAndGlyphs">19</text>
<rect x="271.9" y="487.0" width="14.0" height="12" fill="#fff"/>
<text x="278.9" y="497.0" font-size="11" font-weight="bold" text-anchor="middle" textLength="11.0" lengthAdjust="spacingAndGlyphs">19</text>
<rect x="308.0" y="498.0" width="14.0" height="12" fill="#fff"/>
<text x="315.0" y="508.0" font-size="11" font-weight="bold" text-anchor="middle" textLength="11.0" lengthAdjust="spacingAndGlyphs">19</text>
<rect x="302.9" y="526.1" width="14.0" height="12" fill="#fff"/>
<text x="309.9" y="536.1" font-size="11" font-weight="bold" text-anchor="middle" textLength="11.0" lengthAdjust="spacingAndGlyphs">19</text>
<rect x="481.5" y="435.3" width="14.0" height="12" fill="#fff"/>
<text x="488.5" y="445.3" font-size="11" font-weight="bold" text-anchor="middle" textLength="11.0" lengthAdjust="spacingAndGlyphs">19</text>
<rect x="481.5" y="445.1" width="14.0" height="12" fill="#fff"/>
<text x="488.5" y="455.1" font-size="11" font-weight="bold" text-anchor="middle" textLength="11.0" lengthAdjust="spacingAndGlyphs">19</text>
<rect x="513.0" y="479.5" width="14.0" height="12" fill="#fff"/>
<text x="520.0" y="489.5" font-size="11" font-weight="bold" text-anchor="middle" textLength="11.0" lengthAdjust="spacingAndGlyphs">19</text>
<rect x="124" y="55" width="551" height="509" fill="none" stroke="#000" stroke-width="2"/>
<line x1="124.0" y1="565" x2="124.0" y2="568" stroke="#000" stroke-width="1"/>
<line x1="194.5" y1="565" x2="194.5" y2="568" stroke="#000" stroke-width="1"/>
<line x1="265.5" y1="565" x2="265.5" y2="568" stroke="#000" stroke-width="1"/>
<line x1="336.5" y1="565" x2="336.5" y2="568" stroke="#000" stroke-width="1"/>
<line x1="407.5" y1="565" x2="407.5" y2="568" stroke="#000" stroke-width="1"/>
<line x1="477.5" y1="565" x2="477.5" y2="568" stroke="#000" stroke-width="1"/>
<line x1="548.5" y1="565" x2="548.5" y2="568" stroke="#000" stroke-width="1"/>
<line x1="619.5" y1="565" x2="619.5" y2="568" stroke="#000" stroke-width="1"/>
<line x1="120" y1="106.5" x2="123" y2="106.5" stroke="#000" stroke-width="1"/>
<line x1="120" y1="191.5" x2="123" y2="191.5" stroke="#000" stroke-width="1"/>
<line x1="120" y1="276.5" x2="123" y2="276.5" stroke="#000" stroke-width="1"/>
<line x1="120" y1="360.5" x2="123" y2="360.5" stroke="#000" stroke-width="1"/>
<line x1="120" y1="445.5" x2="123" y2="445.5" stroke="#000" stroke-width="1"/>
<line x1="120" y1="530.5" x2="123" y2="530.5" stroke="#000" stroke-width="1"/>
<defs><linearGradient id="cb" x1="0" y1="1" x2="0" y2="0"><stop offset="0.000%" stop-color="rgb(0,0,135)"/><stop offset="1.250%" stop-color="rgb(0,0,135)"/><stop offset="1.250%" stop-color="rgb(0,0,149)"/><stop offset="2.500%" stop-color="rgb(0,0,149)"/><stop offset="2.500%" stop-color="rgb(0,0,164)"/><stop offset="3.750%" stop-color="rgb(0,0,164)"/><stop offset="3.750%" stop-color="rgb(0,0,178)"/><stop offset="5.000%" stop-color="rgb(0,0,178)"/><stop offset="5.000%" stop-color="rgb(0,0,193)"/><stop offset="6.250%" stop-color="rgb(0,0,193)"/><stop offset="6.250%" stop-color="rgb(0,0,207)"/><stop offset="7.500%" stop-color="rgb(0,0,207)"/><stop offset="7.500%" stop-color="rgb(0,0,222)"/><stop offset="8.750%" stop-color="rgb(0,0,222)"/><stop offset="8.750%" stop-color="rgb(0,0,236)"/><stop offset="10.000%" stop-color="rgb(0,0,236)"/><stop offset="10.000%" stop-color="rgb(0,0,251)"/><stop offset="11.250%" stop-color="rgb(0,0,251)"/><stop offset="11.250%" stop-color="rgb(0,0,255)"/><stop offset="12.500%" stop-color="rgb(0,0,255)"/><stop offset="12.500%" stop-color="rgb(0,6,255)"/><stop offset="13.750%" stop-color="rgb(0,6,255)"/><stop offset="13.750%" stop-color="rgb(0,19,255)"/><stop offset="15.000%" stop-color="rgb(0,19,255)"/><stop offset="15.000%" stop-color="rgb(0,32,255)"/><stop offset="16.250%" stop-color="rgb(0,32,255)"/><stop offset="16.250%" stop-color="rgb(0,45,255)"/><stop offset="17.500%" stop-color="rgb(0,45,255)"/><stop offset="17.500%" stop-color="rgb(0,57,255)"/><stop offset="18.750%" stop-color="rgb(0,57,255)"/><stop offset="18.750%" stop-color="rgb(0,70,255)"/><stop offset="20.000%" stop-color="rgb(0,70,255)"/><stop offset="20.000%" stop-color="rgb(0,83,255)"/><stop offset="21.250%" stop-color="rgb(0,83,255)"/><stop offset="21.250%" stop-color="rgb(0,96,255)"/><stop offset="22.500%" stop-color="rgb(0,96,255)"/><stop offset="22.500%" stop-color="rgb(0,108,255)"/><stop offset="23.750%" stop-color="rgb(0,108,255)"/><stop offset="23.750%" stop-color="rgb(0,121,255)"/><stop offset="25.000%" stop-color="rgb(0,121,255)"/><stop offset="25.000%" stop-color="rgb(0,134,255)"/><stop offset="26.250%" stop-color="rgb(0,134,255)"/><stop offset="26.250%" stop-color="rgb(0,147,255)"/><stop offset="27.500%" stop-color="rgb(0,147,255)"/><stop offset="27.500%" stop-color="rgb(0,159,255)"/><stop offset="28.750%" stop-color="rgb(0,159,255)"/><stop offset="28.750%" stop-color="rgb(0,172,255)"/><stop offset="30.000%" stop-color="rgb(0,172,255)"/><stop offset="30.000%" stop-color="rgb(0,185,255)"/><stop offset="31.250%" stop-color="rgb(0,185,255)"/><stop offset="31.250%" stop-color="rgb(0,198,255)"/><stop offset="32.500%" stop-color="rgb(0,198,255)"/><stop offset="32.500%" stop-color="rgb(0,210,255)"/><stop offset="33.750%" stop-color="rgb(0,210,255)"/><stop offset="33.750%" stop-color="rgb(0,223,252)"/><stop offset="35.000%" stop-color="rgb(0,223,252)"/><stop offset="35.000%" stop-color="rgb(5,236,242)"/><stop offset="36.250%" stop-color="rgb(5,236,242)"/><stop offset="36.250%" stop-color="rgb(15,249,231)"/><stop offset="37.500%" stop-color="rgb(15,249,231)"/><stop offset="37.500%" stop-color="rgb(26,255,221)"/><stop offset="38.750%" stop-color="rgb(26,255,221)"/><stop offset="38.750%" stop-color="rgb(36,255,211)"/><stop offset="40.000%" stop-color="rgb(36,255,211)"/><stop offset="40.000%" stop-color="rgb(46,255,201)"/><stop offset="41.250%" stop-color="rgb(46,255,201)"/><stop offset="41.250%" stop-color="rgb(57,255,190)"/><stop offset="42.500%" stop-color="rgb(57,255,190)"/><stop offset="42.500%" stop-color="rgb(67,255,180)"/><stop offset="43.750%" stop-color="rgb(67,255,180)"/><stop offset="43.750%" stop-color="rgb(77,255,170)"/><stop offset="45.000%" stop-color="rgb(77,255,170)"/><stop offset="45.000%" stop-color="rgb(87,255,159)"/><stop offset="46.250%" stop-color="rgb(87,255,159)"/><stop offset="46.250%" stop-color="rgb(98,255,149)"/><stop offset="47.500%" stop-color="rgb(98,255,149)"/><stop offset="47.500%" stop-color="rgb(108,255,139)"/><stop offset="48.750%" stop-color="rgb(108,255,139)"/><stop offset="48.750%" stop-color="rgb(118,255,129)"/><stop offset="50.000%" stop-color="rgb(118,255,129)"/><stop offset="50.000%" stop-color="rgb(129,255,118)"/><stop offset="51.250%" stop-color="rgb(129,255,118)"/><stop offset="51.250%" stop-color="rgb(139,255,108)"/><stop offset="52.500%" stop-color="rgb(139,255,108)"/><stop offset="52.500%" stop-color="rgb(149,255,98)"/><stop offset="53.750%" stop-color="rgb(149,255,98)"/><stop offset="53.750%" stop-color="rgb(159,255,87)"/><stop offset="55.000%" stop-color="rgb(159,255,87)"/><stop offset="55.000%" stop-color="rgb(170,255,77)"/><stop offset="56.250%" stop-color="rgb(170,255,77)"/><stop offset="56.250%" stop-color="rgb(180,255,67)"/><stop offset="57.500%" stop-color="rgb(180,255,67)"/><stop offset="57.500%" stop-color="rgb(190,255,57)"/><stop offset="58.750%" stop-color="rgb(190,255,57)"/><stop offset="58.750%" stop-color="rgb(201,255,46)"/><stop offset="60.000%" stop-color="rgb(201,255,46)"/><stop offset="60.000%" stop-color="rgb(211,255,36)"/><stop offset="61.250%" stop-color="rgb(211,255,36)"/><stop offset="61.250%" stop-color="rgb(221,255,26)"/><stop offset="62.500%" stop-color="rgb(221,255,26)"/><stop offset="62.500%" stop-color="rgb(231,255,15)"/><stop offset="63.750%" stop-color="rgb(231,255,15)"/><stop offset="63.750%" stop-color="rgb(242,251,5)"/><stop offset="65.000%" stop-color="rgb(242,251,5)"/><stop offset="65.000%" stop-color="rgb(252,240,0)"/><stop offset="66.250%" stop-color="rgb(252,240,0)"/><stop offset="66.250%" stop-color="rgb(255,228,0)"/><stop offset="67.500%" stop-color="rgb(255,228,0)"/><stop offset="67.500%" stop-color="rgb(255,216,0)"/><stop offset="68.750%" stop-color="rgb(255,216,0)"/><stop offset="68.750%" stop-color="rgb(255,204,0)"/><stop offset="70.000%" stop-color="rgb(255,204,0)"/><stop offset="70.000%" stop-color="rgb(255,192,0)"/><stop offset="71.250%" stop-color="rgb(255,192,0)"/><stop offset="71.250%" stop-color="rgb(255,181,0)"/><stop offset="72.500%" stop-color="rgb(255,181,0)"/><stop offset="72.500%" stop-color="rgb(255,169,0)"/><stop offset="73.750%" stop-color="rgb(255,169,0)"/><stop offset="73.750%" stop-color="rgb(255,157,0)"/><stop offset="75.000%" stop-color="rgb(255,157,0)"/><stop offset="75.000%" stop-color="rgb(255,145,0)"/><stop offset="76.250%" stop-color="rgb(255,145,0)"/><stop offset="76.250%" stop-color="rgb(255,133,0)"/><stop offset="77.500%" stop-color="rgb(255,133,0)"/><stop offset="77.500%" stop-color="rgb(255,122,0)"/><stop offset="78.750%" stop-color="rgb(255,122,0)"/><stop offset="78.750%" stop-color="rgb(255,110,0)"/><stop offset="80.000%" stop-color="rgb(255,110,0)"/><stop offset="80.000%" stop-color="rgb(255,98,0)"/><stop offset="81.250%" stop-color="rgb(255,98,0)"/><stop offset="81.250%" stop-color="rgb(255,86,0)"/><stop offset="82.500%" stop-color="rgb(255,86,0)"/><stop offset="82.500%" stop-color="rgb(255,74,0)"/><stop offset="83.750%" stop-color="rgb(255,74,0)"/><stop offset="83.750%" stop-color="rgb(255,63,0)"/><stop offset="85.000%" stop-color="rgb(255,63,0)"/><stop offset="85.000%" stop-color="rgb(255,51,0)"/><stop offset="86.250%" stop-color="rgb(255,51,0)"/><stop offset="86.250%" stop-color="rgb(255,39,0)"/><stop offset="87.500%" stop-color="rgb(255,39,0)"/><stop offset="87.500%" stop-color="rgb(255,27,0)"/><stop offset="88.750%" stop-color="rgb(255,27,0)"/><stop offset="88.750%" stop-color="rgb(251,15,0)"/><stop offset="90.000%" stop-color="rgb(251,15,0)"/><stop offset="90.000%" stop-color="rgb(236,4,0)"/><stop offset="91.250%" stop-color="rgb(236,4,0)"/><stop offset="91.250%" stop-color="rgb(222,0,0)"/><stop offset="92.500%" stop-color="rgb(222,0,0)"/><stop offset="92.500%" stop-color="rgb(207,0,0)"/><stop offset="93.750%" stop-color="rgb(207,0,0)"/><stop offset="93.750%" stop-color="rgb(193,0,0)"/><stop offset="95.000%" stop-color="rgb(193,0,0)"/><stop offset="95.000%" stop-color="rgb(178,0,0)"/><stop offset="96.250%" stop-color="rgb(178,0,0)"/><stop offset="96.250%" stop-color="rgb(164,0,0)"/><stop offset="97.500%" stop-color="rgb(164,0,0)"/><stop offset="97.500%" stop-color="rgb(149,0,0)"/><stop offset="98.750%" stop-color="rgb(149,0,0)"/><stop offset="98.750%" stop-color="rgb(135,0,0)"/><stop offset="100.000%" stop-color="rgb(135,0,0)"/></linearGradient></defs>
<rect x="708" y="61" width="16" height="496" fill="url(#cb)"/>
<text x="112.00" y="580.00" font-size="12.6" textLength="25.00" lengthAdjust="spacingAndGlyphs">28.5</text>
<text x="188.00" y="580.00" font-size="12.6" textLength="14.00" lengthAdjust="spacingAndGlyphs">29</text>
<text x="252.80" y="580.00" font-size="12.6" textLength="24.00" lengthAdjust="spacingAndGlyphs">29.5</text>
<text x="329.00" y="580.00" font-size="12.6" textLength="13.20" lengthAdjust="spacingAndGlyphs">30</text>
<text x="394.80" y="580.00" font-size="12.6" textLength="24.60" lengthAdjust="spacingAndGlyphs">30.5</text>
<text x="471.60" y="580.00" font-size="12.6" textLength="10.40" lengthAdjust="spacingAndGlyphs">31</text>
<text x="535.80" y="580.00" font-size="12.6" textLength="24.20" lengthAdjust="spacingAndGlyphs">31.5</text>
<text x="612.20" y="580.00" font-size="12.6" textLength="14.80" lengthAdjust="spacingAndGlyphs">32</text>
<text x="93.00" y="111.00" font-size="12.6" textLength="25.00" lengthAdjust="spacingAndGlyphs">45.5</text>
<text x="104.00" y="197.00" font-size="12.6" textLength="14.00" lengthAdjust="spacingAndGlyphs">45</text>
<text x="93.00" y="281.00" font-size="12.6" textLength="25.00" lengthAdjust="spacingAndGlyphs">44.5</text>
<text x="104.00" y="366.00" font-size="12.6" textLength="13.00" lengthAdjust="spacingAndGlyphs">44</text>
<text x="93.00" y="451.00" font-size="12.6" textLength="25.00" lengthAdjust="spacingAndGlyphs">43.5</text>
<text x="104.00" y="536.00" font-size="12.6" textLength="14.00" lengthAdjust="spacingAndGlyphs">43</text>
<text x="735.00" y="74.00" font-size="14.0" textLength="30.00" lengthAdjust="spacingAndGlyphs">19.7</text>
<text x="735.00" y="190.00" font-size="14.0" textLength="30.00" lengthAdjust="spacingAndGlyphs">19.0</text>
<text x="735.00" y="312.00" font-size="14.0" textLength="30.00" lengthAdjust="spacingAndGlyphs">18.3</text>
<text x="735.00" y="434.00" font-size="14.0" textLength="30.00" lengthAdjust="spacingAndGlyphs">17.6</text>
<text x="735.00" y="556.00" font-size="14.0" textLength="30.00" lengthAdjust="spacingAndGlyphs">16.8</text>
<text x="23.0" y="42.5" font-size="25" textLength="140.7" lengthAdjust="spacingAndGlyphs">Temperature</text>
<text x="174.9" y="42.5" font-size="25" textLength="108.8" lengthAdjust="spacingAndGlyphs">(Celsius).</text>
<text x="296.0" y="42.5" font-size="25" textLength="50.0" lengthAdjust="spacingAndGlyphs">Date</text>
<text x="362.4" y="42.5" font-size="25" textLength="133.9" lengthAdjust="spacingAndGlyphs">2018.10.22.</text>
<text x="506.7" y="42.5" font-size="25" textLength="55.3" lengthAdjust="spacingAndGlyphs">Time</text>
<text x="577.6" y="42.5" font-size="25" textLength="142.0" lengthAdjust="spacingAndGlyphs">00(h):00(m)</text>
<text x="733.0" y="42.5" font-size="25" textLength="43.1" lengthAdjust="spacingAndGlyphs">GMT</text>
<text x="322.0" y="605.2" font-size="20" textLength="88.0" lengthAdjust="spacingAndGlyphs">Longitude</text>
<text x="421.0" y="605.2" font-size="20" textLength="55.8" lengthAdjust="spacingAndGlyphs">(East)</text>
<text transform="translate(82,298.5) rotate(-90)" x="0" y="0" font-size="20.5" textLength="62.2" lengthAdjust="spacingAndGlyphs">(North)</text>
<text transform="translate(82,385.0) rotate(-90)" x="0" y="0" font-size="20.5" textLength="73.0" lengthAdjust="spacingAndGlyphs">Latitude</text>
<text x="146.1" y="110" font-size="19" fill="#111" class="thin" textLength="12.9" lengthAdjust="spacingAndGlyphs">Z</text>
<text x="174.6" y="110" font-size="19" fill="#111" class="thin" textLength="16.6" lengthAdjust="spacingAndGlyphs">=</text>
<text x="205.2" y="110" font-size="19" fill="#111" class="thin" textLength="36.4" lengthAdjust="spacingAndGlyphs">2.5</text>
<text x="255.0" y="110" font-size="19" fill="#111" class="thin" textLength="21.6" lengthAdjust="spacingAndGlyphs">m</text>
</svg>
</body></html>
